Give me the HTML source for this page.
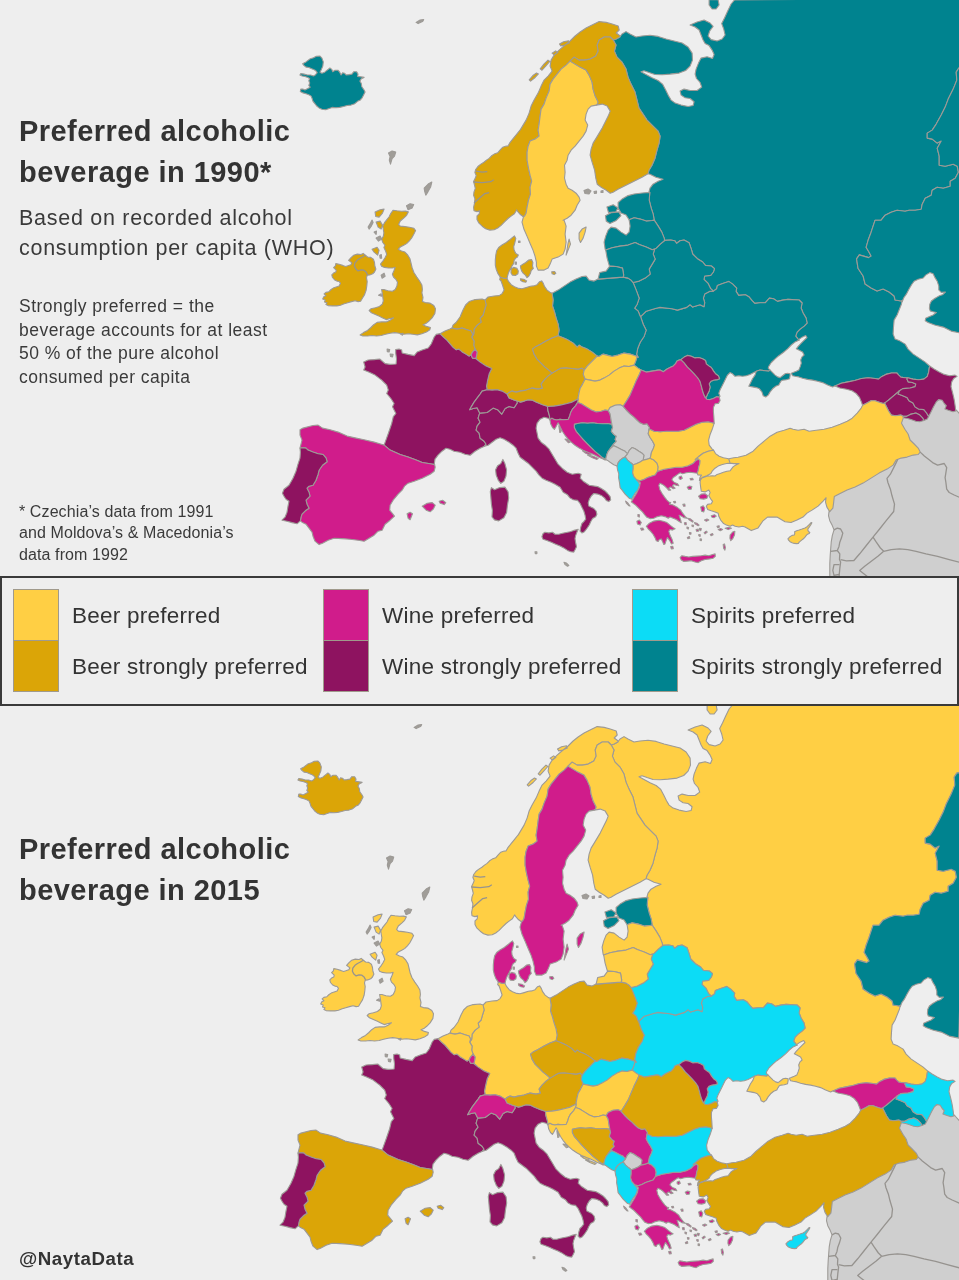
<!DOCTYPE html>
<html><head><meta charset="utf-8"><title>Preferred alcoholic beverage</title>
<style>
html,body{margin:0;padding:0;}
body{width:959px;height:1280px;position:relative;overflow:hidden;background:#eeeeee;font-family:"Liberation Sans",sans-serif;color:#333;}
svg.map{position:absolute;left:0;width:959px;height:577px;overflow:hidden;}
svg.map path{stroke:#9d9a96;stroke-width:1.1;stroke-linejoin:round;}
svg.map path.ln{stroke:#96938f;stroke-width:1.3;}
.t{position:absolute;left:19px;white-space:nowrap;margin:0;will-change:transform;}
.h1{font-weight:bold;font-size:29px;line-height:41.3px;letter-spacing:0.45px;color:#333;}
.sub{font-size:21.5px;line-height:30.1px;letter-spacing:0.72px;color:#3a3a3a;}
.note{font-size:17.5px;line-height:23.7px;letter-spacing:0.47px;color:#3a3a3a;}
.foot{font-size:16px;line-height:21.3px;letter-spacing:0.1px;color:#3a3a3a;}
.legend{position:absolute;left:0;top:576px;width:955px;height:126px;border:2px solid #3a3a3a;background:#eeeeee;}
.sw{position:absolute;width:44px;height:50px;border:1px solid #a09a8c;}
.lb{will-change:transform;position:absolute;font-size:22.5px;line-height:26px;letter-spacing:0.25px;white-space:nowrap;color:#333;}
</style></head><body>
<svg class="map" style="top:0" viewBox="0 0 959 577">
<path fill="#cfcfcf" d="M829.7,511.7L827.1,500.1L839.1,488.1L863.1,476.1L893.1,458.1L907.1,440L896.8,425.9L899.5,413.7L910.3,416.4L923.9,417.8L929.3,413.7L936.1,400.8L942.2,398.8L948.3,409L955.7,409.6L957.1,411L963.2,417.8L968,580L829,580L829.8,576L829.8,563.8L830.2,555.5L830.7,548.8L831.2,542.2L832.3,535.6L834,529.8L832.3,525.6L829.8,520.7L828.5,515.7L829,511.5ZM829.7,511.7L827.1,500.1L839.1,488.1L863.1,476.1L893.1,458.1L907.1,440L896.8,425.9L899.5,413.7L910.3,416.4L923.9,417.8L929.3,413.7L936.1,400.8L942.2,398.8L948.3,409L955.7,409.6L957.1,411L963.2,417.8L968,580L829,580L829.8,576L829.8,563.8L830.2,555.5L830.7,548.8L831.2,542.2L832.3,535.6L834,529.8L832.3,525.6L829.8,520.7L828.5,515.7L829,511.5Z"/>
<path fill="#00838f" d="M619.8,37L616.2,39L613.2,40L613.2,40L616,45L614.4,51.1L617,57.1L622,62.1L626,69.1L628,77.1L631,84.1L635,92.1L637,100.1L639,108.1L643,114.1L647,120.1L653,126.1L658.1,131.1L660.1,136.1L659.1,143.1L657,150.2L655,158.2L652,165.2L649,170.2L648,173.8L650,174.2L656,177.2L663.1,179.2L658.1,181.2L653,184.2L650,188.2L649,191.8L649.8,192.4L649.2,200.1L651.2,208.1L653.2,214.1L654.2,220.1L654.2,220.1L658.2,226.1L661.8,232.1L664.2,238.1L664.6,240.5L664.7,240.4L670.7,240L674.7,240.7L676.7,243.3L680,240.7L684,240L689.1,242.7L691.4,249.4L692.7,254L697.4,258.7L702.7,262L705.4,265.4L711.4,266L714.5,268.7L713.4,272L710.7,275.4L704.7,276L704,279.4L708.1,283.4L710.7,288.7L713.4,291.1L713.4,291.1L716.7,288.7L717.4,285.4L722.7,283.4L728.7,281.4L732.7,284.1L736.7,288.1L736.1,291.4L738.7,295.4L745.4,294.7L748.8,296.7L752.1,300.7L754.8,303.4L760.1,302.7L765.4,302.7L769.4,298.1L773.5,298.7L777.5,301.4L782.8,300.1L788,299.4L792.1,299.6L799.1,300L802.1,303L801.1,308L803.1,313L806.1,318.1L807.1,323.1L804.1,326.1L800.1,329.1L797.1,332.1L795.7,336.1L798.1,339.1L799.1,340.1L796.3,340.6L798.8,339.4L802.6,336.9L805.7,335.6L807,337.5L803.8,340.6L801.3,343.1L798.2,346.3L796.3,348.8L798.8,350L802.6,351.9L804.1,355L802,356.9L800.7,360L801.3,363.2L800.1,366.9L798.8,370.1L796.3,371.3L793.2,372.6L791.3,373.2L792.6,375.7L795.1,376.3L798.8,376.9L802.6,378.2L807.6,379.4L812.6,380.1L817.6,381.3L822.6,382.6L827.6,385.1L832.6,386.9L835.1,385.7L835.1,385.9L841.2,383.2L848,381.9L854.8,380.5L861.5,378.5L868.3,377.8L875.1,378.5L878.5,379.1L881.9,376.4L885.9,374.4L891.4,373L896.8,373L898.8,375.1L900.8,377.1L904.9,377.8L907.6,377.8L907.6,377.8L913,379.1L918.5,379.8L923.9,379.1L927.3,376.4L928.6,372.4L929.3,367.6L930,366.3L930,366.3L925.2,362.1L919.2,358.1L913.2,354.1L908.1,349.1L905.1,344.1L900.1,341.1L895.1,339.1L893.1,334.1L893.5,327.1L894.1,320.1L897.1,315L899.1,310L901.5,304L902.1,300.4L902.1,300.4L901.1,301L895.1,300L894.1,296L889.1,292L883.1,289L877.1,291L871.1,288L865.1,284L863.1,276L858,268.2L856.6,258.9L859.3,254.9L868.6,257.6L871.1,256.1L869.1,252.3L866.1,247.3L868.1,240.3L871.1,232.2L873.1,226.2L875.1,220.2L881.1,220.2L885.1,215.2L891.1,212.2L897.1,210.2L905.1,211.2L909.1,210.2L915.2,210.2L921.2,209.2L922.2,204.2L925.2,198.2L931.2,195.2L932.2,190.2L937.2,187.2L943.2,188.2L950.2,186.2L950.2,181.2L955.2,178.2L958.4,172.2L957.2,166.2L953.2,164.2L945.2,166.2L939.2,165.2L939.2,156.2L937.2,148.2L941.2,141.1L937.2,143.1L932.2,139.1L927.2,138.1L927.2,133.1L932.2,130.1L936.2,124.1L941.2,115.1L945.2,107.1L948.2,99.1L953.2,89.1L956.8,80.1L956.2,72.1L958.8,68.1L967.2,66.1L968,68L968,-2L734.5,0L731.1,4L727.7,11L724.5,18L721.7,23.6L723.7,29L725.1,35L722.1,39L717.1,41L711.1,39.6L708.1,36L709.7,31L713.1,26.4L710.1,23L704.1,20L697.1,22L690.1,25L695.1,27L699.1,30L701.1,35L703.1,40L705.1,43.6L709.1,45.6L712.1,50.1L714.1,54.5L712.5,58.5L707.1,56.7L701.1,58.1L698.5,63.1L696.1,69.1L695.1,74.1L696.5,78.5L700.1,82.5L701.7,87.1L697.1,90.5L690.1,90.5L684.1,89.1L680.1,91.1L681.1,95.1L685.1,97.7L690.1,98.5L694.1,101.7L693.1,105.5L688.1,106.5L681.1,105.1L675.1,103.1L671.1,100.1L668.5,95.7L665.7,90.1L662.5,84.1L658.1,80.5L652,77.7L646,74.5L641,71.7L644,70.7L649,72.5L655,74.5L662.1,74.7L670.1,74.1L679.1,73.1L685.7,70.5L690.1,66.1L692.5,60.1L692.1,53.1L688.1,47L682.1,43L674.1,41L666.1,39L658.1,36.4L650,35.2L642,36L636,37L630,34L626,31.6L622,34L619.8,37ZM709.1,-0.4L718.1,-0.4L719.1,5L716.1,9L712.1,9L709.1,5ZM619.8,37L616.2,39L613.2,40L613.2,40L616,45L614.4,51.1L617,57.1L622,62.1L626,69.1L628,77.1L631,84.1L635,92.1L637,100.1L639,108.1L643,114.1L647,120.1L653,126.1L658.1,131.1L660.1,136.1L659.1,143.1L657,150.2L655,158.2L652,165.2L649,170.2L648,173.8L650,174.2L656,177.2L663.1,179.2L658.1,181.2L653,184.2L650,188.2L649,191.8L649.8,192.4L649.2,200.1L651.2,208.1L653.2,214.1L654.2,220.1L654.2,220.1L658.2,226.1L661.8,232.1L664.2,238.1L664.6,240.5L664.7,240.4L670.7,240L674.7,240.7L676.7,243.3L680,240.7L684,240L689.1,242.7L691.4,249.4L692.7,254L697.4,258.7L702.7,262L705.4,265.4L711.4,266L714.5,268.7L713.4,272L710.7,275.4L704.7,276L704,279.4L708.1,283.4L710.7,288.7L713.4,291.1L713.4,291.1L716.7,288.7L717.4,285.4L722.7,283.4L728.7,281.4L732.7,284.1L736.7,288.1L736.1,291.4L738.7,295.4L745.4,294.7L748.8,296.7L752.1,300.7L754.8,303.4L760.1,302.7L765.4,302.7L769.4,298.1L773.5,298.7L777.5,301.4L782.8,300.1L788,299.4L792.1,299.6L799.1,300L802.1,303L801.1,308L803.1,313L806.1,318.1L807.1,323.1L804.1,326.1L800.1,329.1L797.1,332.1L795.7,336.1L798.1,339.1L799.1,340.1L796.3,340.6L798.8,339.4L802.6,336.9L805.7,335.6L807,337.5L803.8,340.6L801.3,343.1L798.2,346.3L796.3,348.8L798.8,350L802.6,351.9L804.1,355L802,356.9L800.7,360L801.3,363.2L800.1,366.9L798.8,370.1L796.3,371.3L793.2,372.6L791.3,373.2L792.6,375.7L795.1,376.3L798.8,376.9L802.6,378.2L807.6,379.4L812.6,380.1L817.6,381.3L822.6,382.6L827.6,385.1L832.6,386.9L835.1,385.7L835.1,385.9L841.2,383.2L848,381.9L854.8,380.5L861.5,378.5L868.3,377.8L875.1,378.5L878.5,379.1L881.9,376.4L885.9,374.4L891.4,373L896.8,373L898.8,375.1L900.8,377.1L904.9,377.8L907.6,377.8L907.6,377.8L913,379.1L918.5,379.8L923.9,379.1L927.3,376.4L928.6,372.4L929.3,367.6L930,366.3L930,366.3L925.2,362.1L919.2,358.1L913.2,354.1L908.1,349.1L905.1,344.1L900.1,341.1L895.1,339.1L893.1,334.1L893.5,327.1L894.1,320.1L897.1,315L899.1,310L901.5,304L902.1,300.4L902.1,300.4L901.1,301L895.1,300L894.1,296L889.1,292L883.1,289L877.1,291L871.1,288L865.1,284L863.1,276L858,268.2L856.6,258.9L859.3,254.9L868.6,257.6L871.1,256.1L869.1,252.3L866.1,247.3L868.1,240.3L871.1,232.2L873.1,226.2L875.1,220.2L881.1,220.2L885.1,215.2L891.1,212.2L897.1,210.2L905.1,211.2L909.1,210.2L915.2,210.2L921.2,209.2L922.2,204.2L925.2,198.2L931.2,195.2L932.2,190.2L937.2,187.2L943.2,188.2L950.2,186.2L950.2,181.2L955.2,178.2L958.4,172.2L957.2,166.2L953.2,164.2L945.2,166.2L939.2,165.2L939.2,156.2L937.2,148.2L941.2,141.1L937.2,143.1L932.2,139.1L927.2,138.1L927.2,133.1L932.2,130.1L936.2,124.1L941.2,115.1L945.2,107.1L948.2,99.1L953.2,89.1L956.8,80.1L956.2,72.1L958.8,68.1L967.2,66.1L968,68L968,-2L734.5,0L731.1,4L727.7,11L724.5,18L721.7,23.6L723.7,29L725.1,35L722.1,39L717.1,41L711.1,39.6L708.1,36L709.7,31L713.1,26.4L710.1,23L704.1,20L697.1,22L690.1,25L695.1,27L699.1,30L701.1,35L703.1,40L705.1,43.6L709.1,45.6L712.1,50.1L714.1,54.5L712.5,58.5L707.1,56.7L701.1,58.1L698.5,63.1L696.1,69.1L695.1,74.1L696.5,78.5L700.1,82.5L701.7,87.1L697.1,90.5L690.1,90.5L684.1,89.1L680.1,91.1L681.1,95.1L685.1,97.7L690.1,98.5L694.1,101.7L693.1,105.5L688.1,106.5L681.1,105.1L675.1,103.1L671.1,100.1L668.5,95.7L665.7,90.1L662.5,84.1L658.1,80.5L652,77.7L646,74.5L641,71.7L644,70.7L649,72.5L655,74.5L662.1,74.7L670.1,74.1L679.1,73.1L685.7,70.5L690.1,66.1L692.5,60.1L692.1,53.1L688.1,47L682.1,43L674.1,41L666.1,39L658.1,36.4L650,35.2L642,36L636,37L630,34L626,31.6L622,34L619.8,37ZM709.1,-0.4L718.1,-0.4L719.1,5L716.1,9L712.1,9L709.1,5Z"/>
<path fill="#00838f" d="M967.2,66.1L958.8,68.1L956.2,72.1L956.8,80.1L953.2,89.1L948.2,99.1L945.2,107.1L941.2,115.1L936.2,124.1L932.2,130.1L927.2,133.1L927.2,138.1L932.2,139.1L937.2,143.1L941.2,141.1L937.2,148.2L939.2,156.2L939.2,165.2L945.2,166.2L953.2,164.2L957.2,166.2L958.4,172.2L955.2,178.2L950.2,181.2L950.2,186.2L943.2,188.2L937.2,187.2L932.2,190.2L931.2,195.2L925.2,198.2L922.2,204.2L921.2,209.2L915.2,210.2L909.1,210.2L905.1,211.2L897.1,210.2L891.1,212.2L885.1,215.2L881.1,220.2L875.1,220.2L873.1,226.2L871.1,232.2L868.1,240.3L866.1,247.3L869.1,252.3L871.1,256.1L868.6,257.6L859.3,254.9L856.6,258.9L858,268.2L863.1,276L865.1,284L871.1,288L877.1,291L883.1,289L889.1,292L894.1,296L895.1,300L901.1,301L902.1,300.4L902.2,301.8L903.8,297.7L906.7,293.6L909.2,288.7L911.7,284.5L914.1,281.2L918.2,279.2L923.2,278L925.7,275.1L929.8,272.6L933.1,273.8L934.7,277.1L937.2,281.2L938.8,286.2L938.8,289.9L941.3,292.4L945.4,292L943,294.4L938.8,296.1L934.7,298.5L931.4,301L929.8,304.3L929.4,308.4L930.2,310.9L933.1,311.7L936.4,312.5L933.1,315L929,316.7L925.7,318.3L925.2,320.8L928.1,322.4L931.4,323.7L934.7,325L943.2,327.1L951.2,331.1L960.8,333.1L968,68ZM967.2,66.1L958.8,68.1L956.2,72.1L956.8,80.1L953.2,89.1L948.2,99.1L945.2,107.1L941.2,115.1L936.2,124.1L932.2,130.1L927.2,133.1L927.2,138.1L932.2,139.1L937.2,143.1L941.2,141.1L937.2,148.2L939.2,156.2L939.2,165.2L945.2,166.2L953.2,164.2L957.2,166.2L958.4,172.2L955.2,178.2L950.2,181.2L950.2,186.2L943.2,188.2L937.2,187.2L932.2,190.2L931.2,195.2L925.2,198.2L922.2,204.2L921.2,209.2L915.2,210.2L909.1,210.2L905.1,211.2L897.1,210.2L891.1,212.2L885.1,215.2L881.1,220.2L875.1,220.2L873.1,226.2L871.1,232.2L868.1,240.3L866.1,247.3L869.1,252.3L871.1,256.1L868.6,257.6L859.3,254.9L856.6,258.9L858,268.2L863.1,276L865.1,284L871.1,288L877.1,291L883.1,289L889.1,292L894.1,296L895.1,300L901.1,301L902.1,300.4L902.2,301.8L903.8,297.7L906.7,293.6L909.2,288.7L911.7,284.5L914.1,281.2L918.2,279.2L923.2,278L925.7,275.1L929.8,272.6L933.1,273.8L934.7,277.1L937.2,281.2L938.8,286.2L938.8,289.9L941.3,292.4L945.4,292L943,294.4L938.8,296.1L934.7,298.5L931.4,301L929.8,304.3L929.4,308.4L930.2,310.9L933.1,311.7L936.4,312.5L933.1,315L929,316.7L925.7,318.3L925.2,320.8L928.1,322.4L931.4,323.7L934.7,325L943.2,327.1L951.2,331.1L960.8,333.1L968,68Z"/>
<path fill="#00838f" d="M640.6,316.6L646.2,311.2L656.2,308.2L660,307.4L672,308.7L677.4,310.1L686.7,307.4L690,304.7L692.7,307.1L700,304.7L704,306.7L704.7,302.7L703.4,298.1L704.7,294.1L709.4,291.4L713.4,291.1L713.4,291.1L716.7,288.7L717.4,285.4L722.7,283.4L728.7,281.4L732.7,284.1L736.7,288.1L736.1,291.4L738.7,295.4L745.4,294.7L748.8,296.7L752.1,300.7L754.8,303.4L760.1,302.7L765.4,302.7L769.4,298.1L773.5,298.7L777.5,301.4L782.8,300.1L788,299.4L792.1,299.6L799.1,300L802.1,303L801.1,308L803.1,313L806.1,318.1L807.1,323.1L804.1,326.1L800.1,329.1L797.1,332.1L795.7,336.1L798.1,339.1L799.1,340.1L795.1,341.9L791.3,345L787.6,348.8L783.2,352.5L778.8,355.7L775.1,358.8L771.3,362.5L768.8,366.3L768.2,368.2L770.1,370.1L770.1,370.1L768.8,371.1L765.1,370.7L760,370.1L756.3,371.3L756.3,371.3L753.8,372.6L750,374.4L746.3,375.7L742.5,376.3L738.8,375.7L735,376.3L732.5,373.8L730,372.6L727.5,375.1L725.6,378.8L723.8,382.6L721.9,386.3L720,390.1L718.8,393.2L720,396.3L719.2,397.1L716.7,396.7L713.4,398.4L710.1,399.6L706.7,399.2L705,397.1L705,397.1L706.3,397.1L707.5,394.2L709.2,390.9L710.1,387.1L709.2,383.8L710.9,381.3L714.2,380L717.6,379.6L719.6,378.8L718.4,375.9L715.5,373.8L713.4,370.9L711.3,367.5L708.8,365.9L706.3,363.8L705.5,360.4L702.5,358.8L698.8,357.5L695,357.9L691.3,356.3L687.5,355.4L684.2,357.1L680.9,359.6L680.9,359.6L679.2,360L676.7,361.3L675.8,363.4L673.3,365.9L670,367.5L666.7,369.2L663.3,371.7L660,370L658.1,370.1L652.1,371.1L646.1,372.1L641.1,370.1L641.1,370.1L638.1,368.1L634.1,365.1L634.1,365.1L635.7,361.1L637.1,356.5L638.2,357.2L636.6,354.2L637.8,348.2L640.2,342.2L644.2,336.2L646.2,330.2L643.2,324.2L640.6,316.6ZM640.6,316.6L646.2,311.2L656.2,308.2L660,307.4L672,308.7L677.4,310.1L686.7,307.4L690,304.7L692.7,307.1L700,304.7L704,306.7L704.7,302.7L703.4,298.1L704.7,294.1L709.4,291.4L713.4,291.1L713.4,291.1L716.7,288.7L717.4,285.4L722.7,283.4L728.7,281.4L732.7,284.1L736.7,288.1L736.1,291.4L738.7,295.4L745.4,294.7L748.8,296.7L752.1,300.7L754.8,303.4L760.1,302.7L765.4,302.7L769.4,298.1L773.5,298.7L777.5,301.4L782.8,300.1L788,299.4L792.1,299.6L799.1,300L802.1,303L801.1,308L803.1,313L806.1,318.1L807.1,323.1L804.1,326.1L800.1,329.1L797.1,332.1L795.7,336.1L798.1,339.1L799.1,340.1L795.1,341.9L791.3,345L787.6,348.8L783.2,352.5L778.8,355.7L775.1,358.8L771.3,362.5L768.8,366.3L768.2,368.2L770.1,370.1L770.1,370.1L768.8,371.1L765.1,370.7L760,370.1L756.3,371.3L756.3,371.3L753.8,372.6L750,374.4L746.3,375.7L742.5,376.3L738.8,375.7L735,376.3L732.5,373.8L730,372.6L727.5,375.1L725.6,378.8L723.8,382.6L721.9,386.3L720,390.1L718.8,393.2L720,396.3L719.2,397.1L716.7,396.7L713.4,398.4L710.1,399.6L706.7,399.2L705,397.1L705,397.1L706.3,397.1L707.5,394.2L709.2,390.9L710.1,387.1L709.2,383.8L710.9,381.3L714.2,380L717.6,379.6L719.6,378.8L718.4,375.9L715.5,373.8L713.4,370.9L711.3,367.5L708.8,365.9L706.3,363.8L705.5,360.4L702.5,358.8L698.8,357.5L695,357.9L691.3,356.3L687.5,355.4L684.2,357.1L680.9,359.6L680.9,359.6L679.2,360L676.7,361.3L675.8,363.4L673.3,365.9L670,367.5L666.7,369.2L663.3,371.7L660,370L658.1,370.1L652.1,371.1L646.1,372.1L641.1,370.1L641.1,370.1L638.1,368.1L634.1,365.1L634.1,365.1L635.7,361.1L637.1,356.5L638.2,357.2L636.6,354.2L637.8,348.2L640.2,342.2L644.2,336.2L646.2,330.2L643.2,324.2L640.6,316.6Z"/>
<path fill="#00838f" d="M770.1,370.1L772.6,372.6L775.1,375.1L777.6,376.9L780.1,377.6L782.6,375.7L785.1,373.8L787.6,373.2L790.1,373.8L790.1,375.7L789.5,378.8L786.3,379.8L783.2,380.1L781.3,380.7L780.1,382.6L778.8,385.1L775.7,386.3L772.6,388.8L770.1,391.9L768.2,395.1L765.7,397L763.2,395.7L761.9,391.9L759.4,388.8L756.3,387.6L752.5,386.9L748.8,386.3L750.7,382.6L752.5,378.8L755,375.1L756.3,371.3L756.3,371.3L760,370.1L765.1,370.7L768.8,371.1L770.1,370.1ZM770.1,370.1L772.6,372.6L775.1,375.1L777.6,376.9L780.1,377.6L782.6,375.7L785.1,373.8L787.6,373.2L790.1,373.8L790.1,375.7L789.5,378.8L786.3,379.8L783.2,380.1L781.3,380.7L780.1,382.6L778.8,385.1L775.7,386.3L772.6,388.8L770.1,391.9L768.2,395.1L765.7,397L763.2,395.7L761.9,391.9L759.4,388.8L756.3,387.6L752.5,386.9L748.8,386.3L750.7,382.6L752.5,378.8L755,375.1L756.3,371.3L756.3,371.3L760,370.1L765.1,370.7L768.8,371.1L770.1,370.1Z"/>
<path fill="#00838f" d="M654.6,249.1L656.2,248.1L660.2,244.1L664.6,240.5L664.7,240.4L670.7,240L674.7,240.7L676.7,243.3L680,240.7L684,240L689.1,242.7L691.4,249.4L692.7,254L697.4,258.7L702.7,262L705.4,265.4L711.4,266L714.5,268.7L713.4,272L710.7,275.4L704.7,276L704,279.4L708.1,283.4L710.7,288.7L713.4,291.1L713.4,291.1L709.4,291.4L704.7,294.1L703.4,298.1L704.7,302.7L704,306.7L700,304.7L692.7,307.1L690,304.7L686.7,307.4L677.4,310.1L672,308.7L660,307.4L656.2,308.2L646.2,311.2L640.6,316.6L640.6,316.6L640.2,316.2L638.2,311.2L634.6,308.2L637.2,304.2L639.2,298.2L636.2,290.1L633.1,282.5L633.1,282.5L639.2,281.1L645.2,278.1L650.2,274.1L649.2,269.1L652.2,264.1L655.2,259.1L653.2,254.1L654.6,249.1ZM654.6,249.1L656.2,248.1L660.2,244.1L664.6,240.5L664.7,240.4L670.7,240L674.7,240.7L676.7,243.3L680,240.7L684,240L689.1,242.7L691.4,249.4L692.7,254L697.4,258.7L702.7,262L705.4,265.4L711.4,266L714.5,268.7L713.4,272L710.7,275.4L704.7,276L704,279.4L708.1,283.4L710.7,288.7L713.4,291.1L713.4,291.1L709.4,291.4L704.7,294.1L703.4,298.1L704.7,302.7L704,306.7L700,304.7L692.7,307.1L690,304.7L686.7,307.4L677.4,310.1L672,308.7L660,307.4L656.2,308.2L646.2,311.2L640.6,316.6L640.6,316.6L640.2,316.2L638.2,311.2L634.6,308.2L637.2,304.2L639.2,298.2L636.2,290.1L633.1,282.5L633.1,282.5L639.2,281.1L645.2,278.1L650.2,274.1L649.2,269.1L652.2,264.1L655.2,259.1L653.2,254.1L654.6,249.1Z"/>
<path fill="#00838f" d="M552.5,293.1L558.1,290.1L564.1,286.1L570.1,282.1L576.1,279.1L582.1,276.5L586.1,276.1L589.1,280.1L594.1,281.1L598.1,279.1L598.1,279.1L610.1,278.1L623.1,277.1L623.1,277.1L628.1,278.1L631.1,280.1L633.1,282.5L633.1,282.5L636.2,290.1L639.2,298.2L637.2,304.2L634.6,308.2L638.2,311.2L640.2,316.2L640.6,316.6L640.6,316.6L643.2,324.2L646.2,330.2L644.2,336.2L640.2,342.2L637.8,348.2L636.6,354.2L638.2,357.2L637.1,356.5L630.1,354.1L624.1,353.1L618.1,355.1L612.1,356.5L607,355.1L603,354.1L599,356.5L597.2,356.1L597.2,356.1L592.2,352.1L587.2,349.1L582.2,347.1L579.2,345.1L577.2,347.1L573.2,343.1L568.2,340.1L563.1,337.7L558.1,335.7L558.1,335.7L559.1,330.1L558.1,324.1L556.1,318.1L554.5,312L552.5,306L553.1,300L552.1,293.6ZM552.5,293.1L558.1,290.1L564.1,286.1L570.1,282.1L576.1,279.1L582.1,276.5L586.1,276.1L589.1,280.1L594.1,281.1L598.1,279.1L598.1,279.1L610.1,278.1L623.1,277.1L623.1,277.1L628.1,278.1L631.1,280.1L633.1,282.5L633.1,282.5L636.2,290.1L639.2,298.2L637.2,304.2L634.6,308.2L638.2,311.2L640.2,316.2L640.6,316.6L640.6,316.6L643.2,324.2L646.2,330.2L644.2,336.2L640.2,342.2L637.8,348.2L636.6,354.2L638.2,357.2L637.1,356.5L630.1,354.1L624.1,353.1L618.1,355.1L612.1,356.5L607,355.1L603,354.1L599,356.5L597.2,356.1L597.2,356.1L592.2,352.1L587.2,349.1L582.2,347.1L579.2,345.1L577.2,347.1L573.2,343.1L568.2,340.1L563.1,337.7L558.1,335.7L558.1,335.7L559.1,330.1L558.1,324.1L556.1,318.1L554.5,312L552.5,306L553.1,300L552.1,293.6Z"/>
<path fill="#dba507" d="M471.7,337.1L473.7,334.1L474.1,329.1L477.1,325.1L481.1,322.1L480.1,318.1L483.1,315L484.5,310L486.1,305L485.1,300L485.1,300L488.1,297L494.1,296L499.1,295.6L502.1,293.6L504.1,290L502.5,285L501.1,281L499.7,279.6L500.3,277.1L503.7,278.2L507,278.4L507,278.4L508.7,281.7L511.2,284.7L514.5,286.7L518.7,288.4L522,288.8L526.2,287.6L530.4,286.3L533.7,285.9L537.1,284.7L539.6,281.7L541.6,280.9L543.3,283.4L544.6,286.7L547.1,290.1L550.4,292.6L552.5,293.2L552.1,293.6L553.1,300L552.5,306L554.5,312L556.1,318.1L558.1,324.1L559.1,330.1L558.1,335.7L558.1,335.7L552.1,338.1L546.1,341.1L540.1,344.5L535.1,347.1L532.5,349.1L534.1,354.1L537.1,359.1L541.1,363.1L545.1,367.1L550.1,371.1L552.1,373.1L552.1,373.1L548.1,376.1L544.1,380.1L541.1,384.1L542.5,388.1L538.1,389.1L532.1,388.1L526.1,390.1L520.1,391.1L516.1,392.1L512.1,391.1L509.1,392.5L507.1,394.1L507.1,394.1L502.1,391.1L497.1,389.7L492.1,390.1L487.1,389.7L487.1,389.7L486.5,386.1L487.7,380.1L489.1,374.1L491.7,368.5L486.1,366.1L480.1,362.1L475.7,358.5L475.7,358.5L476.5,356.1L477.1,352.1L475.1,349.1L475.1,349.1L473.7,345.1L474.1,341.1L471.7,337.1ZM471.7,337.1L473.7,334.1L474.1,329.1L477.1,325.1L481.1,322.1L480.1,318.1L483.1,315L484.5,310L486.1,305L485.1,300L485.1,300L488.1,297L494.1,296L499.1,295.6L502.1,293.6L504.1,290L502.5,285L501.1,281L499.7,279.6L500.3,277.1L503.7,278.2L507,278.4L507,278.4L508.7,281.7L511.2,284.7L514.5,286.7L518.7,288.4L522,288.8L526.2,287.6L530.4,286.3L533.7,285.9L537.1,284.7L539.6,281.7L541.6,280.9L543.3,283.4L544.6,286.7L547.1,290.1L550.4,292.6L552.5,293.2L552.1,293.6L553.1,300L552.5,306L554.5,312L556.1,318.1L558.1,324.1L559.1,330.1L558.1,335.7L558.1,335.7L552.1,338.1L546.1,341.1L540.1,344.5L535.1,347.1L532.5,349.1L534.1,354.1L537.1,359.1L541.1,363.1L545.1,367.1L550.1,371.1L552.1,373.1L552.1,373.1L548.1,376.1L544.1,380.1L541.1,384.1L542.5,388.1L538.1,389.1L532.1,388.1L526.1,390.1L520.1,391.1L516.1,392.1L512.1,391.1L509.1,392.5L507.1,394.1L507.1,394.1L502.1,391.1L497.1,389.7L492.1,390.1L487.1,389.7L487.1,389.7L486.5,386.1L487.7,380.1L489.1,374.1L491.7,368.5L486.1,366.1L480.1,362.1L475.7,358.5L475.7,358.5L476.5,356.1L477.1,352.1L475.1,349.1L475.1,349.1L473.7,345.1L474.1,341.1L471.7,337.1Z"/>
<path fill="#8e1360" d="M384.1,445.1L385.9,440.1L388.3,433.5L391.7,423.5L393.3,416.7L395.9,413.5L392.5,406.7L394.1,403.5L390.9,398.5L386.7,393.5L388.3,390.1L386.7,385.1L381.7,380.1L375.1,375.1L368.1,371.7L363.7,370.1L365.1,367L363.7,362L368.1,360L374.1,359.6L379.7,359L382.1,361L385.1,363.6L390.1,364.4L396.1,364L396.5,359L395.7,353L395.7,349.6L399.1,349L401.7,350L402.1,353L408.1,354.4L414.2,355.6L417.2,352L422.2,350L428.2,348L431.2,344L434.2,337L436.2,334.4L440.2,333.6L440,333.7L443.6,337.1L447,340.1L450,343.7L453,347.1L456,349.7L459,349.1L462,351.7L466,354.1L469.1,356.1L471.1,355.1L471.1,355.1L472.5,358.1L475.7,358.5L475.7,358.5L480.1,362.1L486.1,366.1L491.7,368.5L489.1,374.1L487.7,380.1L486.5,386.1L487.1,389.7L487.1,389.7L482.1,391.1L480.1,394.1L477.1,398.1L474.1,402.1L471.1,407.1L469.7,409.7L473.1,408.5L477.1,407.7L479.7,413.1L479.7,413.1L478.1,418.2L480.1,422.2L477.1,426.2L476.1,430.2L479.1,433.2L480.1,438.2L484.1,441.2L486.1,444.2L484.5,446.2L484.5,446.2L480.1,448.2L475.1,451.2L470.1,455.2L465,454.2L460,452.2L454,451.2L450,449.2L446,448.2L442,451.2L438,455.2L435,459.2L434.4,463.2L434.6,464.6L434.6,464.6L430.2,463.7L422.2,462.5L416.2,460.1L408.1,457.1L400.1,454.5L390.1,450.1L384.1,445.1ZM502.9,459.4L504.9,463.6L506.6,469.8L506,476.1L503.9,481.3L500.8,483.4L498.3,480.3L496.2,475.1L495.6,469.8L497.6,465.7L500.8,463.6ZM384.1,445.1L385.9,440.1L388.3,433.5L391.7,423.5L393.3,416.7L395.9,413.5L392.5,406.7L394.1,403.5L390.9,398.5L386.7,393.5L388.3,390.1L386.7,385.1L381.7,380.1L375.1,375.1L368.1,371.7L363.7,370.1L365.1,367L363.7,362L368.1,360L374.1,359.6L379.7,359L382.1,361L385.1,363.6L390.1,364.4L396.1,364L396.5,359L395.7,353L395.7,349.6L399.1,349L401.7,350L402.1,353L408.1,354.4L414.2,355.6L417.2,352L422.2,350L428.2,348L431.2,344L434.2,337L436.2,334.4L440.2,333.6L440,333.7L443.6,337.1L447,340.1L450,343.7L453,347.1L456,349.7L459,349.1L462,351.7L466,354.1L469.1,356.1L471.1,355.1L471.1,355.1L472.5,358.1L475.7,358.5L475.7,358.5L480.1,362.1L486.1,366.1L491.7,368.5L489.1,374.1L487.7,380.1L486.5,386.1L487.1,389.7L487.1,389.7L482.1,391.1L480.1,394.1L477.1,398.1L474.1,402.1L471.1,407.1L469.7,409.7L473.1,408.5L477.1,407.7L479.7,413.1L479.7,413.1L478.1,418.2L480.1,422.2L477.1,426.2L476.1,430.2L479.1,433.2L480.1,438.2L484.1,441.2L486.1,444.2L484.5,446.2L484.5,446.2L480.1,448.2L475.1,451.2L470.1,455.2L465,454.2L460,452.2L454,451.2L450,449.2L446,448.2L442,451.2L438,455.2L435,459.2L434.4,463.2L434.6,464.6L434.6,464.6L430.2,463.7L422.2,462.5L416.2,460.1L408.1,457.1L400.1,454.5L390.1,450.1L384.1,445.1ZM502.9,459.4L504.9,463.6L506.6,469.8L506,476.1L503.9,481.3L500.8,483.4L498.3,480.3L496.2,475.1L495.6,469.8L497.6,465.7L500.8,463.6Z"/>
<path fill="#d01c8b" d="M384.1,445.1L390.1,450.1L400.1,454.5L408.1,457.1L416.2,460.1L422.2,462.5L430.2,463.7L434.6,464.6L434.6,464.6L435.2,467.2L434.2,471.2L430.2,474.2L422.2,478.2L414.2,481.2L408.1,483.2L404.5,486.2L402.1,490.2L398.1,494.2L393.1,500.2L390.1,505.2L389.7,510.2L392.1,513.2L394.5,516.2L390.1,520.2L385.1,524.2L382.1,530.2L378.1,531.2L374.1,535.2L369.1,538.2L364.1,541.2L358.1,540.2L350.1,539.2L342.1,538.6L334.1,538.2L328.1,540.2L322.5,543.2L319.1,544.6L315,541.2L313,536.2L312,532.2L309,528.2L306,524.2L302,522.2L300.4,520.8L300.4,520.8L301,517.2L302,514.2L306,510.2L309,508.2L307,504.2L306,500.2L310,496.2L309,492.2L307,488.2L309,486.2L313,485.2L316,480.2L318.1,474.2L319.1,470.2L322.5,465.2L327.1,461.7L326.1,458.1L323.1,454.5L318.1,453.7L313,452.1L308,450.1L306,448.1L303,447.7L300,448.1L300,448.1L301,444.1L302,440.1L300,435.1L300,429.7L303,428.1L313,425.5L318.1,425.1L322.5,428.1L330.1,429.7L338.1,432.1L347.1,436.1L356.1,438.1L364.1,439.7L374.1,442.1L382.1,444.5L384.1,445.1ZM422.2,506.2L427.2,503.2L432.2,502.6L435.2,505.2L433.2,509.2L430.2,511.8L426.2,510.2ZM439.2,501.2L442.6,500.2L445.8,502.6L444.2,504.6L440.2,503.2ZM407.1,513.8L410.1,512.2L412.5,513.8L411.1,517.2L410.1,519.8L408.1,518.2ZM384.1,445.1L390.1,450.1L400.1,454.5L408.1,457.1L416.2,460.1L422.2,462.5L430.2,463.7L434.6,464.6L434.6,464.6L435.2,467.2L434.2,471.2L430.2,474.2L422.2,478.2L414.2,481.2L408.1,483.2L404.5,486.2L402.1,490.2L398.1,494.2L393.1,500.2L390.1,505.2L389.7,510.2L392.1,513.2L394.5,516.2L390.1,520.2L385.1,524.2L382.1,530.2L378.1,531.2L374.1,535.2L369.1,538.2L364.1,541.2L358.1,540.2L350.1,539.2L342.1,538.6L334.1,538.2L328.1,540.2L322.5,543.2L319.1,544.6L315,541.2L313,536.2L312,532.2L309,528.2L306,524.2L302,522.2L300.4,520.8L300.4,520.8L301,517.2L302,514.2L306,510.2L309,508.2L307,504.2L306,500.2L310,496.2L309,492.2L307,488.2L309,486.2L313,485.2L316,480.2L318.1,474.2L319.1,470.2L322.5,465.2L327.1,461.7L326.1,458.1L323.1,454.5L318.1,453.7L313,452.1L308,450.1L306,448.1L303,447.7L300,448.1L300,448.1L301,444.1L302,440.1L300,435.1L300,429.7L303,428.1L313,425.5L318.1,425.1L322.5,428.1L330.1,429.7L338.1,432.1L347.1,436.1L356.1,438.1L364.1,439.7L374.1,442.1L382.1,444.5L384.1,445.1ZM422.2,506.2L427.2,503.2L432.2,502.6L435.2,505.2L433.2,509.2L430.2,511.8L426.2,510.2ZM439.2,501.2L442.6,500.2L445.8,502.6L444.2,504.6L440.2,503.2ZM407.1,513.8L410.1,512.2L412.5,513.8L411.1,517.2L410.1,519.8L408.1,518.2Z"/>
<path fill="#8e1360" d="M300,448.1L303,447.7L306,448.1L308,450.1L313,452.1L318.1,453.7L323.1,454.5L326.1,458.1L327.1,461.7L322.5,465.2L319.1,470.2L318.1,474.2L316,480.2L313,485.2L309,486.2L307,488.2L309,492.2L310,496.2L306,500.2L307,504.2L309,508.2L306,510.2L302,514.2L301,517.2L300.4,520.8L297,523.8L292,522.6L287,521.2L282,520.2L285,517.2L287,512.2L288,506.2L289,501.2L286,499.2L284,496.2L282.4,493.2L284,489.2L289,485.2L293,478.2L296,471.2L298,464.2L300,458.1L300.4,452.1ZM300,448.1L303,447.7L306,448.1L308,450.1L313,452.1L318.1,453.7L323.1,454.5L326.1,458.1L327.1,461.7L322.5,465.2L319.1,470.2L318.1,474.2L316,480.2L313,485.2L309,486.2L307,488.2L309,492.2L310,496.2L306,500.2L307,504.2L309,508.2L306,510.2L302,514.2L301,517.2L300.4,520.8L297,523.8L292,522.6L287,521.2L282,520.2L285,517.2L287,512.2L288,506.2L289,501.2L286,499.2L284,496.2L282.4,493.2L284,489.2L289,485.2L293,478.2L296,471.2L298,464.2L300,458.1L300.4,452.1Z"/>
<path fill="#8e1360" d="M484.5,446.2L486.1,444.2L484.1,441.2L480.1,438.2L479.1,433.2L476.1,430.2L477.1,426.2L480.1,422.2L478.1,418.2L479.7,413.1L479.7,413.1L487.1,412.5L493.1,408.1L498.1,410.1L501.7,414.2L505.1,408.5L509.1,406.5L514.1,407.7L517.1,403.1L517.1,401.1L517.1,401.1L520.1,402.1L524.1,401.1L528.1,399.7L532.1,400.1L536.1,402.1L542.1,404.5L548.1,406.5L547.5,406.9L547.8,410L548.5,412.5L549.4,415.7L550,419.8L548.1,418.2L544.1,417.2L540.1,419.2L537.1,423.2L536.1,428.2L537.1,433.2L538.1,438.2L541.1,442.2L545.1,445.2L549.1,449.2L552.1,454.2L555.1,459.2L558.1,464.2L562.1,468.2L567.2,472.2L572.2,474.2L578.2,473.2L581.2,474.2L580.2,478.2L583.2,481.2L589.2,485.2L597.6,486.6L601.3,488.5L605.1,491L607.6,493.5L610.1,496.6L610.7,499.8L608.8,501.6L606.3,500.4L604.5,497.9L601.3,495.4L597.6,494.1L593.8,493.5L591.3,496L589.4,499.1L588.2,502.9L588.8,506L591.3,507.3L593.8,508.5L596.1,511L596.9,514.2L595.7,516.7L592.6,518.5L590.7,521.7L589.4,524.8L586.9,528.5L584.4,531.7L581.9,532.9L580.1,531L580.7,527.3L581.9,523.5L583.8,521.7L585.7,519.2L585.1,515.4L583.8,511L581.9,507.3L580.1,503.5L577.5,500.4L573.2,499.8L570,497.9L567.5,494.8L563.2,492.3L560.1,487.2L555.1,484.2L551.1,482.2L546.1,480.2L542.1,478.2L539.1,475.2L536.1,471.2L532.1,467.2L528.1,463.2L524.1,460.2L520.1,457.2L518.1,453.2L516.1,448.2L513.1,445.2L509.1,442.2L504.1,439.2L500.1,437.8L496.1,439.2L492.1,442.2L488.1,445.2L484.5,446.2ZM491.4,487.6L494.5,489.7L499.7,487.6L504.9,487.1L508.1,491.7L508.7,498L507.4,505.3L506.6,512.6L503.9,517.8L498.7,520.9L494.5,519.9L492,516.8L492.4,510.5L491.4,504.2L490.8,496.9L490.3,491.7ZM578.2,529.2L576.9,532.3L575.7,535.4L575,538.6L575.7,542.9L576.5,546.7L575,549.8L573.8,552.1L570.7,551.7L567.5,550.4L563.8,547.9L560,546.1L555.7,544.2L551.3,542.3L546.9,540.4L543.1,539.2L541.9,536.7L543.1,533.5L545,532.3L548.8,532.9L552.5,532.3L555,534.2L558.8,534.2L562.5,533.3L566.3,532.5L570,531.7L573.8,530.4ZM484.5,446.2L486.1,444.2L484.1,441.2L480.1,438.2L479.1,433.2L476.1,430.2L477.1,426.2L480.1,422.2L478.1,418.2L479.7,413.1L479.7,413.1L487.1,412.5L493.1,408.1L498.1,410.1L501.7,414.2L505.1,408.5L509.1,406.5L514.1,407.7L517.1,403.1L517.1,401.1L517.1,401.1L520.1,402.1L524.1,401.1L528.1,399.7L532.1,400.1L536.1,402.1L542.1,404.5L548.1,406.5L547.5,406.9L547.8,410L548.5,412.5L549.4,415.7L550,419.8L548.1,418.2L544.1,417.2L540.1,419.2L537.1,423.2L536.1,428.2L537.1,433.2L538.1,438.2L541.1,442.2L545.1,445.2L549.1,449.2L552.1,454.2L555.1,459.2L558.1,464.2L562.1,468.2L567.2,472.2L572.2,474.2L578.2,473.2L581.2,474.2L580.2,478.2L583.2,481.2L589.2,485.2L597.6,486.6L601.3,488.5L605.1,491L607.6,493.5L610.1,496.6L610.7,499.8L608.8,501.6L606.3,500.4L604.5,497.9L601.3,495.4L597.6,494.1L593.8,493.5L591.3,496L589.4,499.1L588.2,502.9L588.8,506L591.3,507.3L593.8,508.5L596.1,511L596.9,514.2L595.7,516.7L592.6,518.5L590.7,521.7L589.4,524.8L586.9,528.5L584.4,531.7L581.9,532.9L580.1,531L580.7,527.3L581.9,523.5L583.8,521.7L585.7,519.2L585.1,515.4L583.8,511L581.9,507.3L580.1,503.5L577.5,500.4L573.2,499.8L570,497.9L567.5,494.8L563.2,492.3L560.1,487.2L555.1,484.2L551.1,482.2L546.1,480.2L542.1,478.2L539.1,475.2L536.1,471.2L532.1,467.2L528.1,463.2L524.1,460.2L520.1,457.2L518.1,453.2L516.1,448.2L513.1,445.2L509.1,442.2L504.1,439.2L500.1,437.8L496.1,439.2L492.1,442.2L488.1,445.2L484.5,446.2ZM491.4,487.6L494.5,489.7L499.7,487.6L504.9,487.1L508.1,491.7L508.7,498L507.4,505.3L506.6,512.6L503.9,517.8L498.7,520.9L494.5,519.9L492,516.8L492.4,510.5L491.4,504.2L490.8,496.9L490.3,491.7ZM578.2,529.2L576.9,532.3L575.7,535.4L575,538.6L575.7,542.9L576.5,546.7L575,549.8L573.8,552.1L570.7,551.7L567.5,550.4L563.8,547.9L560,546.1L555.7,544.2L551.3,542.3L546.9,540.4L543.1,539.2L541.9,536.7L543.1,533.5L545,532.3L548.8,532.9L552.5,532.3L555,534.2L558.8,534.2L562.5,533.3L566.3,532.5L570,531.7L573.8,530.4Z"/>
<path fill="#8e1360" d="M487.1,389.7L492.1,390.1L497.1,389.7L502.1,391.1L507.1,394.1L507.1,394.1L509.1,398.1L514.1,400.1L517.1,401.1L517.1,401.1L517.1,403.1L514.1,407.7L509.1,406.5L505.1,408.5L501.7,414.2L498.1,410.1L493.1,408.1L487.1,412.5L479.7,413.1L479.7,413.1L477.1,407.7L473.1,408.5L469.7,409.7L471.1,407.1L474.1,402.1L477.1,398.1L480.1,394.1L482.1,391.1L487.1,389.7ZM487.1,389.7L492.1,390.1L497.1,389.7L502.1,391.1L507.1,394.1L507.1,394.1L509.1,398.1L514.1,400.1L517.1,401.1L517.1,401.1L517.1,403.1L514.1,407.7L509.1,406.5L505.1,408.5L501.7,414.2L498.1,410.1L493.1,408.1L487.1,412.5L479.7,413.1L479.7,413.1L477.1,407.7L473.1,408.5L469.7,409.7L471.1,407.1L474.1,402.1L477.1,398.1L480.1,394.1L482.1,391.1L487.1,389.7Z"/>
<path fill="#dba507" d="M507.1,394.1L509.1,392.5L512.1,391.1L516.1,392.1L520.1,391.1L526.1,390.1L532.1,388.1L538.1,389.1L542.5,388.1L541.1,384.1L544.1,380.1L548.1,376.1L552.1,373.1L552.1,373.1L557.1,370.1L561.1,368.1L566.2,367.7L572.2,368.5L578.2,369.1L582.2,368.1L584.2,370.1L584.2,370.1L583.2,374.1L585.2,379.1L585.2,379.1L582.6,384.1L580.2,388.1L579.2,392.1L578.2,397.1L578.2,399.1L578.2,399.1L572.2,402.1L566.2,403.7L560.1,405.1L554.1,406.1L548.1,406.5L548.1,406.5L542.1,404.5L536.1,402.1L532.1,400.1L528.1,399.7L524.1,401.1L520.1,402.1L517.1,401.1L517.1,401.1L514.1,400.1L509.1,398.1L507.1,394.1ZM507.1,394.1L509.1,392.5L512.1,391.1L516.1,392.1L520.1,391.1L526.1,390.1L532.1,388.1L538.1,389.1L542.5,388.1L541.1,384.1L544.1,380.1L548.1,376.1L552.1,373.1L552.1,373.1L557.1,370.1L561.1,368.1L566.2,367.7L572.2,368.5L578.2,369.1L582.2,368.1L584.2,370.1L584.2,370.1L583.2,374.1L585.2,379.1L585.2,379.1L582.6,384.1L580.2,388.1L579.2,392.1L578.2,397.1L578.2,399.1L578.2,399.1L572.2,402.1L566.2,403.7L560.1,405.1L554.1,406.1L548.1,406.5L548.1,406.5L542.1,404.5L536.1,402.1L532.1,400.1L528.1,399.7L524.1,401.1L520.1,402.1L517.1,401.1L517.1,401.1L514.1,400.1L509.1,398.1L507.1,394.1Z"/>
<path fill="#dba507" d="M558.1,335.7L552.1,338.1L546.1,341.1L540.1,344.5L535.1,347.1L532.5,349.1L534.1,354.1L537.1,359.1L541.1,363.1L545.1,367.1L550.1,371.1L552.1,373.1L552.1,373.1L557.1,370.1L561.1,368.1L566.2,367.7L572.2,368.5L578.2,369.1L582.2,368.1L584.2,370.1L584.2,370.1L587.2,366.1L591.2,362.1L595.2,358.1L597.2,356.1L597.2,356.1L592.2,352.1L587.2,349.1L582.2,347.1L579.2,345.1L577.2,347.1L573.2,343.1L568.2,340.1L563.1,337.7L558.1,335.7ZM558.1,335.7L552.1,338.1L546.1,341.1L540.1,344.5L535.1,347.1L532.5,349.1L534.1,354.1L537.1,359.1L541.1,363.1L545.1,367.1L550.1,371.1L552.1,373.1L552.1,373.1L557.1,370.1L561.1,368.1L566.2,367.7L572.2,368.5L578.2,369.1L582.2,368.1L584.2,370.1L584.2,370.1L587.2,366.1L591.2,362.1L595.2,358.1L597.2,356.1L597.2,356.1L592.2,352.1L587.2,349.1L582.2,347.1L579.2,345.1L577.2,347.1L573.2,343.1L568.2,340.1L563.1,337.7L558.1,335.7Z"/>
<path fill="#ffcf44" d="M584.2,370.1L587.2,366.1L591.2,362.1L595.2,358.1L597.2,356.1L597.2,356.1L599,356.5L603,354.1L607,355.1L612.1,356.5L618.1,355.1L624.1,353.1L630.1,354.1L637.1,356.5L637.1,356.5L635.7,361.1L634.1,365.1L634.1,365.1L629.1,366.5L624.1,366.1L619.1,368.1L614.1,371.1L609.1,375.1L604,378.1L600,380.1L595,381.1L590,380.1L585.2,379.1L585.2,379.1L583.2,374.1L584.2,370.1ZM584.2,370.1L587.2,366.1L591.2,362.1L595.2,358.1L597.2,356.1L597.2,356.1L599,356.5L603,354.1L607,355.1L612.1,356.5L618.1,355.1L624.1,353.1L630.1,354.1L637.1,356.5L637.1,356.5L635.7,361.1L634.1,365.1L634.1,365.1L629.1,366.5L624.1,366.1L619.1,368.1L614.1,371.1L609.1,375.1L604,378.1L600,380.1L595,381.1L590,380.1L585.2,379.1L585.2,379.1L583.2,374.1L584.2,370.1Z"/>
<path fill="#ffcf44" d="M585.2,379.1L590,380.1L595,381.1L600,380.1L604,378.1L609.1,375.1L614.1,371.1L619.1,368.1L624.1,366.1L629.1,366.5L634.1,365.1L634.1,365.1L638.1,368.1L641.1,370.1L641.1,370.1L639.1,375.1L636.1,381.1L633.1,388.1L630.1,395.1L627.1,400.1L623.2,406.3L623.2,406.3L620.1,404.8L615.1,405.3L610.1,407.5L608.2,410.6L608.2,410.6L605.1,410L601.3,411.3L596.3,411.9L591.3,410L586.3,406.9L581.3,403.8L577.5,402.5L577.5,402.5L578.2,399.1L578.2,397.1L579.2,392.1L580.2,388.1L582.6,384.1L585.2,379.1ZM585.2,379.1L590,380.1L595,381.1L600,380.1L604,378.1L609.1,375.1L614.1,371.1L619.1,368.1L624.1,366.1L629.1,366.5L634.1,365.1L634.1,365.1L638.1,368.1L641.1,370.1L641.1,370.1L639.1,375.1L636.1,381.1L633.1,388.1L630.1,395.1L627.1,400.1L623.2,406.3L623.2,406.3L620.1,404.8L615.1,405.3L610.1,407.5L608.2,410.6L608.2,410.6L605.1,410L601.3,411.3L596.3,411.9L591.3,410L586.3,406.9L581.3,403.8L577.5,402.5L577.5,402.5L578.2,399.1L578.2,397.1L579.2,392.1L580.2,388.1L582.6,384.1L585.2,379.1Z"/>
<path fill="#8e1360" d="M548.1,406.5L554.1,406.1L560.1,405.1L566.2,403.7L572.2,402.1L578.2,399.1L578.2,399.1L577.5,402.5L577.5,402.5L575.7,405.6L572.3,409.4L570.7,412.5L569.8,415.7L568.2,419.4L563.8,419.8L560,419.4L556.9,420L553.8,419.4L551.9,418.2L550,419.8L550,419.8L549.4,415.7L548.5,412.5L547.8,410L547.5,406.9ZM548.1,406.5L554.1,406.1L560.1,405.1L566.2,403.7L572.2,402.1L578.2,399.1L578.2,399.1L577.5,402.5L577.5,402.5L575.7,405.6L572.3,409.4L570.7,412.5L569.8,415.7L568.2,419.4L563.8,419.8L560,419.4L556.9,420L553.8,419.4L551.9,418.2L550,419.8L550,419.8L549.4,415.7L548.5,412.5L547.8,410L547.5,406.9Z"/>
<path fill="#d01c8b" d="M550,419.8L551.9,418.2L553.8,419.4L556.9,420L560,419.4L563.8,419.8L568.2,419.4L569.8,415.7L570.7,412.5L572.3,409.4L575.7,405.6L577.5,402.5L577.5,402.5L581.3,403.8L586.3,406.9L591.3,410L596.3,411.9L601.3,411.3L605.1,410L608.2,410.6L608.2,410.6L610.1,413.8L610.7,417.5L611.3,421.3L611.9,424.4L611.9,424.4L607.6,423.5L602.6,423.8L597.6,423.5L592.6,422.8L587.5,423.2L582.5,422.8L577.5,423.5L574.4,424.4L574.4,424.4L574.4,427.5L576.3,431.3L579.4,435L583.2,439.4L587.5,443.8L591.3,447.6L595.1,451.3L598.8,454.4L602.6,457.6L605.7,459.4L605.7,459.4L605.1,460.1L602.6,458.8L598.8,457.2L595.1,455.3L591.3,453.4L587.5,452.2L583.2,450.3L578.8,447.8L575,445.3L571.3,442.2L568.2,439.1L565,435.3L562.5,431.5L560.6,427.8L558.8,424L558.1,422.8L556.9,425L555.6,427.5L554.4,429.4L552.5,427.5L550.6,423.8L550,419.8ZM558.8,425.7L560,426.3L561,431.9L559.8,432.5ZM565,439.1L566.9,439.4L570,442.3L568.5,442.8ZM582.5,450.9L586.3,451.6L591.3,454.1L590.1,455.1L585.7,453.2ZM587.5,455.1L592.6,456.1L598.2,458.6L596.9,459.4L591.9,457.6ZM550,419.8L551.9,418.2L553.8,419.4L556.9,420L560,419.4L563.8,419.8L568.2,419.4L569.8,415.7L570.7,412.5L572.3,409.4L575.7,405.6L577.5,402.5L577.5,402.5L581.3,403.8L586.3,406.9L591.3,410L596.3,411.9L601.3,411.3L605.1,410L608.2,410.6L608.2,410.6L610.1,413.8L610.7,417.5L611.3,421.3L611.9,424.4L611.9,424.4L607.6,423.5L602.6,423.8L597.6,423.5L592.6,422.8L587.5,423.2L582.5,422.8L577.5,423.5L574.4,424.4L574.4,424.4L574.4,427.5L576.3,431.3L579.4,435L583.2,439.4L587.5,443.8L591.3,447.6L595.1,451.3L598.8,454.4L602.6,457.6L605.7,459.4L605.7,459.4L605.1,460.1L602.6,458.8L598.8,457.2L595.1,455.3L591.3,453.4L587.5,452.2L583.2,450.3L578.8,447.8L575,445.3L571.3,442.2L568.2,439.1L565,435.3L562.5,431.5L560.6,427.8L558.8,424L558.1,422.8L556.9,425L555.6,427.5L554.4,429.4L552.5,427.5L550.6,423.8L550,419.8ZM558.8,425.7L560,426.3L561,431.9L559.8,432.5ZM565,439.1L566.9,439.4L570,442.3L568.5,442.8ZM582.5,450.9L586.3,451.6L591.3,454.1L590.1,455.1L585.7,453.2ZM587.5,455.1L592.6,456.1L598.2,458.6L596.9,459.4L591.9,457.6Z"/>
<path fill="#00838f" d="M574.4,424.4L577.5,423.5L582.5,422.8L587.5,423.2L592.6,422.8L597.6,423.5L602.6,423.8L607.6,423.5L611.9,424.4L611.9,424.4L612.6,427.5L611.3,431.3L613.8,434.4L616.3,436.3L615.1,439.4L616.3,441.3L613.8,443.8L611.9,446.3L610.1,448.8L610.1,448.8L608.2,451.3L606.9,454.4L606.1,457.6L605.7,459.4L605.7,459.4L602.6,457.6L598.8,454.4L595.1,451.3L591.3,447.6L587.5,443.8L583.2,439.4L579.4,435L576.3,431.3L574.4,427.5L574.4,424.4ZM574.4,424.4L577.5,423.5L582.5,422.8L587.5,423.2L592.6,422.8L597.6,423.5L602.6,423.8L607.6,423.5L611.9,424.4L611.9,424.4L612.6,427.5L611.3,431.3L613.8,434.4L616.3,436.3L615.1,439.4L616.3,441.3L613.8,443.8L611.9,446.3L610.1,448.8L610.1,448.8L608.2,451.3L606.9,454.4L606.1,457.6L605.7,459.4L605.7,459.4L602.6,457.6L598.8,454.4L595.1,451.3L591.3,447.6L587.5,443.8L583.2,439.4L579.4,435L576.3,431.3L574.4,427.5L574.4,424.4Z"/>
<path fill="#cfcfcf" d="M608.2,410.6L610.1,407.5L615.1,405.3L620.1,404.8L623.2,406.3L623.2,406.3L626.3,410L630.1,413.8L633.8,416.9L637,420L640.1,422.8L643.9,424.4L647,423.8L649.5,427.5L648.9,430L648.9,430L648.2,433.8L650.1,437.5L652.6,441.3L654.5,445.1L653.2,448.8L651.4,452.6L650.7,456.3L650.1,458.2L646.4,459.4L643.2,460.1L643.9,455.1L642,453.2L638.9,451.3L635.1,448.8L632,447.6L629.5,450.1L627.6,453.8L625.1,451.3L621.3,449.4L617.6,447.6L613.8,445.7L610.1,448.8L610.1,448.8L611.9,446.3L613.8,443.8L616.3,441.3L615.1,439.4L616.3,436.3L613.8,434.4L611.3,431.3L612.6,427.5L611.9,424.4L611.9,424.4L611.3,421.3L610.7,417.5L610.1,413.8L608.2,410.6ZM608.2,410.6L610.1,407.5L615.1,405.3L620.1,404.8L623.2,406.3L623.2,406.3L626.3,410L630.1,413.8L633.8,416.9L637,420L640.1,422.8L643.9,424.4L647,423.8L649.5,427.5L648.9,430L648.9,430L648.2,433.8L650.1,437.5L652.6,441.3L654.5,445.1L653.2,448.8L651.4,452.6L650.7,456.3L650.1,458.2L646.4,459.4L643.2,460.1L643.9,455.1L642,453.2L638.9,451.3L635.1,448.8L632,447.6L629.5,450.1L627.6,453.8L625.1,451.3L621.3,449.4L617.6,447.6L613.8,445.7L610.1,448.8L610.1,448.8L611.9,446.3L613.8,443.8L616.3,441.3L615.1,439.4L616.3,436.3L613.8,434.4L611.3,431.3L612.6,427.5L611.9,424.4L611.9,424.4L611.3,421.3L610.7,417.5L610.1,413.8L608.2,410.6Z"/>
<path fill="#cfcfcf" d="M610.1,448.8L613.8,445.7L617.6,447.6L621.3,449.4L625.1,451.3L627.6,453.8L625.1,456.9L622.6,458.2L620.1,460.1L618.2,462.6L617,466.1L613.8,464.7L610.1,462.3L607.6,460.4L605.7,459.4L606.1,457.6L606.9,454.4L608.2,451.3L610.1,448.8ZM610.1,448.8L613.8,445.7L617.6,447.6L621.3,449.4L625.1,451.3L627.6,453.8L625.1,456.9L622.6,458.2L620.1,460.1L618.2,462.6L617,466.1L613.8,464.7L610.1,462.3L607.6,460.4L605.7,459.4L606.1,457.6L606.9,454.4L608.2,451.3L610.1,448.8Z"/>
<path fill="#cfcfcf" d="M627.6,453.8L629.5,450.1L632,447.6L635.1,448.8L638.9,451.3L642,453.2L643.9,455.1L643.2,460.1L640.1,461.9L636.4,463.8L633.2,464.8L630.7,462.8L627.6,460.1L625.1,456.9ZM627.6,453.8L629.5,450.1L632,447.6L635.1,448.8L638.9,451.3L642,453.2L643.9,455.1L643.2,460.1L640.1,461.9L636.4,463.8L633.2,464.8L630.7,462.8L627.6,460.1L625.1,456.9Z"/>
<path fill="#0cdcf6" d="M617,466.1L618.2,462.6L620.1,460.1L622.6,458.2L625.1,456.9L627.6,460.1L630.7,462.8L633.2,464.8L633.2,468.8L632.6,472.6L633.8,476.3L636.4,479.5L638.9,482.6L639.5,485.1L637.7,490.2L634.5,494.2L631.7,499.2L629.1,498.2L625.1,494.2L622.1,490.2L620.1,487.6L619.5,482.6L618.6,477.6L618.8,473.8L617.6,470.1ZM617,466.1L618.2,462.6L620.1,460.1L622.6,458.2L625.1,456.9L627.6,460.1L630.7,462.8L633.2,464.8L633.2,468.8L632.6,472.6L633.8,476.3L636.4,479.5L638.9,482.6L639.5,485.1L637.7,490.2L634.5,494.2L631.7,499.2L629.1,498.2L625.1,494.2L622.1,490.2L620.1,487.6L619.5,482.6L618.6,477.6L618.8,473.8L617.6,470.1Z"/>
<path fill="#ffcf44" d="M633.2,464.8L636.4,463.8L640.1,461.9L643.2,460.1L646.4,459.4L650.1,458.2L650.1,458.2L653.9,460.1L657,463.2L658.2,467L657.6,471.3L657.6,471.3L655.1,475.1L651.4,476.3L647.6,477.6L643.9,479.5L640.1,480.7L637,480.1L633.8,476.3L632.6,472.6L633.2,468.8ZM633.2,464.8L636.4,463.8L640.1,461.9L643.2,460.1L646.4,459.4L650.1,458.2L650.1,458.2L653.9,460.1L657,463.2L658.2,467L657.6,471.3L657.6,471.3L655.1,475.1L651.4,476.3L647.6,477.6L643.9,479.5L640.1,480.7L637,480.1L633.8,476.3L632.6,472.6L633.2,468.8Z"/>
<path fill="#d01c8b" d="M631.3,501.9L633.8,497.6L636.9,492.6L639.4,487.5L640.3,482.8L637,480.1L640.1,480.7L643.9,479.5L647.6,477.6L651.4,476.3L655.1,475.1L657.6,471.3L664.1,469.2L670.1,468.2L676.1,467.2L682.1,467.2L688.1,465.8L693.1,463.2L696.1,460.2L698.1,459.2L695.1,459.4L698.2,458.8L700.1,460.6L699.8,463.8L698.8,466.9L698.2,470.7L697.6,473.2L693.8,472.8L690.1,472.3L686.3,472.8L682.6,473.8L680.1,472.8L677.6,474.4L675.1,476.3L673.2,477.5L671.9,479.8L674.4,482.5L677.6,483.8L678.8,485.7L676.3,485.3L673.8,484.4L672.5,486L675.1,488.2L673.2,488.8L670.7,486.9L668.8,488.2L670.7,490.1L668.8,490.3L666.9,488.2L665,486.3L662.5,484.4L660,483.2L658.8,485.3L659.8,489.4L661.9,493.2L664.4,496.9L666.9,500.1L668.8,501.9L670.7,502.6L669.4,504.4L672.5,504.8L677.6,507.6L680.7,510.1L682.6,513.2L685.1,516.3L686.9,518.2L683.8,517.6L681.3,516.1L679.1,515.3L680.7,520.1L681.3,522.8L678.8,521.3L676.3,519.5L673.2,518.2L670,517L668.2,518.2L665,516.6L661.3,515.7L657.5,516.6L653.8,518.2L650,518.6L646.9,517.3L645,515.1L642.5,511.9L640.6,510.1L638.1,507.6L635.6,505.1L633.1,503.2ZM646.3,526.3L649.4,523.2L653.8,521.1L658.8,520.3L663.2,521.3L666.9,522.6L670,525.1L673.2,527.6L675.1,528.8L672.5,530.1L670,529.5L668.8,531.3L670,535.1L671.9,538.9L673.2,543.2L671.5,543.9L669.4,540.1L667.5,537.6L666.3,540.1L665,543.9L663.8,544.5L662.5,541.4L661.3,538.9L659.4,539.5L658.2,541.4L656.3,540.7L655,537.6L653.2,534.5L650.7,531.3L648.1,528.8ZM680.1,557.6L681.9,555.7L685.1,556.4L688.8,557L692.6,556.4L696.9,556.1L701.3,555.7L705.1,555.1L708.8,555.7L712.6,554.5L715.1,553.9L715.3,556.4L713.2,558.2L709.5,558.9L705.1,559.5L701.3,560.8L698.2,562.6L695.1,562L691.3,560.8L687.6,561.1L683.8,561.4L681.3,560.1ZM679.1,476.9L681.3,476L682.3,478.2L680.7,479.4L679.2,478.8ZM690.1,478.5L692.6,478.2L693.2,479.8L690.7,480ZM687.2,487.3L689.4,486L691.9,486.5L691.3,489.1L688.6,489.4ZM698.6,496.3L701.3,494.1L705.1,493.8L707.6,495.7L707,498.2L703.8,499.1L700.1,498.8ZM700.7,506.9L703.2,505.7L704.8,508.2L703.8,511.9L701.6,511.3ZM711.3,515.7L714.5,514.8L716.3,516.1L714.1,517.6L712,517.3ZM704.5,520.1L707,519.1L708.8,520.1L706.3,521.3ZM730.1,535.1L732.6,532L734.9,531.3L734.5,535.1L732.6,538.9L730.7,540.7L729.9,538.2ZM723.2,544.5L724.5,543.9L725.4,547.6L724.9,550.1L723.6,548.2ZM718.2,529.5L720.7,528.6L722.6,529.5L720.3,530.7ZM682.8,504.4L684.8,504.1L685.1,506.1L683.6,506.3ZM673.6,501.6L675.3,501.3L675.7,502.8L674.1,502.9ZM687.6,518.2L690.1,518.8L693.2,521.1L692.6,522.1L689.4,520.1ZM694.4,522.6L696.9,523.2L699.1,525.1L698.2,525.8L695.3,524.1ZM684.4,522.8L686.1,522.6L686.3,524.8L684.8,524.6ZM686.9,527L688.6,527.6L688.2,529.1L687.1,528.6ZM689.4,532.6L691.1,532.8L690.8,534.3L689.6,534.1ZM691.9,525.1L693.6,525.3L693.2,526.8L692.1,526.3ZM696.1,529.5L698.2,529.1L698.6,531.1L696.6,531.3ZM699.5,528.2L701.3,528.6L700.8,530.7L699.6,530.1ZM698.8,534.5L700.3,534.8L700.1,536.4L698.8,535.8ZM704.1,532.6L706.3,531.1L707.3,532.1L705.1,533.8ZM710.3,534.5L712.6,533.6L713.1,534.8L711.1,535.8ZM687.3,537.4L689.4,536.6L689.8,538.1L687.8,538.6ZM700.1,538.9L701.6,539.1L701.3,540.7L700.1,540.4ZM717,526.3L719.1,525.7L719.3,527.1L717.6,527.6ZM725.1,528.2L728.9,527.3L731.4,528.3L728.2,529.6ZM625.6,501.1L627.5,502.6L630,506.1L628.8,505.7L626.3,503.2ZM637.9,514.5L639.4,514.8L639.3,517.1L638,516.6ZM636.9,521.3L639.4,520.1L641.3,522.6L640,525.1L637.5,524.1ZM640.6,528.3L642.8,528.1L643.8,529.8L641.5,530.3ZM670.7,546.6L672.8,546.4L673.3,548.6L671.3,548.9ZM631.3,501.9L633.8,497.6L636.9,492.6L639.4,487.5L640.3,482.8L637,480.1L640.1,480.7L643.9,479.5L647.6,477.6L651.4,476.3L655.1,475.1L657.6,471.3L664.1,469.2L670.1,468.2L676.1,467.2L682.1,467.2L688.1,465.8L693.1,463.2L696.1,460.2L698.1,459.2L695.1,459.4L698.2,458.8L700.1,460.6L699.8,463.8L698.8,466.9L698.2,470.7L697.6,473.2L693.8,472.8L690.1,472.3L686.3,472.8L682.6,473.8L680.1,472.8L677.6,474.4L675.1,476.3L673.2,477.5L671.9,479.8L674.4,482.5L677.6,483.8L678.8,485.7L676.3,485.3L673.8,484.4L672.5,486L675.1,488.2L673.2,488.8L670.7,486.9L668.8,488.2L670.7,490.1L668.8,490.3L666.9,488.2L665,486.3L662.5,484.4L660,483.2L658.8,485.3L659.8,489.4L661.9,493.2L664.4,496.9L666.9,500.1L668.8,501.9L670.7,502.6L669.4,504.4L672.5,504.8L677.6,507.6L680.7,510.1L682.6,513.2L685.1,516.3L686.9,518.2L683.8,517.6L681.3,516.1L679.1,515.3L680.7,520.1L681.3,522.8L678.8,521.3L676.3,519.5L673.2,518.2L670,517L668.2,518.2L665,516.6L661.3,515.7L657.5,516.6L653.8,518.2L650,518.6L646.9,517.3L645,515.1L642.5,511.9L640.6,510.1L638.1,507.6L635.6,505.1L633.1,503.2ZM646.3,526.3L649.4,523.2L653.8,521.1L658.8,520.3L663.2,521.3L666.9,522.6L670,525.1L673.2,527.6L675.1,528.8L672.5,530.1L670,529.5L668.8,531.3L670,535.1L671.9,538.9L673.2,543.2L671.5,543.9L669.4,540.1L667.5,537.6L666.3,540.1L665,543.9L663.8,544.5L662.5,541.4L661.3,538.9L659.4,539.5L658.2,541.4L656.3,540.7L655,537.6L653.2,534.5L650.7,531.3L648.1,528.8ZM680.1,557.6L681.9,555.7L685.1,556.4L688.8,557L692.6,556.4L696.9,556.1L701.3,555.7L705.1,555.1L708.8,555.7L712.6,554.5L715.1,553.9L715.3,556.4L713.2,558.2L709.5,558.9L705.1,559.5L701.3,560.8L698.2,562.6L695.1,562L691.3,560.8L687.6,561.1L683.8,561.4L681.3,560.1ZM679.1,476.9L681.3,476L682.3,478.2L680.7,479.4L679.2,478.8ZM690.1,478.5L692.6,478.2L693.2,479.8L690.7,480ZM687.2,487.3L689.4,486L691.9,486.5L691.3,489.1L688.6,489.4ZM698.6,496.3L701.3,494.1L705.1,493.8L707.6,495.7L707,498.2L703.8,499.1L700.1,498.8ZM700.7,506.9L703.2,505.7L704.8,508.2L703.8,511.9L701.6,511.3ZM711.3,515.7L714.5,514.8L716.3,516.1L714.1,517.6L712,517.3ZM704.5,520.1L707,519.1L708.8,520.1L706.3,521.3ZM730.1,535.1L732.6,532L734.9,531.3L734.5,535.1L732.6,538.9L730.7,540.7L729.9,538.2ZM723.2,544.5L724.5,543.9L725.4,547.6L724.9,550.1L723.6,548.2ZM718.2,529.5L720.7,528.6L722.6,529.5L720.3,530.7ZM682.8,504.4L684.8,504.1L685.1,506.1L683.6,506.3ZM673.6,501.6L675.3,501.3L675.7,502.8L674.1,502.9ZM687.6,518.2L690.1,518.8L693.2,521.1L692.6,522.1L689.4,520.1ZM694.4,522.6L696.9,523.2L699.1,525.1L698.2,525.8L695.3,524.1ZM684.4,522.8L686.1,522.6L686.3,524.8L684.8,524.6ZM686.9,527L688.6,527.6L688.2,529.1L687.1,528.6ZM689.4,532.6L691.1,532.8L690.8,534.3L689.6,534.1ZM691.9,525.1L693.6,525.3L693.2,526.8L692.1,526.3ZM696.1,529.5L698.2,529.1L698.6,531.1L696.6,531.3ZM699.5,528.2L701.3,528.6L700.8,530.7L699.6,530.1ZM698.8,534.5L700.3,534.8L700.1,536.4L698.8,535.8ZM704.1,532.6L706.3,531.1L707.3,532.1L705.1,533.8ZM710.3,534.5L712.6,533.6L713.1,534.8L711.1,535.8ZM687.3,537.4L689.4,536.6L689.8,538.1L687.8,538.6ZM700.1,538.9L701.6,539.1L701.3,540.7L700.1,540.4ZM717,526.3L719.1,525.7L719.3,527.1L717.6,527.6ZM725.1,528.2L728.9,527.3L731.4,528.3L728.2,529.6ZM625.6,501.1L627.5,502.6L630,506.1L628.8,505.7L626.3,503.2ZM637.9,514.5L639.4,514.8L639.3,517.1L638,516.6ZM636.9,521.3L639.4,520.1L641.3,522.6L640,525.1L637.5,524.1ZM640.6,528.3L642.8,528.1L643.8,529.8L641.5,530.3ZM670.7,546.6L672.8,546.4L673.3,548.6L671.3,548.9Z"/>
<path fill="#ffcf44" d="M648.9,430L650.1,429.2L654.1,431.2L660.1,431.8L666.1,431.2L672.1,431.2L678.1,431.2L684.1,430.2L690.1,427.2L696.1,424.2L702.1,422.2L708.2,421.8L714.2,423.2L712.6,428.2L710.2,434.2L708.6,440.2L709.2,445.2L712.2,449.2L713.2,450.2L713.2,450.2L708.2,451.2L703.1,453.2L699.1,456.2L698.1,459.2L698.1,459.2L696.1,460.2L693.1,463.2L688.1,465.8L682.1,467.2L676.1,467.2L670.1,468.2L664.1,469.2L657.6,471.3L657.6,471.3L658.2,467L657,463.2L653.9,460.1L650.1,458.2L650.1,458.2L650.7,456.3L651.4,452.6L653.2,448.8L654.5,445.1L652.6,441.3L650.1,437.5L648.2,433.8L648.9,430ZM648.9,430L650.1,429.2L654.1,431.2L660.1,431.8L666.1,431.2L672.1,431.2L678.1,431.2L684.1,430.2L690.1,427.2L696.1,424.2L702.1,422.2L708.2,421.8L714.2,423.2L712.6,428.2L710.2,434.2L708.6,440.2L709.2,445.2L712.2,449.2L713.2,450.2L713.2,450.2L708.2,451.2L703.1,453.2L699.1,456.2L698.1,459.2L698.1,459.2L696.1,460.2L693.1,463.2L688.1,465.8L682.1,467.2L676.1,467.2L670.1,468.2L664.1,469.2L657.6,471.3L657.6,471.3L658.2,467L657,463.2L653.9,460.1L650.1,458.2L650.1,458.2L650.7,456.3L651.4,452.6L653.2,448.8L654.5,445.1L652.6,441.3L650.1,437.5L648.2,433.8L648.9,430Z"/>
<path fill="#d01c8b" d="M641.1,370.1L646.1,372.1L652.1,371.1L658.1,370.1L660,370L663.3,371.7L666.7,369.2L670,367.5L673.3,365.9L675.8,363.4L676.7,361.3L679.2,360L680.9,359.6L680.9,359.6L684.2,362.9L687.5,367.1L690.9,370.4L694.2,373.8L697.5,377.5L700,381.3L701.3,385.9L702.5,390.5L703.8,394.6L705,397.1L705,397.1L706.7,399.2L710.1,399.6L713.4,398.4L716.7,396.7L719.2,397.1L719.2,397.1L720.1,400.5L718.4,403.4L715.1,403.8L713.4,407.6L713.4,411.7L713.8,416.2L714.2,423.2L714.2,423.2L708.2,421.8L702.1,422.2L696.1,424.2L690.1,427.2L684.1,430.2L678.1,431.2L672.1,431.2L666.1,431.2L660.1,431.8L654.1,431.2L650.1,429.2L648.9,430L648.9,430L649.5,427.5L647,423.8L643.9,424.4L640.1,422.8L637,420L633.8,416.9L630.1,413.8L626.3,410L623.2,406.3L623.2,406.3L627.1,400.1L630.1,395.1L633.1,388.1L636.1,381.1L639.1,375.1L641.1,370.1ZM641.1,370.1L646.1,372.1L652.1,371.1L658.1,370.1L660,370L663.3,371.7L666.7,369.2L670,367.5L673.3,365.9L675.8,363.4L676.7,361.3L679.2,360L680.9,359.6L680.9,359.6L684.2,362.9L687.5,367.1L690.9,370.4L694.2,373.8L697.5,377.5L700,381.3L701.3,385.9L702.5,390.5L703.8,394.6L705,397.1L705,397.1L706.7,399.2L710.1,399.6L713.4,398.4L716.7,396.7L719.2,397.1L719.2,397.1L720.1,400.5L718.4,403.4L715.1,403.8L713.4,407.6L713.4,411.7L713.8,416.2L714.2,423.2L714.2,423.2L708.2,421.8L702.1,422.2L696.1,424.2L690.1,427.2L684.1,430.2L678.1,431.2L672.1,431.2L666.1,431.2L660.1,431.8L654.1,431.2L650.1,429.2L648.9,430L648.9,430L649.5,427.5L647,423.8L643.9,424.4L640.1,422.8L637,420L633.8,416.9L630.1,413.8L626.3,410L623.2,406.3L623.2,406.3L627.1,400.1L630.1,395.1L633.1,388.1L636.1,381.1L639.1,375.1L641.1,370.1Z"/>
<path fill="#8e1360" d="M680.9,359.6L684.2,357.1L687.5,355.4L691.3,356.3L695,357.9L698.8,357.5L702.5,358.8L705.5,360.4L706.3,363.8L708.8,365.9L711.3,367.5L713.4,370.9L715.5,373.8L718.4,375.9L719.6,378.8L717.6,379.6L714.2,380L710.9,381.3L709.2,383.8L710.1,387.1L709.2,390.9L707.5,394.2L706.3,397.1L705,397.1L705,397.1L703.8,394.6L702.5,390.5L701.3,385.9L700,381.3L697.5,377.5L694.2,373.8L690.9,370.4L687.5,367.1L684.2,362.9L680.9,359.6ZM680.9,359.6L684.2,357.1L687.5,355.4L691.3,356.3L695,357.9L698.8,357.5L702.5,358.8L705.5,360.4L706.3,363.8L708.8,365.9L711.3,367.5L713.4,370.9L715.5,373.8L718.4,375.9L719.6,378.8L717.6,379.6L714.2,380L710.9,381.3L709.2,383.8L710.1,387.1L709.2,390.9L707.5,394.2L706.3,397.1L705,397.1L705,397.1L703.8,394.6L702.5,390.5L701.3,385.9L700,381.3L697.5,377.5L694.2,373.8L690.9,370.4L687.5,367.1L684.2,362.9L680.9,359.6Z"/>
<path fill="#00838f" d="M649.8,192.4L642.2,193L634.2,194L628.1,195.6L622.1,199.1L618.1,202.5L618.1,208.1L621.1,213.1L626.1,215.1L629.1,219.7L629.1,219.7L634.2,217.7L640.2,219.1L646.2,221.1L652.2,220.5L654.2,220.1L654.2,220.1L653.2,214.1L651.2,208.1L649.2,200.1L649.8,192.4ZM606.9,206.9L613.2,204.7L617.9,207.9L615.7,211.9L608.5,212.6ZM605.4,215.7L611.6,212.6L618.8,211.9L621,215.7L616.3,220.4L610,223.5L606.3,221.3ZM649.8,192.4L642.2,193L634.2,194L628.1,195.6L622.1,199.1L618.1,202.5L618.1,208.1L621.1,213.1L626.1,215.1L629.1,219.7L629.1,219.7L634.2,217.7L640.2,219.1L646.2,221.1L652.2,220.5L654.2,220.1L654.2,220.1L653.2,214.1L651.2,208.1L649.2,200.1L649.8,192.4ZM606.9,206.9L613.2,204.7L617.9,207.9L615.7,211.9L608.5,212.6ZM605.4,215.7L611.6,212.6L618.8,211.9L621,215.7L616.3,220.4L610,223.5L606.3,221.3Z"/>
<path fill="#00838f" d="M629.1,219.7L634.2,217.7L640.2,219.1L646.2,221.1L652.2,220.5L654.2,220.1L654.2,220.1L658.2,226.1L661.8,232.1L664.2,238.1L664.6,240.5L664.6,240.5L660.2,244.1L656.2,248.1L654.6,249.1L654.6,249.1L652.2,249.7L646.2,247.1L639.2,244.5L635.2,242.5L628.1,245.1L620.1,246.1L612.1,247.7L605.7,250.1L605.1,249.1L604.1,242.1L605.7,236.1L608.1,230.1L611.1,227.1L616.1,228.1L621.1,232.1L626.1,235.1L629.1,232.1L630.1,226.1ZM629.1,219.7L634.2,217.7L640.2,219.1L646.2,221.1L652.2,220.5L654.2,220.1L654.2,220.1L658.2,226.1L661.8,232.1L664.2,238.1L664.6,240.5L664.6,240.5L660.2,244.1L656.2,248.1L654.6,249.1L654.6,249.1L652.2,249.7L646.2,247.1L639.2,244.5L635.2,242.5L628.1,245.1L620.1,246.1L612.1,247.7L605.7,250.1L605.1,249.1L604.1,242.1L605.7,236.1L608.1,230.1L611.1,227.1L616.1,228.1L621.1,232.1L626.1,235.1L629.1,232.1L630.1,226.1Z"/>
<path fill="#00838f" d="M605.7,250.1L612.1,247.7L620.1,246.1L628.1,245.1L635.2,242.5L639.2,244.5L646.2,247.1L652.2,249.7L654.6,249.1L654.6,249.1L653.2,254.1L655.2,259.1L652.2,264.1L649.2,269.1L650.2,274.1L645.2,278.1L639.2,281.1L633.1,282.5L633.1,282.5L631.1,280.1L628.1,278.1L623.1,277.1L623.1,277.1L623.7,275.1L622.5,268.1L616.1,266.5L609.7,266.1L609.1,265.1L607.1,258.1ZM605.7,250.1L612.1,247.7L620.1,246.1L628.1,245.1L635.2,242.5L639.2,244.5L646.2,247.1L652.2,249.7L654.6,249.1L654.6,249.1L653.2,254.1L655.2,259.1L652.2,264.1L649.2,269.1L650.2,274.1L645.2,278.1L639.2,281.1L633.1,282.5L633.1,282.5L631.1,280.1L628.1,278.1L623.1,277.1L623.1,277.1L623.7,275.1L622.5,268.1L616.1,266.5L609.7,266.1L609.1,265.1L607.1,258.1Z"/>
<path fill="#00838f" d="M609.7,266.1L616.1,266.5L622.5,268.1L623.7,275.1L623.1,277.1L623.1,277.1L610.1,278.1L598.1,279.1L599.7,272.5L606.1,271.1ZM609.7,266.1L616.1,266.5L622.5,268.1L623.7,275.1L623.1,277.1L623.1,277.1L610.1,278.1L598.1,279.1L599.7,272.5L606.1,271.1Z"/>
<path fill="#dba507" d="M523.4,216.8L520,214.2L517.8,211.6L516.6,209.9L514.4,213.8L511.4,215.9L508,218.5L504.5,221.9L501.1,225.4L497.7,228L494.2,229.7L489.9,230.1L485.6,228.8L482.2,226.2L478.7,222.8L477,219.4L477,215.9L479.2,213.8L479.6,210.8L477,211.6L474,210.8L473.6,207.3L474.5,203L474.9,198.7L473.6,195.3L474,191.9L475.3,188.4L474.5,185L473.6,181.6L475.3,178.1L476.2,175.5L474.9,172.5L475.7,169.5L477.9,166.5L480.5,164.4L483.9,162.2L486.5,160.1L489.1,158.4L491.6,155.8L494.2,154.1L497.7,152.8L500.2,149.8L502.8,147.2L505.4,146.3L508,145.9L509.7,142.9L513.1,138.6L516.6,134.3L520,130L520.1,130.1L523.1,125.1L526.1,120.1L529.1,113.1L531.1,106.1L534.1,100.1L538.1,93.1L541.1,86.1L544.1,80.1L548.1,76.1L552.1,71.1L550.1,66.1L551.1,60.1L554.1,55.1L559.1,50.1L565.1,45L570.1,41L575.1,36L580.1,32L586.1,28L592.1,25L599.2,21.6L606.2,22.4L612.2,24L618.2,26L619.2,30L616.2,33L620.2,36L619.8,37L619.8,37L616.2,39L613.2,40L613.2,40L610.2,37L604.2,37L599.2,40L597.2,45L598.2,51.1L595.8,56.1L590.1,59.1L584.1,60.1L579.1,60.1L574.1,57.1L570.1,61.1L570.1,61.1L566.1,65.1L561.1,69.1L557.1,74.1L553.1,79.1L550.1,84.1L549.1,91.1L546.1,98.1L544.1,104.1L541.1,109.1L540.1,116.1L539.1,124.1L538.1,130.1L539.1,136.1L535.1,139.1L530.1,141.1L528.1,146.2L527.1,152.2L527.1,160.2L528.5,168.2L530.1,175.2L531.7,181.2L530.1,187.2L530.5,194.2L528.5,200.2L527.1,207.2L526.1,213.2L524.5,216.2L523.7,216.2ZM529.2,79.8L533.3,75.2L536.5,73L538.4,73.9L535.1,77.5L530.6,81.2ZM540.2,68.8L543.9,64.2L548,60.1L549.8,61.5L545.7,66.1L542,70.2ZM559.5,44L563.6,41.8L568.6,40.8L569.3,43.1L564.7,45L560.8,45.9ZM552.1,53.2L555.6,50.9L557.9,52.3L554.4,55.1ZM523.4,216.8L520,214.2L517.8,211.6L516.6,209.9L514.4,213.8L511.4,215.9L508,218.5L504.5,221.9L501.1,225.4L497.7,228L494.2,229.7L489.9,230.1L485.6,228.8L482.2,226.2L478.7,222.8L477,219.4L477,215.9L479.2,213.8L479.6,210.8L477,211.6L474,210.8L473.6,207.3L474.5,203L474.9,198.7L473.6,195.3L474,191.9L475.3,188.4L474.5,185L473.6,181.6L475.3,178.1L476.2,175.5L474.9,172.5L475.7,169.5L477.9,166.5L480.5,164.4L483.9,162.2L486.5,160.1L489.1,158.4L491.6,155.8L494.2,154.1L497.7,152.8L500.2,149.8L502.8,147.2L505.4,146.3L508,145.9L509.7,142.9L513.1,138.6L516.6,134.3L520,130L520.1,130.1L523.1,125.1L526.1,120.1L529.1,113.1L531.1,106.1L534.1,100.1L538.1,93.1L541.1,86.1L544.1,80.1L548.1,76.1L552.1,71.1L550.1,66.1L551.1,60.1L554.1,55.1L559.1,50.1L565.1,45L570.1,41L575.1,36L580.1,32L586.1,28L592.1,25L599.2,21.6L606.2,22.4L612.2,24L618.2,26L619.2,30L616.2,33L620.2,36L619.8,37L619.8,37L616.2,39L613.2,40L613.2,40L610.2,37L604.2,37L599.2,40L597.2,45L598.2,51.1L595.8,56.1L590.1,59.1L584.1,60.1L579.1,60.1L574.1,57.1L570.1,61.1L570.1,61.1L566.1,65.1L561.1,69.1L557.1,74.1L553.1,79.1L550.1,84.1L549.1,91.1L546.1,98.1L544.1,104.1L541.1,109.1L540.1,116.1L539.1,124.1L538.1,130.1L539.1,136.1L535.1,139.1L530.1,141.1L528.1,146.2L527.1,152.2L527.1,160.2L528.5,168.2L530.1,175.2L531.7,181.2L530.1,187.2L530.5,194.2L528.5,200.2L527.1,207.2L526.1,213.2L524.5,216.2L523.7,216.2ZM529.2,79.8L533.3,75.2L536.5,73L538.4,73.9L535.1,77.5L530.6,81.2ZM540.2,68.8L543.9,64.2L548,60.1L549.8,61.5L545.7,66.1L542,70.2ZM559.5,44L563.6,41.8L568.6,40.8L569.3,43.1L564.7,45L560.8,45.9ZM552.1,53.2L555.6,50.9L557.9,52.3L554.4,55.1Z"/>
<path fill="#ffcf44" d="M524.5,216.2L526.1,213.2L527.1,207.2L528.5,200.2L530.5,194.2L530.1,187.2L531.7,181.2L530.1,175.2L528.5,168.2L527.1,160.2L527.1,152.2L528.1,146.2L530.1,141.1L535.1,139.1L539.1,136.1L538.1,130.1L539.1,124.1L540.1,116.1L541.1,109.1L544.1,104.1L546.1,98.1L549.1,91.1L550.1,84.1L553.1,79.1L557.1,74.1L561.1,69.1L566.1,65.1L570.1,61.1L570.1,61.1L575.1,64.1L580.1,67.1L586.1,70.1L589.1,75.1L592.1,82.1L593.1,89.1L595.2,96.1L598.2,102.1L597.2,104.5L596.2,105.1L596.2,105.1L591.1,106.1L588.1,109.1L586.1,114.1L585.1,120.1L587.7,125.1L586.1,131.1L583.1,136.1L579.1,141.1L575.1,146.2L571.1,150.2L568.1,155.2L567.1,160.2L564.5,165.2L565.1,172.2L564.5,178.2L566.1,184.2L568.1,188.2L572.1,190.2L576.1,193.2L579.1,197.2L580.1,200.2L577.1,205.2L575.1,210.2L571.1,215.2L567.1,218.2L563.1,220.2L564.1,220.1L566.1,226.1L565.1,234.1L566.1,242.1L565.1,249.1L563.1,254.1L558.1,257.1L552.1,259.1L550.1,264.1L548.1,268.1L544.1,270.1L538.1,270.1L536.4,266.1L536.4,262.1L535,256.1L533,250.1L530,243.3L527,236.1L524,229.3L522,222.1L523.6,216.3ZM579.1,233.1L582.1,229.1L586.1,227.1L585.1,232.1L583.1,238.1L580.5,242.5L579.1,239.1ZM569.1,239.1L570.5,244.1L568.1,250.1L566.1,255.1L567.1,249.1L568.1,243.1ZM524.5,216.2L526.1,213.2L527.1,207.2L528.5,200.2L530.5,194.2L530.1,187.2L531.7,181.2L530.1,175.2L528.5,168.2L527.1,160.2L527.1,152.2L528.1,146.2L530.1,141.1L535.1,139.1L539.1,136.1L538.1,130.1L539.1,124.1L540.1,116.1L541.1,109.1L544.1,104.1L546.1,98.1L549.1,91.1L550.1,84.1L553.1,79.1L557.1,74.1L561.1,69.1L566.1,65.1L570.1,61.1L570.1,61.1L575.1,64.1L580.1,67.1L586.1,70.1L589.1,75.1L592.1,82.1L593.1,89.1L595.2,96.1L598.2,102.1L597.2,104.5L596.2,105.1L596.2,105.1L591.1,106.1L588.1,109.1L586.1,114.1L585.1,120.1L587.7,125.1L586.1,131.1L583.1,136.1L579.1,141.1L575.1,146.2L571.1,150.2L568.1,155.2L567.1,160.2L564.5,165.2L565.1,172.2L564.5,178.2L566.1,184.2L568.1,188.2L572.1,190.2L576.1,193.2L579.1,197.2L580.1,200.2L577.1,205.2L575.1,210.2L571.1,215.2L567.1,218.2L563.1,220.2L564.1,220.1L566.1,226.1L565.1,234.1L566.1,242.1L565.1,249.1L563.1,254.1L558.1,257.1L552.1,259.1L550.1,264.1L548.1,268.1L544.1,270.1L538.1,270.1L536.4,266.1L536.4,262.1L535,256.1L533,250.1L530,243.3L527,236.1L524,229.3L522,222.1L523.6,216.3ZM579.1,233.1L582.1,229.1L586.1,227.1L585.1,232.1L583.1,238.1L580.5,242.5L579.1,239.1ZM569.1,239.1L570.5,244.1L568.1,250.1L566.1,255.1L567.1,249.1L568.1,243.1Z"/>
<path fill="#dba507" d="M570.1,61.1L574.1,57.1L579.1,60.1L584.1,60.1L590.1,59.1L595.8,56.1L598.2,51.1L597.2,45L599.2,40L604.2,37L610.2,37L613.2,40L613.2,40L616,45L614.4,51.1L617,57.1L622,62.1L626,69.1L628,77.1L631,84.1L635,92.1L637,100.1L639,108.1L643,114.1L647,120.1L653,126.1L658.1,131.1L660.1,136.1L659.1,143.1L657,150.2L655,158.2L652,165.2L649,170.2L648,173.8L648,173.8L642,177.2L636,180.2L630,183.2L624,186.2L618,189.2L613,192.2L610.2,193.2L606.2,190.2L601.2,187.2L597.2,184.2L595.8,178.2L594.6,170.2L592.1,162.2L590.1,155.2L591.1,149.2L593.1,143.1L596.2,138.1L599.2,133.1L602.2,128.1L605.2,122.1L608.2,116.1L610.2,111.1L607.2,106.1L602.2,104.1L596.2,105.1L596.2,105.1L597.2,104.5L598.2,102.1L595.2,96.1L593.1,89.1L592.1,82.1L589.1,75.1L586.1,70.1L580.1,67.1L575.1,64.1L570.1,61.1ZM570.1,61.1L574.1,57.1L579.1,60.1L584.1,60.1L590.1,59.1L595.8,56.1L598.2,51.1L597.2,45L599.2,40L604.2,37L610.2,37L613.2,40L613.2,40L616,45L614.4,51.1L617,57.1L622,62.1L626,69.1L628,77.1L631,84.1L635,92.1L637,100.1L639,108.1L643,114.1L647,120.1L653,126.1L658.1,131.1L660.1,136.1L659.1,143.1L657,150.2L655,158.2L652,165.2L649,170.2L648,173.8L648,173.8L642,177.2L636,180.2L630,183.2L624,186.2L618,189.2L613,192.2L610.2,193.2L606.2,190.2L601.2,187.2L597.2,184.2L595.8,178.2L594.6,170.2L592.1,162.2L590.1,155.2L591.1,149.2L593.1,143.1L596.2,138.1L599.2,133.1L602.2,128.1L605.2,122.1L608.2,116.1L610.2,111.1L607.2,106.1L602.2,104.1L596.2,105.1L596.2,105.1L597.2,104.5L598.2,102.1L595.2,96.1L593.1,89.1L592.1,82.1L589.1,75.1L586.1,70.1L580.1,67.1L575.1,64.1L570.1,61.1Z"/>
<path fill="#dba507" d="M514.5,235.9L515.8,238.4L514.9,242.5L513.7,246.7L514.1,250L515.8,253.4L518.3,255L517.4,257.1L515.4,258.4L514.1,260.5L513.7,263.4L512,265.9L510.8,268.4L509.5,270.5L508.3,273.4L507.4,276.7L507,278.4L507,278.4L503.7,278.2L500.3,277.1L497.8,273.4L496.2,269.2L495.3,265.1L495.3,260L495.8,255L496.6,250.9L498.7,247.5L502,245L506.2,242.5L510.4,239.2L512.9,237.1ZM511.2,268.8L513.7,267.4L517,268.4L518.3,270.9L517.9,273.8L515.4,275.5L512.4,275.1L511,273ZM520.4,265.9L522.9,264.2L525.8,262.5L528.7,260L531.6,259.6L532.9,262.5L532.5,265.9L533.3,268.4L531.2,270.5L530.4,273.4L528.7,276.3L527,277.6L525.4,275.1L523.3,273.4L521.6,270.9L520.8,268.4ZM520.4,278.8L523.7,279.2L526.6,280.9L525.8,282.2L522.9,281.7L520.8,280.5ZM551.7,271.7L554.6,271.6L555.8,273.4L554.2,274.6L552.1,273.8ZM514.5,235.9L515.8,238.4L514.9,242.5L513.7,246.7L514.1,250L515.8,253.4L518.3,255L517.4,257.1L515.4,258.4L514.1,260.5L513.7,263.4L512,265.9L510.8,268.4L509.5,270.5L508.3,273.4L507.4,276.7L507,278.4L507,278.4L503.7,278.2L500.3,277.1L497.8,273.4L496.2,269.2L495.3,265.1L495.3,260L495.8,255L496.6,250.9L498.7,247.5L502,245L506.2,242.5L510.4,239.2L512.9,237.1ZM511.2,268.8L513.7,267.4L517,268.4L518.3,270.9L517.9,273.8L515.4,275.5L512.4,275.1L511,273ZM520.4,265.9L522.9,264.2L525.8,262.5L528.7,260L531.6,259.6L532.9,262.5L532.5,265.9L533.3,268.4L531.2,270.5L530.4,273.4L528.7,276.3L527,277.6L525.4,275.1L523.3,273.4L521.6,270.9L520.8,268.4ZM520.4,278.8L523.7,279.2L526.6,280.9L525.8,282.2L522.9,281.7L520.8,280.5ZM551.7,271.7L554.6,271.6L555.8,273.4L554.2,274.6L552.1,273.8Z"/>
<path fill="#dba507" d="M452,328.1L453,325.1L456,322.5L460,317L463,310L465.6,305L469.1,301.6L475.1,299.6L482.1,299L485.1,300L485.1,300L486.1,305L484.5,310L483.1,315L480.1,318.1L481.1,322.1L477.1,325.1L474.1,329.1L473.7,334.1L471.7,337.1L471.7,337.1L472.5,334.1L471.1,331.1L467,329.7L462,328.1L457,329.1L452,328.1ZM452,328.1L453,325.1L456,322.5L460,317L463,310L465.6,305L469.1,301.6L475.1,299.6L482.1,299L485.1,300L485.1,300L486.1,305L484.5,310L483.1,315L480.1,318.1L481.1,322.1L477.1,325.1L474.1,329.1L473.7,334.1L471.7,337.1L471.7,337.1L472.5,334.1L471.1,331.1L467,329.7L462,328.1L457,329.1L452,328.1Z"/>
<path fill="#dba507" d="M440,333.7L445,331.1L450,329.1L452,328.1L452,328.1L457,329.1L462,328.1L467,329.7L471.1,331.1L472.5,334.1L471.7,337.1L471.7,337.1L474.1,341.1L473.7,345.1L475.1,349.1L475.1,349.1L472.5,352.1L471.1,355.1L471.1,355.1L469.1,356.1L466,354.1L462,351.7L459,349.1L456,349.7L453,347.1L450,343.7L447,340.1L443.6,337.1L440,333.7ZM440,333.7L445,331.1L450,329.1L452,328.1L452,328.1L457,329.1L462,328.1L467,329.7L471.1,331.1L472.5,334.1L471.7,337.1L471.7,337.1L474.1,341.1L473.7,345.1L475.1,349.1L475.1,349.1L472.5,352.1L471.1,355.1L471.1,355.1L469.1,356.1L466,354.1L462,351.7L459,349.1L456,349.7L453,347.1L450,343.7L447,340.1L443.6,337.1L440,333.7Z"/>
<path fill="#d01c8b" d="M475.1,349.1L477.1,352.1L476.5,356.1L475.7,358.5L475.7,358.5L472.5,358.1L471.1,355.1L471.1,355.1L472.5,352.1L475.1,349.1ZM475.1,349.1L477.1,352.1L476.5,356.1L475.7,358.5L475.7,358.5L472.5,358.1L471.1,355.1L471.1,355.1L472.5,352.1L475.1,349.1Z"/>
<path fill="#dba507" d="M393,210.2L396.9,210.8L401.5,211.3L405.4,211.1L408.3,211.9L406.6,215.3L403.7,218.1L400.3,221L398.6,224.4L400.3,226.1L404.9,226.6L409.4,227.2L413.9,228.3L415.6,230.6L413.9,234L411.7,238L409.4,240.8L406.6,243.6L403.7,245.3L400.3,247L398.1,249.3L401.5,251L404.9,252.1L407.7,255L410,258.9L411.1,263.5L412.2,268L413.9,272.5L416.8,277.1L419.6,281L421.9,285L422.4,289.5L421.9,292.9L423,297.5L422.4,301.4L425.3,302.6L429.8,303.1L433.8,305.4L435.5,308.8L434.9,313.4L432.1,317.9L428.7,321.3L425.8,323.6L423,324.7L426.4,326.4L430.4,327.5L429.8,329.8L426.4,332.1L421.9,333.8L417.3,334.9L412.8,334.3L408.3,333.8L403.7,334.3L399.2,333.2L394.7,332.6L390.1,333.2L385.6,334.3L381.1,335.5L376.5,336L372,335.5L367.5,336L362.9,336L360.1,334.9L363.5,332.6L367.5,330.4L370.9,327.5L373.7,324.7L377.1,322.4L381.6,321.9L386.2,321.9L390.1,320.2L393.5,317.9L390.1,318.5L386.2,319.6L382.8,317.9L379.4,316.2L375.4,314.5L371.4,312.8L369.2,310.5L370.9,308.8L375.4,307.7L379.4,306.5L382.2,304.3L383.3,300.9L382.8,296.9L382.2,292.9L381.6,289.5L383.9,289.5L387.9,290.7L392.4,291.2L395.2,289.5L396.9,286.1L397.5,282.2L395.8,279.3L393.5,277.1L392.4,274.2L394.1,270.3L395.2,267.4L392.4,268L388.4,268L384.5,267.4L381.6,266.3L380.5,264L382.8,261.2L385,257.8L386.7,254.4L385.6,251L383.9,247.6L385,245.3L382.8,242.5L381.6,239.1L383.3,236.3L383.9,232.9L383.3,229.5L382.8,226.1L384.5,222.7L386.7,219.8L389,217L390.7,213.6ZM375.1,212.1L380.1,209.7L384.1,209.1L382.5,213.1L379.1,217.1L375.7,216.5ZM376.1,222.1L380.1,221.1L382.5,225.1L381.1,229.1L378.1,227.1ZM372.1,249.2L377.1,247.2L379.1,250.2L377.7,255.2L374.1,252.2ZM393,210.2L396.9,210.8L401.5,211.3L405.4,211.1L408.3,211.9L406.6,215.3L403.7,218.1L400.3,221L398.6,224.4L400.3,226.1L404.9,226.6L409.4,227.2L413.9,228.3L415.6,230.6L413.9,234L411.7,238L409.4,240.8L406.6,243.6L403.7,245.3L400.3,247L398.1,249.3L401.5,251L404.9,252.1L407.7,255L410,258.9L411.1,263.5L412.2,268L413.9,272.5L416.8,277.1L419.6,281L421.9,285L422.4,289.5L421.9,292.9L423,297.5L422.4,301.4L425.3,302.6L429.8,303.1L433.8,305.4L435.5,308.8L434.9,313.4L432.1,317.9L428.7,321.3L425.8,323.6L423,324.7L426.4,326.4L430.4,327.5L429.8,329.8L426.4,332.1L421.9,333.8L417.3,334.9L412.8,334.3L408.3,333.8L403.7,334.3L399.2,333.2L394.7,332.6L390.1,333.2L385.6,334.3L381.1,335.5L376.5,336L372,335.5L367.5,336L362.9,336L360.1,334.9L363.5,332.6L367.5,330.4L370.9,327.5L373.7,324.7L377.1,322.4L381.6,321.9L386.2,321.9L390.1,320.2L393.5,317.9L390.1,318.5L386.2,319.6L382.8,317.9L379.4,316.2L375.4,314.5L371.4,312.8L369.2,310.5L370.9,308.8L375.4,307.7L379.4,306.5L382.2,304.3L383.3,300.9L382.8,296.9L382.2,292.9L381.6,289.5L383.9,289.5L387.9,290.7L392.4,291.2L395.2,289.5L396.9,286.1L397.5,282.2L395.8,279.3L393.5,277.1L392.4,274.2L394.1,270.3L395.2,267.4L392.4,268L388.4,268L384.5,267.4L381.6,266.3L380.5,264L382.8,261.2L385,257.8L386.7,254.4L385.6,251L383.9,247.6L385,245.3L382.8,242.5L381.6,239.1L383.3,236.3L383.9,232.9L383.3,229.5L382.8,226.1L384.5,222.7L386.7,219.8L389,217L390.7,213.6ZM375.1,212.1L380.1,209.7L384.1,209.1L382.5,213.1L379.1,217.1L375.7,216.5ZM376.1,222.1L380.1,221.1L382.5,225.1L381.1,229.1L378.1,227.1ZM372.1,249.2L377.1,247.2L379.1,250.2L377.7,255.2L374.1,252.2Z"/>
<path fill="#dba507" d="M348.6,260.3L350.8,257.8L353.7,255.2L357.3,254.1L361,254.5L363.2,253.4L365.4,255.2L367.6,257L370.8,257.4L373.4,259.2L374.5,262.5L374.9,266.2L375.9,269.1L374.5,272L372.7,273.8L369.7,274.9L367.2,275.3L366.5,277.8L367.2,281.5L366.8,285.9L366.1,290.3L364.6,294.6L362.4,298.3L360.6,301.2L358.1,301.6L355.1,300.8L351.5,301.6L347.8,302.7L344.2,303.8L340.5,305.2L336.9,305.9L332.5,305.9L328.1,305.6L325.9,304.5L327,302.7L324.5,301.9L325.2,300.1L322.7,299L323.8,296.8L325.9,295.7L324.1,293.9L325.9,292.4L328.9,291.7L331.1,289.5L333.2,288.1L336.2,287L339.1,285.9L340.5,283.3L339.1,281.5L336.9,281.1L334.7,280L332.5,277.5L331.8,274.9L333.6,273.1L335.8,272L336.2,270.2L333.6,267.6L335.4,265.8L335.8,263.6L339.1,264.3L342.7,265.4L345.7,266.5L347.8,265.8L350.8,264.7L351.9,262.9L350,261.4ZM348.6,260.3L350.8,257.8L353.7,255.2L357.3,254.1L361,254.5L363.2,253.4L365.4,255.2L367.6,257L370.8,257.4L373.4,259.2L374.5,262.5L374.9,266.2L375.9,269.1L374.5,272L372.7,273.8L369.7,274.9L367.2,275.3L366.5,277.8L367.2,281.5L366.8,285.9L366.1,290.3L364.6,294.6L362.4,298.3L360.6,301.2L358.1,301.6L355.1,300.8L351.5,301.6L347.8,302.7L344.2,303.8L340.5,305.2L336.9,305.9L332.5,305.9L328.1,305.6L325.9,304.5L327,302.7L324.5,301.9L325.2,300.1L322.7,299L323.8,296.8L325.9,295.7L324.1,293.9L325.9,292.4L328.9,291.7L331.1,289.5L333.2,288.1L336.2,287L339.1,285.9L340.5,283.3L339.1,281.5L336.9,281.1L334.7,280L332.5,277.5L331.8,274.9L333.6,273.1L335.8,272L336.2,270.2L333.6,267.6L335.4,265.8L335.8,263.6L339.1,264.3L342.7,265.4L345.7,266.5L347.8,265.8L350.8,264.7L351.9,262.9L350,261.4Z"/>
<path fill="#00838f" d="M302.7,63.8L306,61.9L309.7,59.1L313.5,57.7L316.3,56.3L320,56.1L321.9,58.1L323.3,61.9L322.8,66.1L321.4,69.4L320,72.2L321.9,73.2L324.7,72.2L327.5,69.9L329.9,68L331.8,69.4L332.7,71.7L335,70.3L337.9,70.2L339.7,72.2L341.1,75L342.6,72.7L344.4,73.2L346.3,75L349.1,74.6L351.9,74.1L353.8,71.7L356.6,71.7L358,74.1L357.6,76.4L361.3,76.9L364.1,77.4L361.3,78.8L359.9,81.1L361.3,83.5L361.8,86.8L364.1,90L365.1,91.9L363.7,94.7L362.3,97.6L360.4,99.9L357.6,101.3L354.8,103.7L351,105.1L347.2,105.5L343.5,106.5L339.7,107.4L336,107.7L332.2,107.4L328.5,108.8L325.7,109.8L321.9,109.3L319.1,107.9L316.7,106L314.9,103.7L313,101.3L312.1,98.5L311.1,96.1L308.8,94.7L306,93.8L303.1,92.9L300.3,91.5L300.8,89.1L302.7,89.1L305,90L307.8,88.6L310.2,87.2L308.8,85.4L309.7,83L308.8,80.7L309.7,78.8L307.8,77.4L305,76.4L302.2,76L299.9,75L300.8,73.6L304.1,74.1L307.4,75L310.6,75L313.5,76L315.3,75L317.2,72.7L315.8,70.8L313.5,69.4L311.1,68.5L308.8,67.5L306,67.1L304.1,65.6ZM302.7,63.8L306,61.9L309.7,59.1L313.5,57.7L316.3,56.3L320,56.1L321.9,58.1L323.3,61.9L322.8,66.1L321.4,69.4L320,72.2L321.9,73.2L324.7,72.2L327.5,69.9L329.9,68L331.8,69.4L332.7,71.7L335,70.3L337.9,70.2L339.7,72.2L341.1,75L342.6,72.7L344.4,73.2L346.3,75L349.1,74.6L351.9,74.1L353.8,71.7L356.6,71.7L358,74.1L357.6,76.4L361.3,76.9L364.1,77.4L361.3,78.8L359.9,81.1L361.3,83.5L361.8,86.8L364.1,90L365.1,91.9L363.7,94.7L362.3,97.6L360.4,99.9L357.6,101.3L354.8,103.7L351,105.1L347.2,105.5L343.5,106.5L339.7,107.4L336,107.7L332.2,107.4L328.5,108.8L325.7,109.8L321.9,109.3L319.1,107.9L316.7,106L314.9,103.7L313,101.3L312.1,98.5L311.1,96.1L308.8,94.7L306,93.8L303.1,92.9L300.3,91.5L300.8,89.1L302.7,89.1L305,90L307.8,88.6L310.2,87.2L308.8,85.4L309.7,83L308.8,80.7L309.7,78.8L307.8,77.4L305,76.4L302.2,76L299.9,75L300.8,73.6L304.1,74.1L307.4,75L310.6,75L313.5,76L315.3,75L317.2,72.7L315.8,70.8L313.5,69.4L311.1,68.5L308.8,67.5L306,67.1L304.1,65.6Z"/>
<path fill="#a09d98" d="M368.1,227.1L370.5,223.1L372.1,220.1L373.1,222.5L371.1,226.5L369.1,229.1ZM376.1,238.1L380.1,236.1L381.7,239.1L378.5,241.1ZM381.1,275.2L384.1,273.2L385.1,276.2L382.1,278.2ZM406.5,205.7L410.1,203.7L413.7,204.5L412.1,208.1L408.1,209.7ZM424.2,188.1L428.2,184.1L431.8,182.1L430.6,187.1L427.8,192.1L425.8,195.1L424.6,191.1ZM378.5,295.2L381.1,293.8L381.7,296.2ZM400.1,333.8L403.1,333.2L402.5,335.2ZM374.1,232.1L376.5,231.1L376.1,234.5ZM379.7,255.2L381.3,254.6L381.7,258.2L380.1,258.2ZM388.5,153.1L392.1,151.1L395.7,152.1L394.5,156.1L392.1,158.5L390.5,164.1L389.3,160.1L390.1,156.5ZM416.1,22.4L420.1,20L423.7,19.6L422.5,21.6L418.1,23.6ZM584,190.5L588,189L591,191L589,194L585,193.5ZM594,191.5L596.5,191L596.5,193.2L594.5,193.5ZM601,191L603,190.5L603,192.5L601,192.5ZM564,562.3L566.3,563L568.8,565.5L567.5,566.3L565,564.6ZM535,551.7L536.9,551.7L536.9,553.6L535.3,553.6ZM387.1,349L389.7,349.6L389.1,352L387.3,351.6ZM390.1,354L393.1,354.4L392.5,357L390.5,356.4ZM518.5,241L520,241L520,242.4L518.5,242.4ZM515.2,262.1L516.4,262.1L516.4,264.2L515.2,264.2ZM368.1,227.1L370.5,223.1L372.1,220.1L373.1,222.5L371.1,226.5L369.1,229.1ZM376.1,238.1L380.1,236.1L381.7,239.1L378.5,241.1ZM381.1,275.2L384.1,273.2L385.1,276.2L382.1,278.2ZM406.5,205.7L410.1,203.7L413.7,204.5L412.1,208.1L408.1,209.7ZM424.2,188.1L428.2,184.1L431.8,182.1L430.6,187.1L427.8,192.1L425.8,195.1L424.6,191.1ZM378.5,295.2L381.1,293.8L381.7,296.2ZM400.1,333.8L403.1,333.2L402.5,335.2ZM374.1,232.1L376.5,231.1L376.1,234.5ZM379.7,255.2L381.3,254.6L381.7,258.2L380.1,258.2ZM388.5,153.1L392.1,151.1L395.7,152.1L394.5,156.1L392.1,158.5L390.5,164.1L389.3,160.1L390.1,156.5ZM416.1,22.4L420.1,20L423.7,19.6L422.5,21.6L418.1,23.6ZM584,190.5L588,189L591,191L589,194L585,193.5ZM594,191.5L596.5,191L596.5,193.2L594.5,193.5ZM601,191L603,190.5L603,192.5L601,192.5ZM564,562.3L566.3,563L568.8,565.5L567.5,566.3L565,564.6ZM535,551.7L536.9,551.7L536.9,553.6L535.3,553.6ZM387.1,349L389.7,349.6L389.1,352L387.3,351.6ZM390.1,354L393.1,354.4L392.5,357L390.5,356.4ZM518.5,241L520,241L520,242.4L518.5,242.4ZM515.2,262.1L516.4,262.1L516.4,264.2L515.2,264.2Z"/>
<path fill="#8e1360" d="M835.1,385.9L841.2,383.2L848,381.9L854.8,380.5L861.5,378.5L868.3,377.8L875.1,378.5L878.5,379.1L881.9,376.4L885.9,374.4L891.4,373L896.8,373L898.8,375.1L900.8,377.1L904.9,377.8L907.6,377.8L907.6,377.8L906.9,379.1L908.3,381.9L912.4,382.5L915.8,383.9L915.1,386.6L910.3,388L902.9,388.6L899.5,390.7L899.5,390.7L898.1,392L894.1,395.4L889.3,399.5L884.6,403.1L884.6,403.1L883.2,403.5L879.2,402.2L875.1,400.8L871,400.8L867,402.9L862.6,405.3L862.6,405.3L861.5,402.2L859.5,397.4L856.1,393.4L852,390.7L846.6,389.3L839.8,388L835.1,385.9ZM835.1,385.9L841.2,383.2L848,381.9L854.8,380.5L861.5,378.5L868.3,377.8L875.1,378.5L878.5,379.1L881.9,376.4L885.9,374.4L891.4,373L896.8,373L898.8,375.1L900.8,377.1L904.9,377.8L907.6,377.8L907.6,377.8L906.9,379.1L908.3,381.9L912.4,382.5L915.8,383.9L915.1,386.6L910.3,388L902.9,388.6L899.5,390.7L899.5,390.7L898.1,392L894.1,395.4L889.3,399.5L884.6,403.1L884.6,403.1L883.2,403.5L879.2,402.2L875.1,400.8L871,400.8L867,402.9L862.6,405.3L862.6,405.3L861.5,402.2L859.5,397.4L856.1,393.4L852,390.7L846.6,389.3L839.8,388L835.1,385.9Z"/>
<path fill="#8e1360" d="M884.6,403.1L889.3,399.5L894.1,395.4L898.1,392L899.5,390.7L899.5,390.7L898.1,394.1L902.2,395.4L906.9,397.4L909,400.8L913,402.9L915.1,406.9L918.5,409L923.9,409.6L926.6,413L928.6,416.4L928.6,416.4L927.3,419.1L923.9,420.5L923.9,420.5L922.5,417.8L919.8,415.1L915.8,413L910.3,414.4L906.3,416.4L902.9,416.2L902.9,416.2L900.8,415.1L895.4,415.7L891.4,415.1L888.6,411L886.6,406.9L884.6,403.1ZM884.6,403.1L889.3,399.5L894.1,395.4L898.1,392L899.5,390.7L899.5,390.7L898.1,394.1L902.2,395.4L906.9,397.4L909,400.8L913,402.9L915.1,406.9L918.5,409L923.9,409.6L926.6,413L928.6,416.4L928.6,416.4L927.3,419.1L923.9,420.5L923.9,420.5L922.5,417.8L919.8,415.1L915.8,413L910.3,414.4L906.3,416.4L902.9,416.2L902.9,416.2L900.8,415.1L895.4,415.7L891.4,415.1L888.6,411L886.6,406.9L884.6,403.1Z"/>
<path fill="#8e1360" d="M907.6,377.8L913,379.1L918.5,379.8L923.9,379.1L927.3,376.4L928.6,372.4L929.3,367.6L930,366.3L934.1,369L938.8,371.7L944.2,374.4L949.6,375.8L955.1,375.1L957.1,376.4L953.7,378.5L951.7,381.9L951,386.6L952.4,392L953.7,397.4L954.4,400.8L955.3,406.9L955.7,411L955.7,411L953,411.7L948.3,410.3L944.9,409L946.3,405.6L944.2,403.5L942.2,400.2L938.8,399.5L936.1,402.2L933.4,406.9L930.7,412.4L928.6,416.4L928.6,416.4L926.6,413L923.9,409.6L918.5,409L915.1,406.9L913,402.9L909,400.8L906.9,397.4L902.2,395.4L898.1,394.1L899.5,390.7L899.5,390.7L902.9,388.6L910.3,388L915.1,386.6L915.8,383.9L912.4,382.5L908.3,381.9L906.9,379.1L907.6,377.8ZM902.9,416.2L906.3,416.4L910.3,414.4L915.8,413L919.8,415.1L922.5,417.8L923.9,420.5L923.9,420.5L919.8,421.8L915.8,421.2L911.7,419.8L907.6,418.5L903.3,417.8ZM907.6,377.8L913,379.1L918.5,379.8L923.9,379.1L927.3,376.4L928.6,372.4L929.3,367.6L930,366.3L934.1,369L938.8,371.7L944.2,374.4L949.6,375.8L955.1,375.1L957.1,376.4L953.7,378.5L951.7,381.9L951,386.6L952.4,392L953.7,397.4L954.4,400.8L955.3,406.9L955.7,411L955.7,411L953,411.7L948.3,410.3L944.9,409L946.3,405.6L944.2,403.5L942.2,400.2L938.8,399.5L936.1,402.2L933.4,406.9L930.7,412.4L928.6,416.4L928.6,416.4L926.6,413L923.9,409.6L918.5,409L915.1,406.9L913,402.9L909,400.8L906.9,397.4L902.2,395.4L898.1,394.1L899.5,390.7L899.5,390.7L902.9,388.6L910.3,388L915.1,386.6L915.8,383.9L912.4,382.5L908.3,381.9L906.9,379.1L907.6,377.8ZM902.9,416.2L906.3,416.4L910.3,414.4L915.8,413L919.8,415.1L922.5,417.8L923.9,420.5L923.9,420.5L919.8,421.8L915.8,421.2L911.7,419.8L907.6,418.5L903.3,417.8Z"/>
<path fill="#ffcf44" d="M728.8,458.8L733.8,457.7L738,457.2L746,455.2L753.1,451.2L758.1,446.2L764.1,441.2L770.1,436.2L777.1,432.2L784.1,430.2L790.1,428.2L793.1,429.2L798.1,430.2L804.1,429.2L809.1,431.2L816.1,430.2L824.1,429.2L832.1,427.2L840.1,424.2L847.2,421.2L852.2,418.2L857.2,413.1L861.2,408.1L862.6,405.3L862.6,405.3L867,402.9L871,400.8L875.1,400.8L879.2,402.2L883.2,403.5L884.6,403.1L884.6,403.1L886.6,406.9L888.6,411L891.4,415.1L895.4,415.7L900.8,415.1L902.9,416.2L903.3,417.8L901.5,423.2L904.9,429.3L908.1,434L910.1,440L914.2,444L918.2,448.1L920.2,452.1L920.2,452.1L918.2,454.5L913.2,455.1L907.1,457.1L901.1,458.1L896.1,460.1L893.1,465.1L893.1,465.1L887.1,469.1L879.1,473.1L871.1,478.1L863.1,483.1L855.1,487.1L847.1,490.1L839.1,494.1L834.3,496.5L833.7,502.1L832.9,508.1L829.7,511.7L829.7,511.7L826.9,507.1L825.5,502.1L826.1,497.7L823.1,501.1L818.1,506.1L812,510.1L807,513.1L803,517.1L797,520.1L791,522.5L785,521.7L777,517.1L767.5,517.1L762.7,521.2L758.1,527.9L751.3,530.6L745,527L742.6,526.3L738.9,527L735.1,526.3L732.6,525.1L730.1,526.3L726.4,525.1L723.2,523.2L720.7,520.1L718.8,516.3L718.2,513.2L715.1,511.9L711.3,510.7L707.6,509.4L706.3,506.3L707.6,504.4L711.3,503.8L712.6,501.3L710.7,498.8L708.8,495.7L710.1,492.6L708.8,490.1L705.1,491.9L701.3,491.3L700.7,487.5L700.1,482.5L700.7,478.2L702.7,477.7L706.9,476.3L712.4,475.7L715,476L717.1,474.4L720.2,473.4L723.4,472.3L727,471.3L730.1,470.8L731.7,468.7L733.3,466.6L735.9,465L739,463.5L733.8,463.6L730.1,463.1L728.8,458.8ZM698.2,470.7L698.8,466.9L699.8,463.8L700.1,460.6L698.2,458.8L695.1,459.4L699.1,456.2L703.1,453.2L708.2,451.2L713.2,450.2L713.5,449.9L715.5,453.6L719.2,456.2L723.4,457.7L728.6,458.8L730.1,463.1L726.5,463.5L722.3,464.5L718.2,466.1L715,468.2L712.4,470.8L710.9,473.4L706.7,475.7L702.5,477.2L700.4,480.1L699.4,480.5L699.9,477.5L701.5,475.1L697.8,474.9L697.3,472.8ZM728.8,458.8L733.8,457.7L738,457.2L746,455.2L753.1,451.2L758.1,446.2L764.1,441.2L770.1,436.2L777.1,432.2L784.1,430.2L790.1,428.2L793.1,429.2L798.1,430.2L804.1,429.2L809.1,431.2L816.1,430.2L824.1,429.2L832.1,427.2L840.1,424.2L847.2,421.2L852.2,418.2L857.2,413.1L861.2,408.1L862.6,405.3L862.6,405.3L867,402.9L871,400.8L875.1,400.8L879.2,402.2L883.2,403.5L884.6,403.1L884.6,403.1L886.6,406.9L888.6,411L891.4,415.1L895.4,415.7L900.8,415.1L902.9,416.2L903.3,417.8L901.5,423.2L904.9,429.3L908.1,434L910.1,440L914.2,444L918.2,448.1L920.2,452.1L920.2,452.1L918.2,454.5L913.2,455.1L907.1,457.1L901.1,458.1L896.1,460.1L893.1,465.1L893.1,465.1L887.1,469.1L879.1,473.1L871.1,478.1L863.1,483.1L855.1,487.1L847.1,490.1L839.1,494.1L834.3,496.5L833.7,502.1L832.9,508.1L829.7,511.7L829.7,511.7L826.9,507.1L825.5,502.1L826.1,497.7L823.1,501.1L818.1,506.1L812,510.1L807,513.1L803,517.1L797,520.1L791,522.5L785,521.7L777,517.1L767.5,517.1L762.7,521.2L758.1,527.9L751.3,530.6L745,527L742.6,526.3L738.9,527L735.1,526.3L732.6,525.1L730.1,526.3L726.4,525.1L723.2,523.2L720.7,520.1L718.8,516.3L718.2,513.2L715.1,511.9L711.3,510.7L707.6,509.4L706.3,506.3L707.6,504.4L711.3,503.8L712.6,501.3L710.7,498.8L708.8,495.7L710.1,492.6L708.8,490.1L705.1,491.9L701.3,491.3L700.7,487.5L700.1,482.5L700.7,478.2L702.7,477.7L706.9,476.3L712.4,475.7L715,476L717.1,474.4L720.2,473.4L723.4,472.3L727,471.3L730.1,470.8L731.7,468.7L733.3,466.6L735.9,465L739,463.5L733.8,463.6L730.1,463.1L728.8,458.8ZM698.2,470.7L698.8,466.9L699.8,463.8L700.1,460.6L698.2,458.8L695.1,459.4L699.1,456.2L703.1,453.2L708.2,451.2L713.2,450.2L713.5,449.9L715.5,453.6L719.2,456.2L723.4,457.7L728.6,458.8L730.1,463.1L726.5,463.5L722.3,464.5L718.2,466.1L715,468.2L712.4,470.8L710.9,473.4L706.7,475.7L702.5,477.2L700.4,480.1L699.4,480.5L699.9,477.5L701.5,475.1L697.8,474.9L697.3,472.8Z"/>
<path fill="#ffcf44" d="M787.9,538.8L790,536.7L792.1,535.4L794.2,535L794.8,533.4L794.6,531.7L796.7,530.8L799.2,530L802.1,529L805,527.9L807.1,526.7L809.2,524.6L811.3,522.5L811.9,522.7L810.7,525L809.2,527.1L807.9,528.8L807.9,530.4L808.8,531.7L809.8,532.5L809.2,533.6L807.5,534.2L806.3,535.4L805,537.1L803.4,538.8L801.3,540.4L799.2,542.1L798.4,543.4L796.7,543.6L794.2,543.4L792.1,542.7L790,541.7L788.6,540.2ZM787.9,538.8L790,536.7L792.1,535.4L794.2,535L794.8,533.4L794.6,531.7L796.7,530.8L799.2,530L802.1,529L805,527.9L807.1,526.7L809.2,524.6L811.3,522.5L811.9,522.7L810.7,525L809.2,527.1L807.9,528.8L807.9,530.4L808.8,531.7L809.8,532.5L809.2,533.6L807.5,534.2L806.3,535.4L805,537.1L803.4,538.8L801.3,540.4L799.2,542.1L798.4,543.4L796.7,543.6L794.2,543.4L792.1,542.7L790,541.7L788.6,540.2Z"/>
<path class="ln" fill="none" d="M920.2,452.1L924.3,456L928.5,459.3L932.6,462.6L937.6,465.1L944.2,463.5L946.7,467.6L945.9,472.6L945.1,477.6L945.9,482.5L946.7,489.2L949.2,492.5L954.2,495L961.7,498.3"/>
<path class="ln" fill="none" d="M897.8,459.3L896.2,462.6L893.7,467.6L890.4,474.2L887,478.4L887.9,482.5L890.4,489.2L892,495.8L894.5,504.1L893.7,511.5L886.2,520.7L879.6,529L873,537.2"/>
<path class="ln" fill="none" d="M873,537.2L866.3,545.5L859.7,553.8L853.9,560.5L846.4,560.8L840.6,559.6"/>
<path class="ln" fill="none" d="M873,537.2L876.3,542.2L880.4,548L883.7,551.3"/>
<path class="ln" fill="none" d="M883.7,551.3L877.9,556.3L871.3,561.3L864.7,566.3L859.7,570.4L863.8,573.7L868,577"/>
<path class="ln" fill="none" d="M883.7,551.3L891.2,549.7L899.5,548.8L907.8,549.7L916.1,551.3L926,553.8L937.6,556.3L949.2,559.6L961.7,562.9"/>
<path class="ln" fill="none" d="M834,529.8L837.3,528.1L840.6,529L842.8,533.1L841.4,538.1L839.8,542.2L839,546.4L837.3,550.5L830.7,551.3"/>
<path class="ln" fill="none" d="M837.3,550.5L839.8,553.8L839.5,559.6L840.6,562.1L839.8,568.7L839,577"/>
<path class="ln" fill="none" d="M839.5,564.6L834,564.6L832.8,570.4L834,575.4L839,574.5"/>
<path class="ln" fill="none" d="M365.4,255.2L362.4,257L359.5,258.5L357,260.3L354.8,263.2L354.4,266.2L355.9,269.1L358.1,270.9L361,269.8L363.9,270.2L366.1,272L367.6,274.9"/>
<path class="ln" fill="none" d="M473.6,182L482.2,182.6L490.8,181.7L493.8,179.8"/>
<path class="ln" fill="none" d="M474,203L479.6,197.9L484.8,193.6L489.1,192.7"/>
<path class="ln" fill="none" d="M476.2,171.2L482.2,172.1L487.3,171.7"/>
</svg>
<svg class="map" style="top:705px;height:575px" viewBox="2 0 959 575">
<path fill="#cfcfcf" d="M829.7,511.7L827.1,500.1L839.1,488.1L863.1,476.1L893.1,458.1L907.1,440L896.8,425.9L899.5,413.7L910.3,416.4L923.9,417.8L929.3,413.7L936.1,400.8L942.2,398.8L948.3,409L955.7,409.6L957.1,411L963.2,417.8L968,580L829,580L829.8,576L829.8,563.8L830.2,555.5L830.7,548.8L831.2,542.2L832.3,535.6L834,529.8L832.3,525.6L829.8,520.7L828.5,515.7L829,511.5ZM829.7,511.7L827.1,500.1L839.1,488.1L863.1,476.1L893.1,458.1L907.1,440L896.8,425.9L899.5,413.7L910.3,416.4L923.9,417.8L929.3,413.7L936.1,400.8L942.2,398.8L948.3,409L955.7,409.6L957.1,411L963.2,417.8L968,580L829,580L829.8,576L829.8,563.8L830.2,555.5L830.7,548.8L831.2,542.2L832.3,535.6L834,529.8L832.3,525.6L829.8,520.7L828.5,515.7L829,511.5Z"/>
<path fill="#ffcf44" d="M619.8,37L616.2,39L613.2,40L613.2,40L616,45L614.4,51.1L617,57.1L622,62.1L626,69.1L628,77.1L631,84.1L635,92.1L637,100.1L639,108.1L643,114.1L647,120.1L653,126.1L658.1,131.1L660.1,136.1L659.1,143.1L657,150.2L655,158.2L652,165.2L649,170.2L648,173.8L650,174.2L656,177.2L663.1,179.2L658.1,181.2L653,184.2L650,188.2L649,191.8L649.8,192.4L649.2,200.1L651.2,208.1L653.2,214.1L654.2,220.1L654.2,220.1L658.2,226.1L661.8,232.1L664.2,238.1L664.6,240.5L664.7,240.4L670.7,240L674.7,240.7L676.7,243.3L680,240.7L684,240L689.1,242.7L691.4,249.4L692.7,254L697.4,258.7L702.7,262L705.4,265.4L711.4,266L714.5,268.7L713.4,272L710.7,275.4L704.7,276L704,279.4L708.1,283.4L710.7,288.7L713.4,291.1L713.4,291.1L716.7,288.7L717.4,285.4L722.7,283.4L728.7,281.4L732.7,284.1L736.7,288.1L736.1,291.4L738.7,295.4L745.4,294.7L748.8,296.7L752.1,300.7L754.8,303.4L760.1,302.7L765.4,302.7L769.4,298.1L773.5,298.7L777.5,301.4L782.8,300.1L788,299.4L792.1,299.6L799.1,300L802.1,303L801.1,308L803.1,313L806.1,318.1L807.1,323.1L804.1,326.1L800.1,329.1L797.1,332.1L795.7,336.1L798.1,339.1L799.1,340.1L796.3,340.6L798.8,339.4L802.6,336.9L805.7,335.6L807,337.5L803.8,340.6L801.3,343.1L798.2,346.3L796.3,348.8L798.8,350L802.6,351.9L804.1,355L802,356.9L800.7,360L801.3,363.2L800.1,366.9L798.8,370.1L796.3,371.3L793.2,372.6L791.3,373.2L792.6,375.7L795.1,376.3L798.8,376.9L802.6,378.2L807.6,379.4L812.6,380.1L817.6,381.3L822.6,382.6L827.6,385.1L832.6,386.9L835.1,385.7L835.1,385.9L841.2,383.2L848,381.9L854.8,380.5L861.5,378.5L868.3,377.8L875.1,378.5L878.5,379.1L881.9,376.4L885.9,374.4L891.4,373L896.8,373L898.8,375.1L900.8,377.1L904.9,377.8L907.6,377.8L907.6,377.8L913,379.1L918.5,379.8L923.9,379.1L927.3,376.4L928.6,372.4L929.3,367.6L930,366.3L930,366.3L925.2,362.1L919.2,358.1L913.2,354.1L908.1,349.1L905.1,344.1L900.1,341.1L895.1,339.1L893.1,334.1L893.5,327.1L894.1,320.1L897.1,315L899.1,310L901.5,304L902.1,300.4L902.1,300.4L901.1,301L895.1,300L894.1,296L889.1,292L883.1,289L877.1,291L871.1,288L865.1,284L863.1,276L858,268.2L856.6,258.9L859.3,254.9L868.6,257.6L871.1,256.1L869.1,252.3L866.1,247.3L868.1,240.3L871.1,232.2L873.1,226.2L875.1,220.2L881.1,220.2L885.1,215.2L891.1,212.2L897.1,210.2L905.1,211.2L909.1,210.2L915.2,210.2L921.2,209.2L922.2,204.2L925.2,198.2L931.2,195.2L932.2,190.2L937.2,187.2L943.2,188.2L950.2,186.2L950.2,181.2L955.2,178.2L958.4,172.2L957.2,166.2L953.2,164.2L945.2,166.2L939.2,165.2L939.2,156.2L937.2,148.2L941.2,141.1L937.2,143.1L932.2,139.1L927.2,138.1L927.2,133.1L932.2,130.1L936.2,124.1L941.2,115.1L945.2,107.1L948.2,99.1L953.2,89.1L956.8,80.1L956.2,72.1L958.8,68.1L967.2,66.1L968,68L968,-2L734.5,0L731.1,4L727.7,11L724.5,18L721.7,23.6L723.7,29L725.1,35L722.1,39L717.1,41L711.1,39.6L708.1,36L709.7,31L713.1,26.4L710.1,23L704.1,20L697.1,22L690.1,25L695.1,27L699.1,30L701.1,35L703.1,40L705.1,43.6L709.1,45.6L712.1,50.1L714.1,54.5L712.5,58.5L707.1,56.7L701.1,58.1L698.5,63.1L696.1,69.1L695.1,74.1L696.5,78.5L700.1,82.5L701.7,87.1L697.1,90.5L690.1,90.5L684.1,89.1L680.1,91.1L681.1,95.1L685.1,97.7L690.1,98.5L694.1,101.7L693.1,105.5L688.1,106.5L681.1,105.1L675.1,103.1L671.1,100.1L668.5,95.7L665.7,90.1L662.5,84.1L658.1,80.5L652,77.7L646,74.5L641,71.7L644,70.7L649,72.5L655,74.5L662.1,74.7L670.1,74.1L679.1,73.1L685.7,70.5L690.1,66.1L692.5,60.1L692.1,53.1L688.1,47L682.1,43L674.1,41L666.1,39L658.1,36.4L650,35.2L642,36L636,37L630,34L626,31.6L622,34L619.8,37ZM709.1,-0.4L718.1,-0.4L719.1,5L716.1,9L712.1,9L709.1,5ZM619.8,37L616.2,39L613.2,40L613.2,40L616,45L614.4,51.1L617,57.1L622,62.1L626,69.1L628,77.1L631,84.1L635,92.1L637,100.1L639,108.1L643,114.1L647,120.1L653,126.1L658.1,131.1L660.1,136.1L659.1,143.1L657,150.2L655,158.2L652,165.2L649,170.2L648,173.8L650,174.2L656,177.2L663.1,179.2L658.1,181.2L653,184.2L650,188.2L649,191.8L649.8,192.4L649.2,200.1L651.2,208.1L653.2,214.1L654.2,220.1L654.2,220.1L658.2,226.1L661.8,232.1L664.2,238.1L664.6,240.5L664.7,240.4L670.7,240L674.7,240.7L676.7,243.3L680,240.7L684,240L689.1,242.7L691.4,249.4L692.7,254L697.4,258.7L702.7,262L705.4,265.4L711.4,266L714.5,268.7L713.4,272L710.7,275.4L704.7,276L704,279.4L708.1,283.4L710.7,288.7L713.4,291.1L713.4,291.1L716.7,288.7L717.4,285.4L722.7,283.4L728.7,281.4L732.7,284.1L736.7,288.1L736.1,291.4L738.7,295.4L745.4,294.7L748.8,296.7L752.1,300.7L754.8,303.4L760.1,302.7L765.4,302.7L769.4,298.1L773.5,298.7L777.5,301.4L782.8,300.1L788,299.4L792.1,299.6L799.1,300L802.1,303L801.1,308L803.1,313L806.1,318.1L807.1,323.1L804.1,326.1L800.1,329.1L797.1,332.1L795.7,336.1L798.1,339.1L799.1,340.1L796.3,340.6L798.8,339.4L802.6,336.9L805.7,335.6L807,337.5L803.8,340.6L801.3,343.1L798.2,346.3L796.3,348.8L798.8,350L802.6,351.9L804.1,355L802,356.9L800.7,360L801.3,363.2L800.1,366.9L798.8,370.1L796.3,371.3L793.2,372.6L791.3,373.2L792.6,375.7L795.1,376.3L798.8,376.9L802.6,378.2L807.6,379.4L812.6,380.1L817.6,381.3L822.6,382.6L827.6,385.1L832.6,386.9L835.1,385.7L835.1,385.9L841.2,383.2L848,381.9L854.8,380.5L861.5,378.5L868.3,377.8L875.1,378.5L878.5,379.1L881.9,376.4L885.9,374.4L891.4,373L896.8,373L898.8,375.1L900.8,377.1L904.9,377.8L907.6,377.8L907.6,377.8L913,379.1L918.5,379.8L923.9,379.1L927.3,376.4L928.6,372.4L929.3,367.6L930,366.3L930,366.3L925.2,362.1L919.2,358.1L913.2,354.1L908.1,349.1L905.1,344.1L900.1,341.1L895.1,339.1L893.1,334.1L893.5,327.1L894.1,320.1L897.1,315L899.1,310L901.5,304L902.1,300.4L902.1,300.4L901.1,301L895.1,300L894.1,296L889.1,292L883.1,289L877.1,291L871.1,288L865.1,284L863.1,276L858,268.2L856.6,258.9L859.3,254.9L868.6,257.6L871.1,256.1L869.1,252.3L866.1,247.3L868.1,240.3L871.1,232.2L873.1,226.2L875.1,220.2L881.1,220.2L885.1,215.2L891.1,212.2L897.1,210.2L905.1,211.2L909.1,210.2L915.2,210.2L921.2,209.2L922.2,204.2L925.2,198.2L931.2,195.2L932.2,190.2L937.2,187.2L943.2,188.2L950.2,186.2L950.2,181.2L955.2,178.2L958.4,172.2L957.2,166.2L953.2,164.2L945.2,166.2L939.2,165.2L939.2,156.2L937.2,148.2L941.2,141.1L937.2,143.1L932.2,139.1L927.2,138.1L927.2,133.1L932.2,130.1L936.2,124.1L941.2,115.1L945.2,107.1L948.2,99.1L953.2,89.1L956.8,80.1L956.2,72.1L958.8,68.1L967.2,66.1L968,68L968,-2L734.5,0L731.1,4L727.7,11L724.5,18L721.7,23.6L723.7,29L725.1,35L722.1,39L717.1,41L711.1,39.6L708.1,36L709.7,31L713.1,26.4L710.1,23L704.1,20L697.1,22L690.1,25L695.1,27L699.1,30L701.1,35L703.1,40L705.1,43.6L709.1,45.6L712.1,50.1L714.1,54.5L712.5,58.5L707.1,56.7L701.1,58.1L698.5,63.1L696.1,69.1L695.1,74.1L696.5,78.5L700.1,82.5L701.7,87.1L697.1,90.5L690.1,90.5L684.1,89.1L680.1,91.1L681.1,95.1L685.1,97.7L690.1,98.5L694.1,101.7L693.1,105.5L688.1,106.5L681.1,105.1L675.1,103.1L671.1,100.1L668.5,95.7L665.7,90.1L662.5,84.1L658.1,80.5L652,77.7L646,74.5L641,71.7L644,70.7L649,72.5L655,74.5L662.1,74.7L670.1,74.1L679.1,73.1L685.7,70.5L690.1,66.1L692.5,60.1L692.1,53.1L688.1,47L682.1,43L674.1,41L666.1,39L658.1,36.4L650,35.2L642,36L636,37L630,34L626,31.6L622,34L619.8,37ZM709.1,-0.4L718.1,-0.4L719.1,5L716.1,9L712.1,9L709.1,5Z"/>
<path fill="#00838f" d="M967.2,66.1L958.8,68.1L956.2,72.1L956.8,80.1L953.2,89.1L948.2,99.1L945.2,107.1L941.2,115.1L936.2,124.1L932.2,130.1L927.2,133.1L927.2,138.1L932.2,139.1L937.2,143.1L941.2,141.1L937.2,148.2L939.2,156.2L939.2,165.2L945.2,166.2L953.2,164.2L957.2,166.2L958.4,172.2L955.2,178.2L950.2,181.2L950.2,186.2L943.2,188.2L937.2,187.2L932.2,190.2L931.2,195.2L925.2,198.2L922.2,204.2L921.2,209.2L915.2,210.2L909.1,210.2L905.1,211.2L897.1,210.2L891.1,212.2L885.1,215.2L881.1,220.2L875.1,220.2L873.1,226.2L871.1,232.2L868.1,240.3L866.1,247.3L869.1,252.3L871.1,256.1L868.6,257.6L859.3,254.9L856.6,258.9L858,268.2L863.1,276L865.1,284L871.1,288L877.1,291L883.1,289L889.1,292L894.1,296L895.1,300L901.1,301L902.1,300.4L902.2,301.8L903.8,297.7L906.7,293.6L909.2,288.7L911.7,284.5L914.1,281.2L918.2,279.2L923.2,278L925.7,275.1L929.8,272.6L933.1,273.8L934.7,277.1L937.2,281.2L938.8,286.2L938.8,289.9L941.3,292.4L945.4,292L943,294.4L938.8,296.1L934.7,298.5L931.4,301L929.8,304.3L929.4,308.4L930.2,310.9L933.1,311.7L936.4,312.5L933.1,315L929,316.7L925.7,318.3L925.2,320.8L928.1,322.4L931.4,323.7L934.7,325L943.2,327.1L951.2,331.1L960.8,333.1L968,68ZM967.2,66.1L958.8,68.1L956.2,72.1L956.8,80.1L953.2,89.1L948.2,99.1L945.2,107.1L941.2,115.1L936.2,124.1L932.2,130.1L927.2,133.1L927.2,138.1L932.2,139.1L937.2,143.1L941.2,141.1L937.2,148.2L939.2,156.2L939.2,165.2L945.2,166.2L953.2,164.2L957.2,166.2L958.4,172.2L955.2,178.2L950.2,181.2L950.2,186.2L943.2,188.2L937.2,187.2L932.2,190.2L931.2,195.2L925.2,198.2L922.2,204.2L921.2,209.2L915.2,210.2L909.1,210.2L905.1,211.2L897.1,210.2L891.1,212.2L885.1,215.2L881.1,220.2L875.1,220.2L873.1,226.2L871.1,232.2L868.1,240.3L866.1,247.3L869.1,252.3L871.1,256.1L868.6,257.6L859.3,254.9L856.6,258.9L858,268.2L863.1,276L865.1,284L871.1,288L877.1,291L883.1,289L889.1,292L894.1,296L895.1,300L901.1,301L902.1,300.4L902.2,301.8L903.8,297.7L906.7,293.6L909.2,288.7L911.7,284.5L914.1,281.2L918.2,279.2L923.2,278L925.7,275.1L929.8,272.6L933.1,273.8L934.7,277.1L937.2,281.2L938.8,286.2L938.8,289.9L941.3,292.4L945.4,292L943,294.4L938.8,296.1L934.7,298.5L931.4,301L929.8,304.3L929.4,308.4L930.2,310.9L933.1,311.7L936.4,312.5L933.1,315L929,316.7L925.7,318.3L925.2,320.8L928.1,322.4L931.4,323.7L934.7,325L943.2,327.1L951.2,331.1L960.8,333.1L968,68Z"/>
<path fill="#0cdcf6" d="M640.6,316.6L646.2,311.2L656.2,308.2L660,307.4L672,308.7L677.4,310.1L686.7,307.4L690,304.7L692.7,307.1L700,304.7L704,306.7L704.7,302.7L703.4,298.1L704.7,294.1L709.4,291.4L713.4,291.1L713.4,291.1L716.7,288.7L717.4,285.4L722.7,283.4L728.7,281.4L732.7,284.1L736.7,288.1L736.1,291.4L738.7,295.4L745.4,294.7L748.8,296.7L752.1,300.7L754.8,303.4L760.1,302.7L765.4,302.7L769.4,298.1L773.5,298.7L777.5,301.4L782.8,300.1L788,299.4L792.1,299.6L799.1,300L802.1,303L801.1,308L803.1,313L806.1,318.1L807.1,323.1L804.1,326.1L800.1,329.1L797.1,332.1L795.7,336.1L798.1,339.1L799.1,340.1L795.1,341.9L791.3,345L787.6,348.8L783.2,352.5L778.8,355.7L775.1,358.8L771.3,362.5L768.8,366.3L768.2,368.2L770.1,370.1L770.1,370.1L768.8,371.1L765.1,370.7L760,370.1L756.3,371.3L756.3,371.3L753.8,372.6L750,374.4L746.3,375.7L742.5,376.3L738.8,375.7L735,376.3L732.5,373.8L730,372.6L727.5,375.1L725.6,378.8L723.8,382.6L721.9,386.3L720,390.1L718.8,393.2L720,396.3L719.2,397.1L716.7,396.7L713.4,398.4L710.1,399.6L706.7,399.2L705,397.1L705,397.1L706.3,397.1L707.5,394.2L709.2,390.9L710.1,387.1L709.2,383.8L710.9,381.3L714.2,380L717.6,379.6L719.6,378.8L718.4,375.9L715.5,373.8L713.4,370.9L711.3,367.5L708.8,365.9L706.3,363.8L705.5,360.4L702.5,358.8L698.8,357.5L695,357.9L691.3,356.3L687.5,355.4L684.2,357.1L680.9,359.6L680.9,359.6L679.2,360L676.7,361.3L675.8,363.4L673.3,365.9L670,367.5L666.7,369.2L663.3,371.7L660,370L658.1,370.1L652.1,371.1L646.1,372.1L641.1,370.1L641.1,370.1L638.1,368.1L634.1,365.1L634.1,365.1L635.7,361.1L637.1,356.5L638.2,357.2L636.6,354.2L637.8,348.2L640.2,342.2L644.2,336.2L646.2,330.2L643.2,324.2L640.6,316.6ZM640.6,316.6L646.2,311.2L656.2,308.2L660,307.4L672,308.7L677.4,310.1L686.7,307.4L690,304.7L692.7,307.1L700,304.7L704,306.7L704.7,302.7L703.4,298.1L704.7,294.1L709.4,291.4L713.4,291.1L713.4,291.1L716.7,288.7L717.4,285.4L722.7,283.4L728.7,281.4L732.7,284.1L736.7,288.1L736.1,291.4L738.7,295.4L745.4,294.7L748.8,296.7L752.1,300.7L754.8,303.4L760.1,302.7L765.4,302.7L769.4,298.1L773.5,298.7L777.5,301.4L782.8,300.1L788,299.4L792.1,299.6L799.1,300L802.1,303L801.1,308L803.1,313L806.1,318.1L807.1,323.1L804.1,326.1L800.1,329.1L797.1,332.1L795.7,336.1L798.1,339.1L799.1,340.1L795.1,341.9L791.3,345L787.6,348.8L783.2,352.5L778.8,355.7L775.1,358.8L771.3,362.5L768.8,366.3L768.2,368.2L770.1,370.1L770.1,370.1L768.8,371.1L765.1,370.7L760,370.1L756.3,371.3L756.3,371.3L753.8,372.6L750,374.4L746.3,375.7L742.5,376.3L738.8,375.7L735,376.3L732.5,373.8L730,372.6L727.5,375.1L725.6,378.8L723.8,382.6L721.9,386.3L720,390.1L718.8,393.2L720,396.3L719.2,397.1L716.7,396.7L713.4,398.4L710.1,399.6L706.7,399.2L705,397.1L705,397.1L706.3,397.1L707.5,394.2L709.2,390.9L710.1,387.1L709.2,383.8L710.9,381.3L714.2,380L717.6,379.6L719.6,378.8L718.4,375.9L715.5,373.8L713.4,370.9L711.3,367.5L708.8,365.9L706.3,363.8L705.5,360.4L702.5,358.8L698.8,357.5L695,357.9L691.3,356.3L687.5,355.4L684.2,357.1L680.9,359.6L680.9,359.6L679.2,360L676.7,361.3L675.8,363.4L673.3,365.9L670,367.5L666.7,369.2L663.3,371.7L660,370L658.1,370.1L652.1,371.1L646.1,372.1L641.1,370.1L641.1,370.1L638.1,368.1L634.1,365.1L634.1,365.1L635.7,361.1L637.1,356.5L638.2,357.2L636.6,354.2L637.8,348.2L640.2,342.2L644.2,336.2L646.2,330.2L643.2,324.2L640.6,316.6Z"/>
<path fill="#ffcf44" d="M770.1,370.1L772.6,372.6L775.1,375.1L777.6,376.9L780.1,377.6L782.6,375.7L785.1,373.8L787.6,373.2L790.1,373.8L790.1,375.7L789.5,378.8L786.3,379.8L783.2,380.1L781.3,380.7L780.1,382.6L778.8,385.1L775.7,386.3L772.6,388.8L770.1,391.9L768.2,395.1L765.7,397L763.2,395.7L761.9,391.9L759.4,388.8L756.3,387.6L752.5,386.9L748.8,386.3L750.7,382.6L752.5,378.8L755,375.1L756.3,371.3L756.3,371.3L760,370.1L765.1,370.7L768.8,371.1L770.1,370.1ZM770.1,370.1L772.6,372.6L775.1,375.1L777.6,376.9L780.1,377.6L782.6,375.7L785.1,373.8L787.6,373.2L790.1,373.8L790.1,375.7L789.5,378.8L786.3,379.8L783.2,380.1L781.3,380.7L780.1,382.6L778.8,385.1L775.7,386.3L772.6,388.8L770.1,391.9L768.2,395.1L765.7,397L763.2,395.7L761.9,391.9L759.4,388.8L756.3,387.6L752.5,386.9L748.8,386.3L750.7,382.6L752.5,378.8L755,375.1L756.3,371.3L756.3,371.3L760,370.1L765.1,370.7L768.8,371.1L770.1,370.1Z"/>
<path fill="#0cdcf6" d="M654.6,249.1L656.2,248.1L660.2,244.1L664.6,240.5L664.7,240.4L670.7,240L674.7,240.7L676.7,243.3L680,240.7L684,240L689.1,242.7L691.4,249.4L692.7,254L697.4,258.7L702.7,262L705.4,265.4L711.4,266L714.5,268.7L713.4,272L710.7,275.4L704.7,276L704,279.4L708.1,283.4L710.7,288.7L713.4,291.1L713.4,291.1L709.4,291.4L704.7,294.1L703.4,298.1L704.7,302.7L704,306.7L700,304.7L692.7,307.1L690,304.7L686.7,307.4L677.4,310.1L672,308.7L660,307.4L656.2,308.2L646.2,311.2L640.6,316.6L640.6,316.6L640.2,316.2L638.2,311.2L634.6,308.2L637.2,304.2L639.2,298.2L636.2,290.1L633.1,282.5L633.1,282.5L639.2,281.1L645.2,278.1L650.2,274.1L649.2,269.1L652.2,264.1L655.2,259.1L653.2,254.1L654.6,249.1ZM654.6,249.1L656.2,248.1L660.2,244.1L664.6,240.5L664.7,240.4L670.7,240L674.7,240.7L676.7,243.3L680,240.7L684,240L689.1,242.7L691.4,249.4L692.7,254L697.4,258.7L702.7,262L705.4,265.4L711.4,266L714.5,268.7L713.4,272L710.7,275.4L704.7,276L704,279.4L708.1,283.4L710.7,288.7L713.4,291.1L713.4,291.1L709.4,291.4L704.7,294.1L703.4,298.1L704.7,302.7L704,306.7L700,304.7L692.7,307.1L690,304.7L686.7,307.4L677.4,310.1L672,308.7L660,307.4L656.2,308.2L646.2,311.2L640.6,316.6L640.6,316.6L640.2,316.2L638.2,311.2L634.6,308.2L637.2,304.2L639.2,298.2L636.2,290.1L633.1,282.5L633.1,282.5L639.2,281.1L645.2,278.1L650.2,274.1L649.2,269.1L652.2,264.1L655.2,259.1L653.2,254.1L654.6,249.1Z"/>
<path fill="#dba507" d="M552.5,293.1L558.1,290.1L564.1,286.1L570.1,282.1L576.1,279.1L582.1,276.5L586.1,276.1L589.1,280.1L594.1,281.1L598.1,279.1L598.1,279.1L610.1,278.1L623.1,277.1L623.1,277.1L628.1,278.1L631.1,280.1L633.1,282.5L633.1,282.5L636.2,290.1L639.2,298.2L637.2,304.2L634.6,308.2L638.2,311.2L640.2,316.2L640.6,316.6L640.6,316.6L643.2,324.2L646.2,330.2L644.2,336.2L640.2,342.2L637.8,348.2L636.6,354.2L638.2,357.2L637.1,356.5L630.1,354.1L624.1,353.1L618.1,355.1L612.1,356.5L607,355.1L603,354.1L599,356.5L597.2,356.1L597.2,356.1L592.2,352.1L587.2,349.1L582.2,347.1L579.2,345.1L577.2,347.1L573.2,343.1L568.2,340.1L563.1,337.7L558.1,335.7L558.1,335.7L559.1,330.1L558.1,324.1L556.1,318.1L554.5,312L552.5,306L553.1,300L552.1,293.6ZM552.5,293.1L558.1,290.1L564.1,286.1L570.1,282.1L576.1,279.1L582.1,276.5L586.1,276.1L589.1,280.1L594.1,281.1L598.1,279.1L598.1,279.1L610.1,278.1L623.1,277.1L623.1,277.1L628.1,278.1L631.1,280.1L633.1,282.5L633.1,282.5L636.2,290.1L639.2,298.2L637.2,304.2L634.6,308.2L638.2,311.2L640.2,316.2L640.6,316.6L640.6,316.6L643.2,324.2L646.2,330.2L644.2,336.2L640.2,342.2L637.8,348.2L636.6,354.2L638.2,357.2L637.1,356.5L630.1,354.1L624.1,353.1L618.1,355.1L612.1,356.5L607,355.1L603,354.1L599,356.5L597.2,356.1L597.2,356.1L592.2,352.1L587.2,349.1L582.2,347.1L579.2,345.1L577.2,347.1L573.2,343.1L568.2,340.1L563.1,337.7L558.1,335.7L558.1,335.7L559.1,330.1L558.1,324.1L556.1,318.1L554.5,312L552.5,306L553.1,300L552.1,293.6Z"/>
<path fill="#ffcf44" d="M471.7,337.1L473.7,334.1L474.1,329.1L477.1,325.1L481.1,322.1L480.1,318.1L483.1,315L484.5,310L486.1,305L485.1,300L485.1,300L488.1,297L494.1,296L499.1,295.6L502.1,293.6L504.1,290L502.5,285L501.1,281L499.7,279.6L500.3,277.1L503.7,278.2L507,278.4L507,278.4L508.7,281.7L511.2,284.7L514.5,286.7L518.7,288.4L522,288.8L526.2,287.6L530.4,286.3L533.7,285.9L537.1,284.7L539.6,281.7L541.6,280.9L543.3,283.4L544.6,286.7L547.1,290.1L550.4,292.6L552.5,293.2L552.1,293.6L553.1,300L552.5,306L554.5,312L556.1,318.1L558.1,324.1L559.1,330.1L558.1,335.7L558.1,335.7L552.1,338.1L546.1,341.1L540.1,344.5L535.1,347.1L532.5,349.1L534.1,354.1L537.1,359.1L541.1,363.1L545.1,367.1L550.1,371.1L552.1,373.1L552.1,373.1L548.1,376.1L544.1,380.1L541.1,384.1L542.5,388.1L538.1,389.1L532.1,388.1L526.1,390.1L520.1,391.1L516.1,392.1L512.1,391.1L509.1,392.5L507.1,394.1L507.1,394.1L502.1,391.1L497.1,389.7L492.1,390.1L487.1,389.7L487.1,389.7L486.5,386.1L487.7,380.1L489.1,374.1L491.7,368.5L486.1,366.1L480.1,362.1L475.7,358.5L475.7,358.5L476.5,356.1L477.1,352.1L475.1,349.1L475.1,349.1L473.7,345.1L474.1,341.1L471.7,337.1ZM471.7,337.1L473.7,334.1L474.1,329.1L477.1,325.1L481.1,322.1L480.1,318.1L483.1,315L484.5,310L486.1,305L485.1,300L485.1,300L488.1,297L494.1,296L499.1,295.6L502.1,293.6L504.1,290L502.5,285L501.1,281L499.7,279.6L500.3,277.1L503.7,278.2L507,278.4L507,278.4L508.7,281.7L511.2,284.7L514.5,286.7L518.7,288.4L522,288.8L526.2,287.6L530.4,286.3L533.7,285.9L537.1,284.7L539.6,281.7L541.6,280.9L543.3,283.4L544.6,286.7L547.1,290.1L550.4,292.6L552.5,293.2L552.1,293.6L553.1,300L552.5,306L554.5,312L556.1,318.1L558.1,324.1L559.1,330.1L558.1,335.7L558.1,335.7L552.1,338.1L546.1,341.1L540.1,344.5L535.1,347.1L532.5,349.1L534.1,354.1L537.1,359.1L541.1,363.1L545.1,367.1L550.1,371.1L552.1,373.1L552.1,373.1L548.1,376.1L544.1,380.1L541.1,384.1L542.5,388.1L538.1,389.1L532.1,388.1L526.1,390.1L520.1,391.1L516.1,392.1L512.1,391.1L509.1,392.5L507.1,394.1L507.1,394.1L502.1,391.1L497.1,389.7L492.1,390.1L487.1,389.7L487.1,389.7L486.5,386.1L487.7,380.1L489.1,374.1L491.7,368.5L486.1,366.1L480.1,362.1L475.7,358.5L475.7,358.5L476.5,356.1L477.1,352.1L475.1,349.1L475.1,349.1L473.7,345.1L474.1,341.1L471.7,337.1Z"/>
<path fill="#8e1360" d="M384.1,445.1L385.9,440.1L388.3,433.5L391.7,423.5L393.3,416.7L395.9,413.5L392.5,406.7L394.1,403.5L390.9,398.5L386.7,393.5L388.3,390.1L386.7,385.1L381.7,380.1L375.1,375.1L368.1,371.7L363.7,370.1L365.1,367L363.7,362L368.1,360L374.1,359.6L379.7,359L382.1,361L385.1,363.6L390.1,364.4L396.1,364L396.5,359L395.7,353L395.7,349.6L399.1,349L401.7,350L402.1,353L408.1,354.4L414.2,355.6L417.2,352L422.2,350L428.2,348L431.2,344L434.2,337L436.2,334.4L440.2,333.6L440,333.7L443.6,337.1L447,340.1L450,343.7L453,347.1L456,349.7L459,349.1L462,351.7L466,354.1L469.1,356.1L471.1,355.1L471.1,355.1L472.5,358.1L475.7,358.5L475.7,358.5L480.1,362.1L486.1,366.1L491.7,368.5L489.1,374.1L487.7,380.1L486.5,386.1L487.1,389.7L487.1,389.7L482.1,391.1L480.1,394.1L477.1,398.1L474.1,402.1L471.1,407.1L469.7,409.7L473.1,408.5L477.1,407.7L479.7,413.1L479.7,413.1L478.1,418.2L480.1,422.2L477.1,426.2L476.1,430.2L479.1,433.2L480.1,438.2L484.1,441.2L486.1,444.2L484.5,446.2L484.5,446.2L480.1,448.2L475.1,451.2L470.1,455.2L465,454.2L460,452.2L454,451.2L450,449.2L446,448.2L442,451.2L438,455.2L435,459.2L434.4,463.2L434.6,464.6L434.6,464.6L430.2,463.7L422.2,462.5L416.2,460.1L408.1,457.1L400.1,454.5L390.1,450.1L384.1,445.1ZM502.9,459.4L504.9,463.6L506.6,469.8L506,476.1L503.9,481.3L500.8,483.4L498.3,480.3L496.2,475.1L495.6,469.8L497.6,465.7L500.8,463.6ZM384.1,445.1L385.9,440.1L388.3,433.5L391.7,423.5L393.3,416.7L395.9,413.5L392.5,406.7L394.1,403.5L390.9,398.5L386.7,393.5L388.3,390.1L386.7,385.1L381.7,380.1L375.1,375.1L368.1,371.7L363.7,370.1L365.1,367L363.7,362L368.1,360L374.1,359.6L379.7,359L382.1,361L385.1,363.6L390.1,364.4L396.1,364L396.5,359L395.7,353L395.7,349.6L399.1,349L401.7,350L402.1,353L408.1,354.4L414.2,355.6L417.2,352L422.2,350L428.2,348L431.2,344L434.2,337L436.2,334.4L440.2,333.6L440,333.7L443.6,337.1L447,340.1L450,343.7L453,347.1L456,349.7L459,349.1L462,351.7L466,354.1L469.1,356.1L471.1,355.1L471.1,355.1L472.5,358.1L475.7,358.5L475.7,358.5L480.1,362.1L486.1,366.1L491.7,368.5L489.1,374.1L487.7,380.1L486.5,386.1L487.1,389.7L487.1,389.7L482.1,391.1L480.1,394.1L477.1,398.1L474.1,402.1L471.1,407.1L469.7,409.7L473.1,408.5L477.1,407.7L479.7,413.1L479.7,413.1L478.1,418.2L480.1,422.2L477.1,426.2L476.1,430.2L479.1,433.2L480.1,438.2L484.1,441.2L486.1,444.2L484.5,446.2L484.5,446.2L480.1,448.2L475.1,451.2L470.1,455.2L465,454.2L460,452.2L454,451.2L450,449.2L446,448.2L442,451.2L438,455.2L435,459.2L434.4,463.2L434.6,464.6L434.6,464.6L430.2,463.7L422.2,462.5L416.2,460.1L408.1,457.1L400.1,454.5L390.1,450.1L384.1,445.1ZM502.9,459.4L504.9,463.6L506.6,469.8L506,476.1L503.9,481.3L500.8,483.4L498.3,480.3L496.2,475.1L495.6,469.8L497.6,465.7L500.8,463.6Z"/>
<path fill="#dba507" d="M384.1,445.1L390.1,450.1L400.1,454.5L408.1,457.1L416.2,460.1L422.2,462.5L430.2,463.7L434.6,464.6L434.6,464.6L435.2,467.2L434.2,471.2L430.2,474.2L422.2,478.2L414.2,481.2L408.1,483.2L404.5,486.2L402.1,490.2L398.1,494.2L393.1,500.2L390.1,505.2L389.7,510.2L392.1,513.2L394.5,516.2L390.1,520.2L385.1,524.2L382.1,530.2L378.1,531.2L374.1,535.2L369.1,538.2L364.1,541.2L358.1,540.2L350.1,539.2L342.1,538.6L334.1,538.2L328.1,540.2L322.5,543.2L319.1,544.6L315,541.2L313,536.2L312,532.2L309,528.2L306,524.2L302,522.2L300.4,520.8L300.4,520.8L301,517.2L302,514.2L306,510.2L309,508.2L307,504.2L306,500.2L310,496.2L309,492.2L307,488.2L309,486.2L313,485.2L316,480.2L318.1,474.2L319.1,470.2L322.5,465.2L327.1,461.7L326.1,458.1L323.1,454.5L318.1,453.7L313,452.1L308,450.1L306,448.1L303,447.7L300,448.1L300,448.1L301,444.1L302,440.1L300,435.1L300,429.7L303,428.1L313,425.5L318.1,425.1L322.5,428.1L330.1,429.7L338.1,432.1L347.1,436.1L356.1,438.1L364.1,439.7L374.1,442.1L382.1,444.5L384.1,445.1ZM422.2,506.2L427.2,503.2L432.2,502.6L435.2,505.2L433.2,509.2L430.2,511.8L426.2,510.2ZM439.2,501.2L442.6,500.2L445.8,502.6L444.2,504.6L440.2,503.2ZM407.1,513.8L410.1,512.2L412.5,513.8L411.1,517.2L410.1,519.8L408.1,518.2ZM384.1,445.1L390.1,450.1L400.1,454.5L408.1,457.1L416.2,460.1L422.2,462.5L430.2,463.7L434.6,464.6L434.6,464.6L435.2,467.2L434.2,471.2L430.2,474.2L422.2,478.2L414.2,481.2L408.1,483.2L404.5,486.2L402.1,490.2L398.1,494.2L393.1,500.2L390.1,505.2L389.7,510.2L392.1,513.2L394.5,516.2L390.1,520.2L385.1,524.2L382.1,530.2L378.1,531.2L374.1,535.2L369.1,538.2L364.1,541.2L358.1,540.2L350.1,539.2L342.1,538.6L334.1,538.2L328.1,540.2L322.5,543.2L319.1,544.6L315,541.2L313,536.2L312,532.2L309,528.2L306,524.2L302,522.2L300.4,520.8L300.4,520.8L301,517.2L302,514.2L306,510.2L309,508.2L307,504.2L306,500.2L310,496.2L309,492.2L307,488.2L309,486.2L313,485.2L316,480.2L318.1,474.2L319.1,470.2L322.5,465.2L327.1,461.7L326.1,458.1L323.1,454.5L318.1,453.7L313,452.1L308,450.1L306,448.1L303,447.7L300,448.1L300,448.1L301,444.1L302,440.1L300,435.1L300,429.7L303,428.1L313,425.5L318.1,425.1L322.5,428.1L330.1,429.7L338.1,432.1L347.1,436.1L356.1,438.1L364.1,439.7L374.1,442.1L382.1,444.5L384.1,445.1ZM422.2,506.2L427.2,503.2L432.2,502.6L435.2,505.2L433.2,509.2L430.2,511.8L426.2,510.2ZM439.2,501.2L442.6,500.2L445.8,502.6L444.2,504.6L440.2,503.2ZM407.1,513.8L410.1,512.2L412.5,513.8L411.1,517.2L410.1,519.8L408.1,518.2Z"/>
<path fill="#8e1360" d="M300,448.1L303,447.7L306,448.1L308,450.1L313,452.1L318.1,453.7L323.1,454.5L326.1,458.1L327.1,461.7L322.5,465.2L319.1,470.2L318.1,474.2L316,480.2L313,485.2L309,486.2L307,488.2L309,492.2L310,496.2L306,500.2L307,504.2L309,508.2L306,510.2L302,514.2L301,517.2L300.4,520.8L297,523.8L292,522.6L287,521.2L282,520.2L285,517.2L287,512.2L288,506.2L289,501.2L286,499.2L284,496.2L282.4,493.2L284,489.2L289,485.2L293,478.2L296,471.2L298,464.2L300,458.1L300.4,452.1ZM300,448.1L303,447.7L306,448.1L308,450.1L313,452.1L318.1,453.7L323.1,454.5L326.1,458.1L327.1,461.7L322.5,465.2L319.1,470.2L318.1,474.2L316,480.2L313,485.2L309,486.2L307,488.2L309,492.2L310,496.2L306,500.2L307,504.2L309,508.2L306,510.2L302,514.2L301,517.2L300.4,520.8L297,523.8L292,522.6L287,521.2L282,520.2L285,517.2L287,512.2L288,506.2L289,501.2L286,499.2L284,496.2L282.4,493.2L284,489.2L289,485.2L293,478.2L296,471.2L298,464.2L300,458.1L300.4,452.1Z"/>
<path fill="#8e1360" d="M484.5,446.2L486.1,444.2L484.1,441.2L480.1,438.2L479.1,433.2L476.1,430.2L477.1,426.2L480.1,422.2L478.1,418.2L479.7,413.1L479.7,413.1L487.1,412.5L493.1,408.1L498.1,410.1L501.7,414.2L505.1,408.5L509.1,406.5L514.1,407.7L517.1,403.1L517.1,401.1L517.1,401.1L520.1,402.1L524.1,401.1L528.1,399.7L532.1,400.1L536.1,402.1L542.1,404.5L548.1,406.5L547.5,406.9L547.8,410L548.5,412.5L549.4,415.7L550,419.8L548.1,418.2L544.1,417.2L540.1,419.2L537.1,423.2L536.1,428.2L537.1,433.2L538.1,438.2L541.1,442.2L545.1,445.2L549.1,449.2L552.1,454.2L555.1,459.2L558.1,464.2L562.1,468.2L567.2,472.2L572.2,474.2L578.2,473.2L581.2,474.2L580.2,478.2L583.2,481.2L589.2,485.2L597.6,486.6L601.3,488.5L605.1,491L607.6,493.5L610.1,496.6L610.7,499.8L608.8,501.6L606.3,500.4L604.5,497.9L601.3,495.4L597.6,494.1L593.8,493.5L591.3,496L589.4,499.1L588.2,502.9L588.8,506L591.3,507.3L593.8,508.5L596.1,511L596.9,514.2L595.7,516.7L592.6,518.5L590.7,521.7L589.4,524.8L586.9,528.5L584.4,531.7L581.9,532.9L580.1,531L580.7,527.3L581.9,523.5L583.8,521.7L585.7,519.2L585.1,515.4L583.8,511L581.9,507.3L580.1,503.5L577.5,500.4L573.2,499.8L570,497.9L567.5,494.8L563.2,492.3L560.1,487.2L555.1,484.2L551.1,482.2L546.1,480.2L542.1,478.2L539.1,475.2L536.1,471.2L532.1,467.2L528.1,463.2L524.1,460.2L520.1,457.2L518.1,453.2L516.1,448.2L513.1,445.2L509.1,442.2L504.1,439.2L500.1,437.8L496.1,439.2L492.1,442.2L488.1,445.2L484.5,446.2ZM491.4,487.6L494.5,489.7L499.7,487.6L504.9,487.1L508.1,491.7L508.7,498L507.4,505.3L506.6,512.6L503.9,517.8L498.7,520.9L494.5,519.9L492,516.8L492.4,510.5L491.4,504.2L490.8,496.9L490.3,491.7ZM578.2,529.2L576.9,532.3L575.7,535.4L575,538.6L575.7,542.9L576.5,546.7L575,549.8L573.8,552.1L570.7,551.7L567.5,550.4L563.8,547.9L560,546.1L555.7,544.2L551.3,542.3L546.9,540.4L543.1,539.2L541.9,536.7L543.1,533.5L545,532.3L548.8,532.9L552.5,532.3L555,534.2L558.8,534.2L562.5,533.3L566.3,532.5L570,531.7L573.8,530.4ZM484.5,446.2L486.1,444.2L484.1,441.2L480.1,438.2L479.1,433.2L476.1,430.2L477.1,426.2L480.1,422.2L478.1,418.2L479.7,413.1L479.7,413.1L487.1,412.5L493.1,408.1L498.1,410.1L501.7,414.2L505.1,408.5L509.1,406.5L514.1,407.7L517.1,403.1L517.1,401.1L517.1,401.1L520.1,402.1L524.1,401.1L528.1,399.7L532.1,400.1L536.1,402.1L542.1,404.5L548.1,406.5L547.5,406.9L547.8,410L548.5,412.5L549.4,415.7L550,419.8L548.1,418.2L544.1,417.2L540.1,419.2L537.1,423.2L536.1,428.2L537.1,433.2L538.1,438.2L541.1,442.2L545.1,445.2L549.1,449.2L552.1,454.2L555.1,459.2L558.1,464.2L562.1,468.2L567.2,472.2L572.2,474.2L578.2,473.2L581.2,474.2L580.2,478.2L583.2,481.2L589.2,485.2L597.6,486.6L601.3,488.5L605.1,491L607.6,493.5L610.1,496.6L610.7,499.8L608.8,501.6L606.3,500.4L604.5,497.9L601.3,495.4L597.6,494.1L593.8,493.5L591.3,496L589.4,499.1L588.2,502.9L588.8,506L591.3,507.3L593.8,508.5L596.1,511L596.9,514.2L595.7,516.7L592.6,518.5L590.7,521.7L589.4,524.8L586.9,528.5L584.4,531.7L581.9,532.9L580.1,531L580.7,527.3L581.9,523.5L583.8,521.7L585.7,519.2L585.1,515.4L583.8,511L581.9,507.3L580.1,503.5L577.5,500.4L573.2,499.8L570,497.9L567.5,494.8L563.2,492.3L560.1,487.2L555.1,484.2L551.1,482.2L546.1,480.2L542.1,478.2L539.1,475.2L536.1,471.2L532.1,467.2L528.1,463.2L524.1,460.2L520.1,457.2L518.1,453.2L516.1,448.2L513.1,445.2L509.1,442.2L504.1,439.2L500.1,437.8L496.1,439.2L492.1,442.2L488.1,445.2L484.5,446.2ZM491.4,487.6L494.5,489.7L499.7,487.6L504.9,487.1L508.1,491.7L508.7,498L507.4,505.3L506.6,512.6L503.9,517.8L498.7,520.9L494.5,519.9L492,516.8L492.4,510.5L491.4,504.2L490.8,496.9L490.3,491.7ZM578.2,529.2L576.9,532.3L575.7,535.4L575,538.6L575.7,542.9L576.5,546.7L575,549.8L573.8,552.1L570.7,551.7L567.5,550.4L563.8,547.9L560,546.1L555.7,544.2L551.3,542.3L546.9,540.4L543.1,539.2L541.9,536.7L543.1,533.5L545,532.3L548.8,532.9L552.5,532.3L555,534.2L558.8,534.2L562.5,533.3L566.3,532.5L570,531.7L573.8,530.4Z"/>
<path fill="#d01c8b" d="M487.1,389.7L492.1,390.1L497.1,389.7L502.1,391.1L507.1,394.1L507.1,394.1L509.1,398.1L514.1,400.1L517.1,401.1L517.1,401.1L517.1,403.1L514.1,407.7L509.1,406.5L505.1,408.5L501.7,414.2L498.1,410.1L493.1,408.1L487.1,412.5L479.7,413.1L479.7,413.1L477.1,407.7L473.1,408.5L469.7,409.7L471.1,407.1L474.1,402.1L477.1,398.1L480.1,394.1L482.1,391.1L487.1,389.7ZM487.1,389.7L492.1,390.1L497.1,389.7L502.1,391.1L507.1,394.1L507.1,394.1L509.1,398.1L514.1,400.1L517.1,401.1L517.1,401.1L517.1,403.1L514.1,407.7L509.1,406.5L505.1,408.5L501.7,414.2L498.1,410.1L493.1,408.1L487.1,412.5L479.7,413.1L479.7,413.1L477.1,407.7L473.1,408.5L469.7,409.7L471.1,407.1L474.1,402.1L477.1,398.1L480.1,394.1L482.1,391.1L487.1,389.7Z"/>
<path fill="#dba507" d="M507.1,394.1L509.1,392.5L512.1,391.1L516.1,392.1L520.1,391.1L526.1,390.1L532.1,388.1L538.1,389.1L542.5,388.1L541.1,384.1L544.1,380.1L548.1,376.1L552.1,373.1L552.1,373.1L557.1,370.1L561.1,368.1L566.2,367.7L572.2,368.5L578.2,369.1L582.2,368.1L584.2,370.1L584.2,370.1L583.2,374.1L585.2,379.1L585.2,379.1L582.6,384.1L580.2,388.1L579.2,392.1L578.2,397.1L578.2,399.1L578.2,399.1L572.2,402.1L566.2,403.7L560.1,405.1L554.1,406.1L548.1,406.5L548.1,406.5L542.1,404.5L536.1,402.1L532.1,400.1L528.1,399.7L524.1,401.1L520.1,402.1L517.1,401.1L517.1,401.1L514.1,400.1L509.1,398.1L507.1,394.1ZM507.1,394.1L509.1,392.5L512.1,391.1L516.1,392.1L520.1,391.1L526.1,390.1L532.1,388.1L538.1,389.1L542.5,388.1L541.1,384.1L544.1,380.1L548.1,376.1L552.1,373.1L552.1,373.1L557.1,370.1L561.1,368.1L566.2,367.7L572.2,368.5L578.2,369.1L582.2,368.1L584.2,370.1L584.2,370.1L583.2,374.1L585.2,379.1L585.2,379.1L582.6,384.1L580.2,388.1L579.2,392.1L578.2,397.1L578.2,399.1L578.2,399.1L572.2,402.1L566.2,403.7L560.1,405.1L554.1,406.1L548.1,406.5L548.1,406.5L542.1,404.5L536.1,402.1L532.1,400.1L528.1,399.7L524.1,401.1L520.1,402.1L517.1,401.1L517.1,401.1L514.1,400.1L509.1,398.1L507.1,394.1Z"/>
<path fill="#dba507" d="M558.1,335.7L552.1,338.1L546.1,341.1L540.1,344.5L535.1,347.1L532.5,349.1L534.1,354.1L537.1,359.1L541.1,363.1L545.1,367.1L550.1,371.1L552.1,373.1L552.1,373.1L557.1,370.1L561.1,368.1L566.2,367.7L572.2,368.5L578.2,369.1L582.2,368.1L584.2,370.1L584.2,370.1L587.2,366.1L591.2,362.1L595.2,358.1L597.2,356.1L597.2,356.1L592.2,352.1L587.2,349.1L582.2,347.1L579.2,345.1L577.2,347.1L573.2,343.1L568.2,340.1L563.1,337.7L558.1,335.7ZM558.1,335.7L552.1,338.1L546.1,341.1L540.1,344.5L535.1,347.1L532.5,349.1L534.1,354.1L537.1,359.1L541.1,363.1L545.1,367.1L550.1,371.1L552.1,373.1L552.1,373.1L557.1,370.1L561.1,368.1L566.2,367.7L572.2,368.5L578.2,369.1L582.2,368.1L584.2,370.1L584.2,370.1L587.2,366.1L591.2,362.1L595.2,358.1L597.2,356.1L597.2,356.1L592.2,352.1L587.2,349.1L582.2,347.1L579.2,345.1L577.2,347.1L573.2,343.1L568.2,340.1L563.1,337.7L558.1,335.7Z"/>
<path fill="#0cdcf6" d="M584.2,370.1L587.2,366.1L591.2,362.1L595.2,358.1L597.2,356.1L597.2,356.1L599,356.5L603,354.1L607,355.1L612.1,356.5L618.1,355.1L624.1,353.1L630.1,354.1L637.1,356.5L637.1,356.5L635.7,361.1L634.1,365.1L634.1,365.1L629.1,366.5L624.1,366.1L619.1,368.1L614.1,371.1L609.1,375.1L604,378.1L600,380.1L595,381.1L590,380.1L585.2,379.1L585.2,379.1L583.2,374.1L584.2,370.1ZM584.2,370.1L587.2,366.1L591.2,362.1L595.2,358.1L597.2,356.1L597.2,356.1L599,356.5L603,354.1L607,355.1L612.1,356.5L618.1,355.1L624.1,353.1L630.1,354.1L637.1,356.5L637.1,356.5L635.7,361.1L634.1,365.1L634.1,365.1L629.1,366.5L624.1,366.1L619.1,368.1L614.1,371.1L609.1,375.1L604,378.1L600,380.1L595,381.1L590,380.1L585.2,379.1L585.2,379.1L583.2,374.1L584.2,370.1Z"/>
<path fill="#ffcf44" d="M585.2,379.1L590,380.1L595,381.1L600,380.1L604,378.1L609.1,375.1L614.1,371.1L619.1,368.1L624.1,366.1L629.1,366.5L634.1,365.1L634.1,365.1L638.1,368.1L641.1,370.1L641.1,370.1L639.1,375.1L636.1,381.1L633.1,388.1L630.1,395.1L627.1,400.1L623.2,406.3L623.2,406.3L620.1,404.8L615.1,405.3L610.1,407.5L608.2,410.6L608.2,410.6L605.1,410L601.3,411.3L596.3,411.9L591.3,410L586.3,406.9L581.3,403.8L577.5,402.5L577.5,402.5L578.2,399.1L578.2,397.1L579.2,392.1L580.2,388.1L582.6,384.1L585.2,379.1ZM585.2,379.1L590,380.1L595,381.1L600,380.1L604,378.1L609.1,375.1L614.1,371.1L619.1,368.1L624.1,366.1L629.1,366.5L634.1,365.1L634.1,365.1L638.1,368.1L641.1,370.1L641.1,370.1L639.1,375.1L636.1,381.1L633.1,388.1L630.1,395.1L627.1,400.1L623.2,406.3L623.2,406.3L620.1,404.8L615.1,405.3L610.1,407.5L608.2,410.6L608.2,410.6L605.1,410L601.3,411.3L596.3,411.9L591.3,410L586.3,406.9L581.3,403.8L577.5,402.5L577.5,402.5L578.2,399.1L578.2,397.1L579.2,392.1L580.2,388.1L582.6,384.1L585.2,379.1Z"/>
<path fill="#ffcf44" d="M548.1,406.5L554.1,406.1L560.1,405.1L566.2,403.7L572.2,402.1L578.2,399.1L578.2,399.1L577.5,402.5L577.5,402.5L575.7,405.6L572.3,409.4L570.7,412.5L569.8,415.7L568.2,419.4L563.8,419.8L560,419.4L556.9,420L553.8,419.4L551.9,418.2L550,419.8L550,419.8L549.4,415.7L548.5,412.5L547.8,410L547.5,406.9ZM548.1,406.5L554.1,406.1L560.1,405.1L566.2,403.7L572.2,402.1L578.2,399.1L578.2,399.1L577.5,402.5L577.5,402.5L575.7,405.6L572.3,409.4L570.7,412.5L569.8,415.7L568.2,419.4L563.8,419.8L560,419.4L556.9,420L553.8,419.4L551.9,418.2L550,419.8L550,419.8L549.4,415.7L548.5,412.5L547.8,410L547.5,406.9Z"/>
<path fill="#ffcf44" d="M550,419.8L551.9,418.2L553.8,419.4L556.9,420L560,419.4L563.8,419.8L568.2,419.4L569.8,415.7L570.7,412.5L572.3,409.4L575.7,405.6L577.5,402.5L577.5,402.5L581.3,403.8L586.3,406.9L591.3,410L596.3,411.9L601.3,411.3L605.1,410L608.2,410.6L608.2,410.6L610.1,413.8L610.7,417.5L611.3,421.3L611.9,424.4L611.9,424.4L607.6,423.5L602.6,423.8L597.6,423.5L592.6,422.8L587.5,423.2L582.5,422.8L577.5,423.5L574.4,424.4L574.4,424.4L574.4,427.5L576.3,431.3L579.4,435L583.2,439.4L587.5,443.8L591.3,447.6L595.1,451.3L598.8,454.4L602.6,457.6L605.7,459.4L605.7,459.4L605.1,460.1L602.6,458.8L598.8,457.2L595.1,455.3L591.3,453.4L587.5,452.2L583.2,450.3L578.8,447.8L575,445.3L571.3,442.2L568.2,439.1L565,435.3L562.5,431.5L560.6,427.8L558.8,424L558.1,422.8L556.9,425L555.6,427.5L554.4,429.4L552.5,427.5L550.6,423.8L550,419.8ZM558.8,425.7L560,426.3L561,431.9L559.8,432.5ZM565,439.1L566.9,439.4L570,442.3L568.5,442.8ZM582.5,450.9L586.3,451.6L591.3,454.1L590.1,455.1L585.7,453.2ZM587.5,455.1L592.6,456.1L598.2,458.6L596.9,459.4L591.9,457.6ZM550,419.8L551.9,418.2L553.8,419.4L556.9,420L560,419.4L563.8,419.8L568.2,419.4L569.8,415.7L570.7,412.5L572.3,409.4L575.7,405.6L577.5,402.5L577.5,402.5L581.3,403.8L586.3,406.9L591.3,410L596.3,411.9L601.3,411.3L605.1,410L608.2,410.6L608.2,410.6L610.1,413.8L610.7,417.5L611.3,421.3L611.9,424.4L611.9,424.4L607.6,423.5L602.6,423.8L597.6,423.5L592.6,422.8L587.5,423.2L582.5,422.8L577.5,423.5L574.4,424.4L574.4,424.4L574.4,427.5L576.3,431.3L579.4,435L583.2,439.4L587.5,443.8L591.3,447.6L595.1,451.3L598.8,454.4L602.6,457.6L605.7,459.4L605.7,459.4L605.1,460.1L602.6,458.8L598.8,457.2L595.1,455.3L591.3,453.4L587.5,452.2L583.2,450.3L578.8,447.8L575,445.3L571.3,442.2L568.2,439.1L565,435.3L562.5,431.5L560.6,427.8L558.8,424L558.1,422.8L556.9,425L555.6,427.5L554.4,429.4L552.5,427.5L550.6,423.8L550,419.8ZM558.8,425.7L560,426.3L561,431.9L559.8,432.5ZM565,439.1L566.9,439.4L570,442.3L568.5,442.8ZM582.5,450.9L586.3,451.6L591.3,454.1L590.1,455.1L585.7,453.2ZM587.5,455.1L592.6,456.1L598.2,458.6L596.9,459.4L591.9,457.6Z"/>
<path fill="#dba507" d="M574.4,424.4L577.5,423.5L582.5,422.8L587.5,423.2L592.6,422.8L597.6,423.5L602.6,423.8L607.6,423.5L611.9,424.4L611.9,424.4L612.6,427.5L611.3,431.3L613.8,434.4L616.3,436.3L615.1,439.4L616.3,441.3L613.8,443.8L611.9,446.3L610.1,448.8L610.1,448.8L608.2,451.3L606.9,454.4L606.1,457.6L605.7,459.4L605.7,459.4L602.6,457.6L598.8,454.4L595.1,451.3L591.3,447.6L587.5,443.8L583.2,439.4L579.4,435L576.3,431.3L574.4,427.5L574.4,424.4ZM574.4,424.4L577.5,423.5L582.5,422.8L587.5,423.2L592.6,422.8L597.6,423.5L602.6,423.8L607.6,423.5L611.9,424.4L611.9,424.4L612.6,427.5L611.3,431.3L613.8,434.4L616.3,436.3L615.1,439.4L616.3,441.3L613.8,443.8L611.9,446.3L610.1,448.8L610.1,448.8L608.2,451.3L606.9,454.4L606.1,457.6L605.7,459.4L605.7,459.4L602.6,457.6L598.8,454.4L595.1,451.3L591.3,447.6L587.5,443.8L583.2,439.4L579.4,435L576.3,431.3L574.4,427.5L574.4,424.4Z"/>
<path fill="#d01c8b" d="M608.2,410.6L610.1,407.5L615.1,405.3L620.1,404.8L623.2,406.3L623.2,406.3L626.3,410L630.1,413.8L633.8,416.9L637,420L640.1,422.8L643.9,424.4L647,423.8L649.5,427.5L648.9,430L648.9,430L648.2,433.8L650.1,437.5L652.6,441.3L654.5,445.1L653.2,448.8L651.4,452.6L650.7,456.3L650.1,458.2L646.4,459.4L643.2,460.1L643.9,455.1L642,453.2L638.9,451.3L635.1,448.8L632,447.6L629.5,450.1L627.6,453.8L625.1,451.3L621.3,449.4L617.6,447.6L613.8,445.7L610.1,448.8L610.1,448.8L611.9,446.3L613.8,443.8L616.3,441.3L615.1,439.4L616.3,436.3L613.8,434.4L611.3,431.3L612.6,427.5L611.9,424.4L611.9,424.4L611.3,421.3L610.7,417.5L610.1,413.8L608.2,410.6ZM608.2,410.6L610.1,407.5L615.1,405.3L620.1,404.8L623.2,406.3L623.2,406.3L626.3,410L630.1,413.8L633.8,416.9L637,420L640.1,422.8L643.9,424.4L647,423.8L649.5,427.5L648.9,430L648.9,430L648.2,433.8L650.1,437.5L652.6,441.3L654.5,445.1L653.2,448.8L651.4,452.6L650.7,456.3L650.1,458.2L646.4,459.4L643.2,460.1L643.9,455.1L642,453.2L638.9,451.3L635.1,448.8L632,447.6L629.5,450.1L627.6,453.8L625.1,451.3L621.3,449.4L617.6,447.6L613.8,445.7L610.1,448.8L610.1,448.8L611.9,446.3L613.8,443.8L616.3,441.3L615.1,439.4L616.3,436.3L613.8,434.4L611.3,431.3L612.6,427.5L611.9,424.4L611.9,424.4L611.3,421.3L610.7,417.5L610.1,413.8L608.2,410.6Z"/>
<path fill="#0cdcf6" d="M610.1,448.8L613.8,445.7L617.6,447.6L621.3,449.4L625.1,451.3L627.6,453.8L625.1,456.9L622.6,458.2L620.1,460.1L618.2,462.6L617,466.1L613.8,464.7L610.1,462.3L607.6,460.4L605.7,459.4L606.1,457.6L606.9,454.4L608.2,451.3L610.1,448.8ZM610.1,448.8L613.8,445.7L617.6,447.6L621.3,449.4L625.1,451.3L627.6,453.8L625.1,456.9L622.6,458.2L620.1,460.1L618.2,462.6L617,466.1L613.8,464.7L610.1,462.3L607.6,460.4L605.7,459.4L606.1,457.6L606.9,454.4L608.2,451.3L610.1,448.8Z"/>
<path fill="#cfcfcf" d="M627.6,453.8L629.5,450.1L632,447.6L635.1,448.8L638.9,451.3L642,453.2L643.9,455.1L643.2,460.1L640.1,461.9L636.4,463.8L633.2,464.8L630.7,462.8L627.6,460.1L625.1,456.9ZM627.6,453.8L629.5,450.1L632,447.6L635.1,448.8L638.9,451.3L642,453.2L643.9,455.1L643.2,460.1L640.1,461.9L636.4,463.8L633.2,464.8L630.7,462.8L627.6,460.1L625.1,456.9Z"/>
<path fill="#0cdcf6" d="M617,466.1L618.2,462.6L620.1,460.1L622.6,458.2L625.1,456.9L627.6,460.1L630.7,462.8L633.2,464.8L633.2,468.8L632.6,472.6L633.8,476.3L636.4,479.5L638.9,482.6L639.5,485.1L637.7,490.2L634.5,494.2L631.7,499.2L629.1,498.2L625.1,494.2L622.1,490.2L620.1,487.6L619.5,482.6L618.6,477.6L618.8,473.8L617.6,470.1ZM617,466.1L618.2,462.6L620.1,460.1L622.6,458.2L625.1,456.9L627.6,460.1L630.7,462.8L633.2,464.8L633.2,468.8L632.6,472.6L633.8,476.3L636.4,479.5L638.9,482.6L639.5,485.1L637.7,490.2L634.5,494.2L631.7,499.2L629.1,498.2L625.1,494.2L622.1,490.2L620.1,487.6L619.5,482.6L618.6,477.6L618.8,473.8L617.6,470.1Z"/>
<path fill="#d01c8b" d="M633.2,464.8L636.4,463.8L640.1,461.9L643.2,460.1L646.4,459.4L650.1,458.2L650.1,458.2L653.9,460.1L657,463.2L658.2,467L657.6,471.3L657.6,471.3L655.1,475.1L651.4,476.3L647.6,477.6L643.9,479.5L640.1,480.7L637,480.1L633.8,476.3L632.6,472.6L633.2,468.8ZM633.2,464.8L636.4,463.8L640.1,461.9L643.2,460.1L646.4,459.4L650.1,458.2L650.1,458.2L653.9,460.1L657,463.2L658.2,467L657.6,471.3L657.6,471.3L655.1,475.1L651.4,476.3L647.6,477.6L643.9,479.5L640.1,480.7L637,480.1L633.8,476.3L632.6,472.6L633.2,468.8Z"/>
<path fill="#d01c8b" d="M631.3,501.9L633.8,497.6L636.9,492.6L639.4,487.5L640.3,482.8L637,480.1L640.1,480.7L643.9,479.5L647.6,477.6L651.4,476.3L655.1,475.1L657.6,471.3L664.1,469.2L670.1,468.2L676.1,467.2L682.1,467.2L688.1,465.8L693.1,463.2L696.1,460.2L698.1,459.2L695.1,459.4L698.2,458.8L700.1,460.6L699.8,463.8L698.8,466.9L698.2,470.7L697.6,473.2L693.8,472.8L690.1,472.3L686.3,472.8L682.6,473.8L680.1,472.8L677.6,474.4L675.1,476.3L673.2,477.5L671.9,479.8L674.4,482.5L677.6,483.8L678.8,485.7L676.3,485.3L673.8,484.4L672.5,486L675.1,488.2L673.2,488.8L670.7,486.9L668.8,488.2L670.7,490.1L668.8,490.3L666.9,488.2L665,486.3L662.5,484.4L660,483.2L658.8,485.3L659.8,489.4L661.9,493.2L664.4,496.9L666.9,500.1L668.8,501.9L670.7,502.6L669.4,504.4L672.5,504.8L677.6,507.6L680.7,510.1L682.6,513.2L685.1,516.3L686.9,518.2L683.8,517.6L681.3,516.1L679.1,515.3L680.7,520.1L681.3,522.8L678.8,521.3L676.3,519.5L673.2,518.2L670,517L668.2,518.2L665,516.6L661.3,515.7L657.5,516.6L653.8,518.2L650,518.6L646.9,517.3L645,515.1L642.5,511.9L640.6,510.1L638.1,507.6L635.6,505.1L633.1,503.2ZM646.3,526.3L649.4,523.2L653.8,521.1L658.8,520.3L663.2,521.3L666.9,522.6L670,525.1L673.2,527.6L675.1,528.8L672.5,530.1L670,529.5L668.8,531.3L670,535.1L671.9,538.9L673.2,543.2L671.5,543.9L669.4,540.1L667.5,537.6L666.3,540.1L665,543.9L663.8,544.5L662.5,541.4L661.3,538.9L659.4,539.5L658.2,541.4L656.3,540.7L655,537.6L653.2,534.5L650.7,531.3L648.1,528.8ZM680.1,557.6L681.9,555.7L685.1,556.4L688.8,557L692.6,556.4L696.9,556.1L701.3,555.7L705.1,555.1L708.8,555.7L712.6,554.5L715.1,553.9L715.3,556.4L713.2,558.2L709.5,558.9L705.1,559.5L701.3,560.8L698.2,562.6L695.1,562L691.3,560.8L687.6,561.1L683.8,561.4L681.3,560.1ZM679.1,476.9L681.3,476L682.3,478.2L680.7,479.4L679.2,478.8ZM690.1,478.5L692.6,478.2L693.2,479.8L690.7,480ZM687.2,487.3L689.4,486L691.9,486.5L691.3,489.1L688.6,489.4ZM698.6,496.3L701.3,494.1L705.1,493.8L707.6,495.7L707,498.2L703.8,499.1L700.1,498.8ZM700.7,506.9L703.2,505.7L704.8,508.2L703.8,511.9L701.6,511.3ZM711.3,515.7L714.5,514.8L716.3,516.1L714.1,517.6L712,517.3ZM704.5,520.1L707,519.1L708.8,520.1L706.3,521.3ZM730.1,535.1L732.6,532L734.9,531.3L734.5,535.1L732.6,538.9L730.7,540.7L729.9,538.2ZM723.2,544.5L724.5,543.9L725.4,547.6L724.9,550.1L723.6,548.2ZM718.2,529.5L720.7,528.6L722.6,529.5L720.3,530.7ZM682.8,504.4L684.8,504.1L685.1,506.1L683.6,506.3ZM673.6,501.6L675.3,501.3L675.7,502.8L674.1,502.9ZM687.6,518.2L690.1,518.8L693.2,521.1L692.6,522.1L689.4,520.1ZM694.4,522.6L696.9,523.2L699.1,525.1L698.2,525.8L695.3,524.1ZM684.4,522.8L686.1,522.6L686.3,524.8L684.8,524.6ZM686.9,527L688.6,527.6L688.2,529.1L687.1,528.6ZM689.4,532.6L691.1,532.8L690.8,534.3L689.6,534.1ZM691.9,525.1L693.6,525.3L693.2,526.8L692.1,526.3ZM696.1,529.5L698.2,529.1L698.6,531.1L696.6,531.3ZM699.5,528.2L701.3,528.6L700.8,530.7L699.6,530.1ZM698.8,534.5L700.3,534.8L700.1,536.4L698.8,535.8ZM704.1,532.6L706.3,531.1L707.3,532.1L705.1,533.8ZM710.3,534.5L712.6,533.6L713.1,534.8L711.1,535.8ZM687.3,537.4L689.4,536.6L689.8,538.1L687.8,538.6ZM700.1,538.9L701.6,539.1L701.3,540.7L700.1,540.4ZM717,526.3L719.1,525.7L719.3,527.1L717.6,527.6ZM725.1,528.2L728.9,527.3L731.4,528.3L728.2,529.6ZM625.6,501.1L627.5,502.6L630,506.1L628.8,505.7L626.3,503.2ZM637.9,514.5L639.4,514.8L639.3,517.1L638,516.6ZM636.9,521.3L639.4,520.1L641.3,522.6L640,525.1L637.5,524.1ZM640.6,528.3L642.8,528.1L643.8,529.8L641.5,530.3ZM670.7,546.6L672.8,546.4L673.3,548.6L671.3,548.9ZM631.3,501.9L633.8,497.6L636.9,492.6L639.4,487.5L640.3,482.8L637,480.1L640.1,480.7L643.9,479.5L647.6,477.6L651.4,476.3L655.1,475.1L657.6,471.3L664.1,469.2L670.1,468.2L676.1,467.2L682.1,467.2L688.1,465.8L693.1,463.2L696.1,460.2L698.1,459.2L695.1,459.4L698.2,458.8L700.1,460.6L699.8,463.8L698.8,466.9L698.2,470.7L697.6,473.2L693.8,472.8L690.1,472.3L686.3,472.8L682.6,473.8L680.1,472.8L677.6,474.4L675.1,476.3L673.2,477.5L671.9,479.8L674.4,482.5L677.6,483.8L678.8,485.7L676.3,485.3L673.8,484.4L672.5,486L675.1,488.2L673.2,488.8L670.7,486.9L668.8,488.2L670.7,490.1L668.8,490.3L666.9,488.2L665,486.3L662.5,484.4L660,483.2L658.8,485.3L659.8,489.4L661.9,493.2L664.4,496.9L666.9,500.1L668.8,501.9L670.7,502.6L669.4,504.4L672.5,504.8L677.6,507.6L680.7,510.1L682.6,513.2L685.1,516.3L686.9,518.2L683.8,517.6L681.3,516.1L679.1,515.3L680.7,520.1L681.3,522.8L678.8,521.3L676.3,519.5L673.2,518.2L670,517L668.2,518.2L665,516.6L661.3,515.7L657.5,516.6L653.8,518.2L650,518.6L646.9,517.3L645,515.1L642.5,511.9L640.6,510.1L638.1,507.6L635.6,505.1L633.1,503.2ZM646.3,526.3L649.4,523.2L653.8,521.1L658.8,520.3L663.2,521.3L666.9,522.6L670,525.1L673.2,527.6L675.1,528.8L672.5,530.1L670,529.5L668.8,531.3L670,535.1L671.9,538.9L673.2,543.2L671.5,543.9L669.4,540.1L667.5,537.6L666.3,540.1L665,543.9L663.8,544.5L662.5,541.4L661.3,538.9L659.4,539.5L658.2,541.4L656.3,540.7L655,537.6L653.2,534.5L650.7,531.3L648.1,528.8ZM680.1,557.6L681.9,555.7L685.1,556.4L688.8,557L692.6,556.4L696.9,556.1L701.3,555.7L705.1,555.1L708.8,555.7L712.6,554.5L715.1,553.9L715.3,556.4L713.2,558.2L709.5,558.9L705.1,559.5L701.3,560.8L698.2,562.6L695.1,562L691.3,560.8L687.6,561.1L683.8,561.4L681.3,560.1ZM679.1,476.9L681.3,476L682.3,478.2L680.7,479.4L679.2,478.8ZM690.1,478.5L692.6,478.2L693.2,479.8L690.7,480ZM687.2,487.3L689.4,486L691.9,486.5L691.3,489.1L688.6,489.4ZM698.6,496.3L701.3,494.1L705.1,493.8L707.6,495.7L707,498.2L703.8,499.1L700.1,498.8ZM700.7,506.9L703.2,505.7L704.8,508.2L703.8,511.9L701.6,511.3ZM711.3,515.7L714.5,514.8L716.3,516.1L714.1,517.6L712,517.3ZM704.5,520.1L707,519.1L708.8,520.1L706.3,521.3ZM730.1,535.1L732.6,532L734.9,531.3L734.5,535.1L732.6,538.9L730.7,540.7L729.9,538.2ZM723.2,544.5L724.5,543.9L725.4,547.6L724.9,550.1L723.6,548.2ZM718.2,529.5L720.7,528.6L722.6,529.5L720.3,530.7ZM682.8,504.4L684.8,504.1L685.1,506.1L683.6,506.3ZM673.6,501.6L675.3,501.3L675.7,502.8L674.1,502.9ZM687.6,518.2L690.1,518.8L693.2,521.1L692.6,522.1L689.4,520.1ZM694.4,522.6L696.9,523.2L699.1,525.1L698.2,525.8L695.3,524.1ZM684.4,522.8L686.1,522.6L686.3,524.8L684.8,524.6ZM686.9,527L688.6,527.6L688.2,529.1L687.1,528.6ZM689.4,532.6L691.1,532.8L690.8,534.3L689.6,534.1ZM691.9,525.1L693.6,525.3L693.2,526.8L692.1,526.3ZM696.1,529.5L698.2,529.1L698.6,531.1L696.6,531.3ZM699.5,528.2L701.3,528.6L700.8,530.7L699.6,530.1ZM698.8,534.5L700.3,534.8L700.1,536.4L698.8,535.8ZM704.1,532.6L706.3,531.1L707.3,532.1L705.1,533.8ZM710.3,534.5L712.6,533.6L713.1,534.8L711.1,535.8ZM687.3,537.4L689.4,536.6L689.8,538.1L687.8,538.6ZM700.1,538.9L701.6,539.1L701.3,540.7L700.1,540.4ZM717,526.3L719.1,525.7L719.3,527.1L717.6,527.6ZM725.1,528.2L728.9,527.3L731.4,528.3L728.2,529.6ZM625.6,501.1L627.5,502.6L630,506.1L628.8,505.7L626.3,503.2ZM637.9,514.5L639.4,514.8L639.3,517.1L638,516.6ZM636.9,521.3L639.4,520.1L641.3,522.6L640,525.1L637.5,524.1ZM640.6,528.3L642.8,528.1L643.8,529.8L641.5,530.3ZM670.7,546.6L672.8,546.4L673.3,548.6L671.3,548.9Z"/>
<path fill="#0cdcf6" d="M648.9,430L650.1,429.2L654.1,431.2L660.1,431.8L666.1,431.2L672.1,431.2L678.1,431.2L684.1,430.2L690.1,427.2L696.1,424.2L702.1,422.2L708.2,421.8L714.2,423.2L712.6,428.2L710.2,434.2L708.6,440.2L709.2,445.2L712.2,449.2L713.2,450.2L713.2,450.2L708.2,451.2L703.1,453.2L699.1,456.2L698.1,459.2L698.1,459.2L696.1,460.2L693.1,463.2L688.1,465.8L682.1,467.2L676.1,467.2L670.1,468.2L664.1,469.2L657.6,471.3L657.6,471.3L658.2,467L657,463.2L653.9,460.1L650.1,458.2L650.1,458.2L650.7,456.3L651.4,452.6L653.2,448.8L654.5,445.1L652.6,441.3L650.1,437.5L648.2,433.8L648.9,430ZM648.9,430L650.1,429.2L654.1,431.2L660.1,431.8L666.1,431.2L672.1,431.2L678.1,431.2L684.1,430.2L690.1,427.2L696.1,424.2L702.1,422.2L708.2,421.8L714.2,423.2L712.6,428.2L710.2,434.2L708.6,440.2L709.2,445.2L712.2,449.2L713.2,450.2L713.2,450.2L708.2,451.2L703.1,453.2L699.1,456.2L698.1,459.2L698.1,459.2L696.1,460.2L693.1,463.2L688.1,465.8L682.1,467.2L676.1,467.2L670.1,468.2L664.1,469.2L657.6,471.3L657.6,471.3L658.2,467L657,463.2L653.9,460.1L650.1,458.2L650.1,458.2L650.7,456.3L651.4,452.6L653.2,448.8L654.5,445.1L652.6,441.3L650.1,437.5L648.2,433.8L648.9,430Z"/>
<path fill="#dba507" d="M641.1,370.1L646.1,372.1L652.1,371.1L658.1,370.1L660,370L663.3,371.7L666.7,369.2L670,367.5L673.3,365.9L675.8,363.4L676.7,361.3L679.2,360L680.9,359.6L680.9,359.6L684.2,362.9L687.5,367.1L690.9,370.4L694.2,373.8L697.5,377.5L700,381.3L701.3,385.9L702.5,390.5L703.8,394.6L705,397.1L705,397.1L706.7,399.2L710.1,399.6L713.4,398.4L716.7,396.7L719.2,397.1L719.2,397.1L720.1,400.5L718.4,403.4L715.1,403.8L713.4,407.6L713.4,411.7L713.8,416.2L714.2,423.2L714.2,423.2L708.2,421.8L702.1,422.2L696.1,424.2L690.1,427.2L684.1,430.2L678.1,431.2L672.1,431.2L666.1,431.2L660.1,431.8L654.1,431.2L650.1,429.2L648.9,430L648.9,430L649.5,427.5L647,423.8L643.9,424.4L640.1,422.8L637,420L633.8,416.9L630.1,413.8L626.3,410L623.2,406.3L623.2,406.3L627.1,400.1L630.1,395.1L633.1,388.1L636.1,381.1L639.1,375.1L641.1,370.1ZM641.1,370.1L646.1,372.1L652.1,371.1L658.1,370.1L660,370L663.3,371.7L666.7,369.2L670,367.5L673.3,365.9L675.8,363.4L676.7,361.3L679.2,360L680.9,359.6L680.9,359.6L684.2,362.9L687.5,367.1L690.9,370.4L694.2,373.8L697.5,377.5L700,381.3L701.3,385.9L702.5,390.5L703.8,394.6L705,397.1L705,397.1L706.7,399.2L710.1,399.6L713.4,398.4L716.7,396.7L719.2,397.1L719.2,397.1L720.1,400.5L718.4,403.4L715.1,403.8L713.4,407.6L713.4,411.7L713.8,416.2L714.2,423.2L714.2,423.2L708.2,421.8L702.1,422.2L696.1,424.2L690.1,427.2L684.1,430.2L678.1,431.2L672.1,431.2L666.1,431.2L660.1,431.8L654.1,431.2L650.1,429.2L648.9,430L648.9,430L649.5,427.5L647,423.8L643.9,424.4L640.1,422.8L637,420L633.8,416.9L630.1,413.8L626.3,410L623.2,406.3L623.2,406.3L627.1,400.1L630.1,395.1L633.1,388.1L636.1,381.1L639.1,375.1L641.1,370.1Z"/>
<path fill="#8e1360" d="M680.9,359.6L684.2,357.1L687.5,355.4L691.3,356.3L695,357.9L698.8,357.5L702.5,358.8L705.5,360.4L706.3,363.8L708.8,365.9L711.3,367.5L713.4,370.9L715.5,373.8L718.4,375.9L719.6,378.8L717.6,379.6L714.2,380L710.9,381.3L709.2,383.8L710.1,387.1L709.2,390.9L707.5,394.2L706.3,397.1L705,397.1L705,397.1L703.8,394.6L702.5,390.5L701.3,385.9L700,381.3L697.5,377.5L694.2,373.8L690.9,370.4L687.5,367.1L684.2,362.9L680.9,359.6ZM680.9,359.6L684.2,357.1L687.5,355.4L691.3,356.3L695,357.9L698.8,357.5L702.5,358.8L705.5,360.4L706.3,363.8L708.8,365.9L711.3,367.5L713.4,370.9L715.5,373.8L718.4,375.9L719.6,378.8L717.6,379.6L714.2,380L710.9,381.3L709.2,383.8L710.1,387.1L709.2,390.9L707.5,394.2L706.3,397.1L705,397.1L705,397.1L703.8,394.6L702.5,390.5L701.3,385.9L700,381.3L697.5,377.5L694.2,373.8L690.9,370.4L687.5,367.1L684.2,362.9L680.9,359.6Z"/>
<path fill="#00838f" d="M649.8,192.4L642.2,193L634.2,194L628.1,195.6L622.1,199.1L618.1,202.5L618.1,208.1L621.1,213.1L626.1,215.1L629.1,219.7L629.1,219.7L634.2,217.7L640.2,219.1L646.2,221.1L652.2,220.5L654.2,220.1L654.2,220.1L653.2,214.1L651.2,208.1L649.2,200.1L649.8,192.4ZM606.9,206.9L613.2,204.7L617.9,207.9L615.7,211.9L608.5,212.6ZM605.4,215.7L611.6,212.6L618.8,211.9L621,215.7L616.3,220.4L610,223.5L606.3,221.3ZM649.8,192.4L642.2,193L634.2,194L628.1,195.6L622.1,199.1L618.1,202.5L618.1,208.1L621.1,213.1L626.1,215.1L629.1,219.7L629.1,219.7L634.2,217.7L640.2,219.1L646.2,221.1L652.2,220.5L654.2,220.1L654.2,220.1L653.2,214.1L651.2,208.1L649.2,200.1L649.8,192.4ZM606.9,206.9L613.2,204.7L617.9,207.9L615.7,211.9L608.5,212.6ZM605.4,215.7L611.6,212.6L618.8,211.9L621,215.7L616.3,220.4L610,223.5L606.3,221.3Z"/>
<path fill="#ffcf44" d="M629.1,219.7L634.2,217.7L640.2,219.1L646.2,221.1L652.2,220.5L654.2,220.1L654.2,220.1L658.2,226.1L661.8,232.1L664.2,238.1L664.6,240.5L664.6,240.5L660.2,244.1L656.2,248.1L654.6,249.1L654.6,249.1L652.2,249.7L646.2,247.1L639.2,244.5L635.2,242.5L628.1,245.1L620.1,246.1L612.1,247.7L605.7,250.1L605.1,249.1L604.1,242.1L605.7,236.1L608.1,230.1L611.1,227.1L616.1,228.1L621.1,232.1L626.1,235.1L629.1,232.1L630.1,226.1ZM629.1,219.7L634.2,217.7L640.2,219.1L646.2,221.1L652.2,220.5L654.2,220.1L654.2,220.1L658.2,226.1L661.8,232.1L664.2,238.1L664.6,240.5L664.6,240.5L660.2,244.1L656.2,248.1L654.6,249.1L654.6,249.1L652.2,249.7L646.2,247.1L639.2,244.5L635.2,242.5L628.1,245.1L620.1,246.1L612.1,247.7L605.7,250.1L605.1,249.1L604.1,242.1L605.7,236.1L608.1,230.1L611.1,227.1L616.1,228.1L621.1,232.1L626.1,235.1L629.1,232.1L630.1,226.1Z"/>
<path fill="#ffcf44" d="M605.7,250.1L612.1,247.7L620.1,246.1L628.1,245.1L635.2,242.5L639.2,244.5L646.2,247.1L652.2,249.7L654.6,249.1L654.6,249.1L653.2,254.1L655.2,259.1L652.2,264.1L649.2,269.1L650.2,274.1L645.2,278.1L639.2,281.1L633.1,282.5L633.1,282.5L631.1,280.1L628.1,278.1L623.1,277.1L623.1,277.1L623.7,275.1L622.5,268.1L616.1,266.5L609.7,266.1L609.1,265.1L607.1,258.1ZM605.7,250.1L612.1,247.7L620.1,246.1L628.1,245.1L635.2,242.5L639.2,244.5L646.2,247.1L652.2,249.7L654.6,249.1L654.6,249.1L653.2,254.1L655.2,259.1L652.2,264.1L649.2,269.1L650.2,274.1L645.2,278.1L639.2,281.1L633.1,282.5L633.1,282.5L631.1,280.1L628.1,278.1L623.1,277.1L623.1,277.1L623.7,275.1L622.5,268.1L616.1,266.5L609.7,266.1L609.1,265.1L607.1,258.1Z"/>
<path fill="#ffcf44" d="M609.7,266.1L616.1,266.5L622.5,268.1L623.7,275.1L623.1,277.1L623.1,277.1L610.1,278.1L598.1,279.1L599.7,272.5L606.1,271.1ZM609.7,266.1L616.1,266.5L622.5,268.1L623.7,275.1L623.1,277.1L623.1,277.1L610.1,278.1L598.1,279.1L599.7,272.5L606.1,271.1Z"/>
<path fill="#ffcf44" d="M523.4,216.8L520,214.2L517.8,211.6L516.6,209.9L514.4,213.8L511.4,215.9L508,218.5L504.5,221.9L501.1,225.4L497.7,228L494.2,229.7L489.9,230.1L485.6,228.8L482.2,226.2L478.7,222.8L477,219.4L477,215.9L479.2,213.8L479.6,210.8L477,211.6L474,210.8L473.6,207.3L474.5,203L474.9,198.7L473.6,195.3L474,191.9L475.3,188.4L474.5,185L473.6,181.6L475.3,178.1L476.2,175.5L474.9,172.5L475.7,169.5L477.9,166.5L480.5,164.4L483.9,162.2L486.5,160.1L489.1,158.4L491.6,155.8L494.2,154.1L497.7,152.8L500.2,149.8L502.8,147.2L505.4,146.3L508,145.9L509.7,142.9L513.1,138.6L516.6,134.3L520,130L520.1,130.1L523.1,125.1L526.1,120.1L529.1,113.1L531.1,106.1L534.1,100.1L538.1,93.1L541.1,86.1L544.1,80.1L548.1,76.1L552.1,71.1L550.1,66.1L551.1,60.1L554.1,55.1L559.1,50.1L565.1,45L570.1,41L575.1,36L580.1,32L586.1,28L592.1,25L599.2,21.6L606.2,22.4L612.2,24L618.2,26L619.2,30L616.2,33L620.2,36L619.8,37L619.8,37L616.2,39L613.2,40L613.2,40L610.2,37L604.2,37L599.2,40L597.2,45L598.2,51.1L595.8,56.1L590.1,59.1L584.1,60.1L579.1,60.1L574.1,57.1L570.1,61.1L570.1,61.1L566.1,65.1L561.1,69.1L557.1,74.1L553.1,79.1L550.1,84.1L549.1,91.1L546.1,98.1L544.1,104.1L541.1,109.1L540.1,116.1L539.1,124.1L538.1,130.1L539.1,136.1L535.1,139.1L530.1,141.1L528.1,146.2L527.1,152.2L527.1,160.2L528.5,168.2L530.1,175.2L531.7,181.2L530.1,187.2L530.5,194.2L528.5,200.2L527.1,207.2L526.1,213.2L524.5,216.2L523.7,216.2ZM529.2,79.8L533.3,75.2L536.5,73L538.4,73.9L535.1,77.5L530.6,81.2ZM540.2,68.8L543.9,64.2L548,60.1L549.8,61.5L545.7,66.1L542,70.2ZM559.5,44L563.6,41.8L568.6,40.8L569.3,43.1L564.7,45L560.8,45.9ZM552.1,53.2L555.6,50.9L557.9,52.3L554.4,55.1ZM523.4,216.8L520,214.2L517.8,211.6L516.6,209.9L514.4,213.8L511.4,215.9L508,218.5L504.5,221.9L501.1,225.4L497.7,228L494.2,229.7L489.9,230.1L485.6,228.8L482.2,226.2L478.7,222.8L477,219.4L477,215.9L479.2,213.8L479.6,210.8L477,211.6L474,210.8L473.6,207.3L474.5,203L474.9,198.7L473.6,195.3L474,191.9L475.3,188.4L474.5,185L473.6,181.6L475.3,178.1L476.2,175.5L474.9,172.5L475.7,169.5L477.9,166.5L480.5,164.4L483.9,162.2L486.5,160.1L489.1,158.4L491.6,155.8L494.2,154.1L497.7,152.8L500.2,149.8L502.8,147.2L505.4,146.3L508,145.9L509.7,142.9L513.1,138.6L516.6,134.3L520,130L520.1,130.1L523.1,125.1L526.1,120.1L529.1,113.1L531.1,106.1L534.1,100.1L538.1,93.1L541.1,86.1L544.1,80.1L548.1,76.1L552.1,71.1L550.1,66.1L551.1,60.1L554.1,55.1L559.1,50.1L565.1,45L570.1,41L575.1,36L580.1,32L586.1,28L592.1,25L599.2,21.6L606.2,22.4L612.2,24L618.2,26L619.2,30L616.2,33L620.2,36L619.8,37L619.8,37L616.2,39L613.2,40L613.2,40L610.2,37L604.2,37L599.2,40L597.2,45L598.2,51.1L595.8,56.1L590.1,59.1L584.1,60.1L579.1,60.1L574.1,57.1L570.1,61.1L570.1,61.1L566.1,65.1L561.1,69.1L557.1,74.1L553.1,79.1L550.1,84.1L549.1,91.1L546.1,98.1L544.1,104.1L541.1,109.1L540.1,116.1L539.1,124.1L538.1,130.1L539.1,136.1L535.1,139.1L530.1,141.1L528.1,146.2L527.1,152.2L527.1,160.2L528.5,168.2L530.1,175.2L531.7,181.2L530.1,187.2L530.5,194.2L528.5,200.2L527.1,207.2L526.1,213.2L524.5,216.2L523.7,216.2ZM529.2,79.8L533.3,75.2L536.5,73L538.4,73.9L535.1,77.5L530.6,81.2ZM540.2,68.8L543.9,64.2L548,60.1L549.8,61.5L545.7,66.1L542,70.2ZM559.5,44L563.6,41.8L568.6,40.8L569.3,43.1L564.7,45L560.8,45.9ZM552.1,53.2L555.6,50.9L557.9,52.3L554.4,55.1Z"/>
<path fill="#d01c8b" d="M524.5,216.2L526.1,213.2L527.1,207.2L528.5,200.2L530.5,194.2L530.1,187.2L531.7,181.2L530.1,175.2L528.5,168.2L527.1,160.2L527.1,152.2L528.1,146.2L530.1,141.1L535.1,139.1L539.1,136.1L538.1,130.1L539.1,124.1L540.1,116.1L541.1,109.1L544.1,104.1L546.1,98.1L549.1,91.1L550.1,84.1L553.1,79.1L557.1,74.1L561.1,69.1L566.1,65.1L570.1,61.1L570.1,61.1L575.1,64.1L580.1,67.1L586.1,70.1L589.1,75.1L592.1,82.1L593.1,89.1L595.2,96.1L598.2,102.1L597.2,104.5L596.2,105.1L596.2,105.1L591.1,106.1L588.1,109.1L586.1,114.1L585.1,120.1L587.7,125.1L586.1,131.1L583.1,136.1L579.1,141.1L575.1,146.2L571.1,150.2L568.1,155.2L567.1,160.2L564.5,165.2L565.1,172.2L564.5,178.2L566.1,184.2L568.1,188.2L572.1,190.2L576.1,193.2L579.1,197.2L580.1,200.2L577.1,205.2L575.1,210.2L571.1,215.2L567.1,218.2L563.1,220.2L564.1,220.1L566.1,226.1L565.1,234.1L566.1,242.1L565.1,249.1L563.1,254.1L558.1,257.1L552.1,259.1L550.1,264.1L548.1,268.1L544.1,270.1L538.1,270.1L536.4,266.1L536.4,262.1L535,256.1L533,250.1L530,243.3L527,236.1L524,229.3L522,222.1L523.6,216.3ZM579.1,233.1L582.1,229.1L586.1,227.1L585.1,232.1L583.1,238.1L580.5,242.5L579.1,239.1ZM569.1,239.1L570.5,244.1L568.1,250.1L566.1,255.1L567.1,249.1L568.1,243.1ZM524.5,216.2L526.1,213.2L527.1,207.2L528.5,200.2L530.5,194.2L530.1,187.2L531.7,181.2L530.1,175.2L528.5,168.2L527.1,160.2L527.1,152.2L528.1,146.2L530.1,141.1L535.1,139.1L539.1,136.1L538.1,130.1L539.1,124.1L540.1,116.1L541.1,109.1L544.1,104.1L546.1,98.1L549.1,91.1L550.1,84.1L553.1,79.1L557.1,74.1L561.1,69.1L566.1,65.1L570.1,61.1L570.1,61.1L575.1,64.1L580.1,67.1L586.1,70.1L589.1,75.1L592.1,82.1L593.1,89.1L595.2,96.1L598.2,102.1L597.2,104.5L596.2,105.1L596.2,105.1L591.1,106.1L588.1,109.1L586.1,114.1L585.1,120.1L587.7,125.1L586.1,131.1L583.1,136.1L579.1,141.1L575.1,146.2L571.1,150.2L568.1,155.2L567.1,160.2L564.5,165.2L565.1,172.2L564.5,178.2L566.1,184.2L568.1,188.2L572.1,190.2L576.1,193.2L579.1,197.2L580.1,200.2L577.1,205.2L575.1,210.2L571.1,215.2L567.1,218.2L563.1,220.2L564.1,220.1L566.1,226.1L565.1,234.1L566.1,242.1L565.1,249.1L563.1,254.1L558.1,257.1L552.1,259.1L550.1,264.1L548.1,268.1L544.1,270.1L538.1,270.1L536.4,266.1L536.4,262.1L535,256.1L533,250.1L530,243.3L527,236.1L524,229.3L522,222.1L523.6,216.3ZM579.1,233.1L582.1,229.1L586.1,227.1L585.1,232.1L583.1,238.1L580.5,242.5L579.1,239.1ZM569.1,239.1L570.5,244.1L568.1,250.1L566.1,255.1L567.1,249.1L568.1,243.1Z"/>
<path fill="#ffcf44" d="M570.1,61.1L574.1,57.1L579.1,60.1L584.1,60.1L590.1,59.1L595.8,56.1L598.2,51.1L597.2,45L599.2,40L604.2,37L610.2,37L613.2,40L613.2,40L616,45L614.4,51.1L617,57.1L622,62.1L626,69.1L628,77.1L631,84.1L635,92.1L637,100.1L639,108.1L643,114.1L647,120.1L653,126.1L658.1,131.1L660.1,136.1L659.1,143.1L657,150.2L655,158.2L652,165.2L649,170.2L648,173.8L648,173.8L642,177.2L636,180.2L630,183.2L624,186.2L618,189.2L613,192.2L610.2,193.2L606.2,190.2L601.2,187.2L597.2,184.2L595.8,178.2L594.6,170.2L592.1,162.2L590.1,155.2L591.1,149.2L593.1,143.1L596.2,138.1L599.2,133.1L602.2,128.1L605.2,122.1L608.2,116.1L610.2,111.1L607.2,106.1L602.2,104.1L596.2,105.1L596.2,105.1L597.2,104.5L598.2,102.1L595.2,96.1L593.1,89.1L592.1,82.1L589.1,75.1L586.1,70.1L580.1,67.1L575.1,64.1L570.1,61.1ZM570.1,61.1L574.1,57.1L579.1,60.1L584.1,60.1L590.1,59.1L595.8,56.1L598.2,51.1L597.2,45L599.2,40L604.2,37L610.2,37L613.2,40L613.2,40L616,45L614.4,51.1L617,57.1L622,62.1L626,69.1L628,77.1L631,84.1L635,92.1L637,100.1L639,108.1L643,114.1L647,120.1L653,126.1L658.1,131.1L660.1,136.1L659.1,143.1L657,150.2L655,158.2L652,165.2L649,170.2L648,173.8L648,173.8L642,177.2L636,180.2L630,183.2L624,186.2L618,189.2L613,192.2L610.2,193.2L606.2,190.2L601.2,187.2L597.2,184.2L595.8,178.2L594.6,170.2L592.1,162.2L590.1,155.2L591.1,149.2L593.1,143.1L596.2,138.1L599.2,133.1L602.2,128.1L605.2,122.1L608.2,116.1L610.2,111.1L607.2,106.1L602.2,104.1L596.2,105.1L596.2,105.1L597.2,104.5L598.2,102.1L595.2,96.1L593.1,89.1L592.1,82.1L589.1,75.1L586.1,70.1L580.1,67.1L575.1,64.1L570.1,61.1Z"/>
<path fill="#d01c8b" d="M514.5,235.9L515.8,238.4L514.9,242.5L513.7,246.7L514.1,250L515.8,253.4L518.3,255L517.4,257.1L515.4,258.4L514.1,260.5L513.7,263.4L512,265.9L510.8,268.4L509.5,270.5L508.3,273.4L507.4,276.7L507,278.4L507,278.4L503.7,278.2L500.3,277.1L497.8,273.4L496.2,269.2L495.3,265.1L495.3,260L495.8,255L496.6,250.9L498.7,247.5L502,245L506.2,242.5L510.4,239.2L512.9,237.1ZM511.2,268.8L513.7,267.4L517,268.4L518.3,270.9L517.9,273.8L515.4,275.5L512.4,275.1L511,273ZM520.4,265.9L522.9,264.2L525.8,262.5L528.7,260L531.6,259.6L532.9,262.5L532.5,265.9L533.3,268.4L531.2,270.5L530.4,273.4L528.7,276.3L527,277.6L525.4,275.1L523.3,273.4L521.6,270.9L520.8,268.4ZM520.4,278.8L523.7,279.2L526.6,280.9L525.8,282.2L522.9,281.7L520.8,280.5ZM551.7,271.7L554.6,271.6L555.8,273.4L554.2,274.6L552.1,273.8ZM514.5,235.9L515.8,238.4L514.9,242.5L513.7,246.7L514.1,250L515.8,253.4L518.3,255L517.4,257.1L515.4,258.4L514.1,260.5L513.7,263.4L512,265.9L510.8,268.4L509.5,270.5L508.3,273.4L507.4,276.7L507,278.4L507,278.4L503.7,278.2L500.3,277.1L497.8,273.4L496.2,269.2L495.3,265.1L495.3,260L495.8,255L496.6,250.9L498.7,247.5L502,245L506.2,242.5L510.4,239.2L512.9,237.1ZM511.2,268.8L513.7,267.4L517,268.4L518.3,270.9L517.9,273.8L515.4,275.5L512.4,275.1L511,273ZM520.4,265.9L522.9,264.2L525.8,262.5L528.7,260L531.6,259.6L532.9,262.5L532.5,265.9L533.3,268.4L531.2,270.5L530.4,273.4L528.7,276.3L527,277.6L525.4,275.1L523.3,273.4L521.6,270.9L520.8,268.4ZM520.4,278.8L523.7,279.2L526.6,280.9L525.8,282.2L522.9,281.7L520.8,280.5ZM551.7,271.7L554.6,271.6L555.8,273.4L554.2,274.6L552.1,273.8Z"/>
<path fill="#ffcf44" d="M452,328.1L453,325.1L456,322.5L460,317L463,310L465.6,305L469.1,301.6L475.1,299.6L482.1,299L485.1,300L485.1,300L486.1,305L484.5,310L483.1,315L480.1,318.1L481.1,322.1L477.1,325.1L474.1,329.1L473.7,334.1L471.7,337.1L471.7,337.1L472.5,334.1L471.1,331.1L467,329.7L462,328.1L457,329.1L452,328.1ZM452,328.1L453,325.1L456,322.5L460,317L463,310L465.6,305L469.1,301.6L475.1,299.6L482.1,299L485.1,300L485.1,300L486.1,305L484.5,310L483.1,315L480.1,318.1L481.1,322.1L477.1,325.1L474.1,329.1L473.7,334.1L471.7,337.1L471.7,337.1L472.5,334.1L471.1,331.1L467,329.7L462,328.1L457,329.1L452,328.1Z"/>
<path fill="#ffcf44" d="M440,333.7L445,331.1L450,329.1L452,328.1L452,328.1L457,329.1L462,328.1L467,329.7L471.1,331.1L472.5,334.1L471.7,337.1L471.7,337.1L474.1,341.1L473.7,345.1L475.1,349.1L475.1,349.1L472.5,352.1L471.1,355.1L471.1,355.1L469.1,356.1L466,354.1L462,351.7L459,349.1L456,349.7L453,347.1L450,343.7L447,340.1L443.6,337.1L440,333.7ZM440,333.7L445,331.1L450,329.1L452,328.1L452,328.1L457,329.1L462,328.1L467,329.7L471.1,331.1L472.5,334.1L471.7,337.1L471.7,337.1L474.1,341.1L473.7,345.1L475.1,349.1L475.1,349.1L472.5,352.1L471.1,355.1L471.1,355.1L469.1,356.1L466,354.1L462,351.7L459,349.1L456,349.7L453,347.1L450,343.7L447,340.1L443.6,337.1L440,333.7Z"/>
<path fill="#d01c8b" d="M475.1,349.1L477.1,352.1L476.5,356.1L475.7,358.5L475.7,358.5L472.5,358.1L471.1,355.1L471.1,355.1L472.5,352.1L475.1,349.1ZM475.1,349.1L477.1,352.1L476.5,356.1L475.7,358.5L475.7,358.5L472.5,358.1L471.1,355.1L471.1,355.1L472.5,352.1L475.1,349.1Z"/>
<path fill="#ffcf44" d="M393,210.2L396.9,210.8L401.5,211.3L405.4,211.1L408.3,211.9L406.6,215.3L403.7,218.1L400.3,221L398.6,224.4L400.3,226.1L404.9,226.6L409.4,227.2L413.9,228.3L415.6,230.6L413.9,234L411.7,238L409.4,240.8L406.6,243.6L403.7,245.3L400.3,247L398.1,249.3L401.5,251L404.9,252.1L407.7,255L410,258.9L411.1,263.5L412.2,268L413.9,272.5L416.8,277.1L419.6,281L421.9,285L422.4,289.5L421.9,292.9L423,297.5L422.4,301.4L425.3,302.6L429.8,303.1L433.8,305.4L435.5,308.8L434.9,313.4L432.1,317.9L428.7,321.3L425.8,323.6L423,324.7L426.4,326.4L430.4,327.5L429.8,329.8L426.4,332.1L421.9,333.8L417.3,334.9L412.8,334.3L408.3,333.8L403.7,334.3L399.2,333.2L394.7,332.6L390.1,333.2L385.6,334.3L381.1,335.5L376.5,336L372,335.5L367.5,336L362.9,336L360.1,334.9L363.5,332.6L367.5,330.4L370.9,327.5L373.7,324.7L377.1,322.4L381.6,321.9L386.2,321.9L390.1,320.2L393.5,317.9L390.1,318.5L386.2,319.6L382.8,317.9L379.4,316.2L375.4,314.5L371.4,312.8L369.2,310.5L370.9,308.8L375.4,307.7L379.4,306.5L382.2,304.3L383.3,300.9L382.8,296.9L382.2,292.9L381.6,289.5L383.9,289.5L387.9,290.7L392.4,291.2L395.2,289.5L396.9,286.1L397.5,282.2L395.8,279.3L393.5,277.1L392.4,274.2L394.1,270.3L395.2,267.4L392.4,268L388.4,268L384.5,267.4L381.6,266.3L380.5,264L382.8,261.2L385,257.8L386.7,254.4L385.6,251L383.9,247.6L385,245.3L382.8,242.5L381.6,239.1L383.3,236.3L383.9,232.9L383.3,229.5L382.8,226.1L384.5,222.7L386.7,219.8L389,217L390.7,213.6ZM375.1,212.1L380.1,209.7L384.1,209.1L382.5,213.1L379.1,217.1L375.7,216.5ZM376.1,222.1L380.1,221.1L382.5,225.1L381.1,229.1L378.1,227.1ZM372.1,249.2L377.1,247.2L379.1,250.2L377.7,255.2L374.1,252.2ZM393,210.2L396.9,210.8L401.5,211.3L405.4,211.1L408.3,211.9L406.6,215.3L403.7,218.1L400.3,221L398.6,224.4L400.3,226.1L404.9,226.6L409.4,227.2L413.9,228.3L415.6,230.6L413.9,234L411.7,238L409.4,240.8L406.6,243.6L403.7,245.3L400.3,247L398.1,249.3L401.5,251L404.9,252.1L407.7,255L410,258.9L411.1,263.5L412.2,268L413.9,272.5L416.8,277.1L419.6,281L421.9,285L422.4,289.5L421.9,292.9L423,297.5L422.4,301.4L425.3,302.6L429.8,303.1L433.8,305.4L435.5,308.8L434.9,313.4L432.1,317.9L428.7,321.3L425.8,323.6L423,324.7L426.4,326.4L430.4,327.5L429.8,329.8L426.4,332.1L421.9,333.8L417.3,334.9L412.8,334.3L408.3,333.8L403.7,334.3L399.2,333.2L394.7,332.6L390.1,333.2L385.6,334.3L381.1,335.5L376.5,336L372,335.5L367.5,336L362.9,336L360.1,334.9L363.5,332.6L367.5,330.4L370.9,327.5L373.7,324.7L377.1,322.4L381.6,321.9L386.2,321.9L390.1,320.2L393.5,317.9L390.1,318.5L386.2,319.6L382.8,317.9L379.4,316.2L375.4,314.5L371.4,312.8L369.2,310.5L370.9,308.8L375.4,307.7L379.4,306.5L382.2,304.3L383.3,300.9L382.8,296.9L382.2,292.9L381.6,289.5L383.9,289.5L387.9,290.7L392.4,291.2L395.2,289.5L396.9,286.1L397.5,282.2L395.8,279.3L393.5,277.1L392.4,274.2L394.1,270.3L395.2,267.4L392.4,268L388.4,268L384.5,267.4L381.6,266.3L380.5,264L382.8,261.2L385,257.8L386.7,254.4L385.6,251L383.9,247.6L385,245.3L382.8,242.5L381.6,239.1L383.3,236.3L383.9,232.9L383.3,229.5L382.8,226.1L384.5,222.7L386.7,219.8L389,217L390.7,213.6ZM375.1,212.1L380.1,209.7L384.1,209.1L382.5,213.1L379.1,217.1L375.7,216.5ZM376.1,222.1L380.1,221.1L382.5,225.1L381.1,229.1L378.1,227.1ZM372.1,249.2L377.1,247.2L379.1,250.2L377.7,255.2L374.1,252.2Z"/>
<path fill="#ffcf44" d="M348.6,260.3L350.8,257.8L353.7,255.2L357.3,254.1L361,254.5L363.2,253.4L365.4,255.2L367.6,257L370.8,257.4L373.4,259.2L374.5,262.5L374.9,266.2L375.9,269.1L374.5,272L372.7,273.8L369.7,274.9L367.2,275.3L366.5,277.8L367.2,281.5L366.8,285.9L366.1,290.3L364.6,294.6L362.4,298.3L360.6,301.2L358.1,301.6L355.1,300.8L351.5,301.6L347.8,302.7L344.2,303.8L340.5,305.2L336.9,305.9L332.5,305.9L328.1,305.6L325.9,304.5L327,302.7L324.5,301.9L325.2,300.1L322.7,299L323.8,296.8L325.9,295.7L324.1,293.9L325.9,292.4L328.9,291.7L331.1,289.5L333.2,288.1L336.2,287L339.1,285.9L340.5,283.3L339.1,281.5L336.9,281.1L334.7,280L332.5,277.5L331.8,274.9L333.6,273.1L335.8,272L336.2,270.2L333.6,267.6L335.4,265.8L335.8,263.6L339.1,264.3L342.7,265.4L345.7,266.5L347.8,265.8L350.8,264.7L351.9,262.9L350,261.4ZM348.6,260.3L350.8,257.8L353.7,255.2L357.3,254.1L361,254.5L363.2,253.4L365.4,255.2L367.6,257L370.8,257.4L373.4,259.2L374.5,262.5L374.9,266.2L375.9,269.1L374.5,272L372.7,273.8L369.7,274.9L367.2,275.3L366.5,277.8L367.2,281.5L366.8,285.9L366.1,290.3L364.6,294.6L362.4,298.3L360.6,301.2L358.1,301.6L355.1,300.8L351.5,301.6L347.8,302.7L344.2,303.8L340.5,305.2L336.9,305.9L332.5,305.9L328.1,305.6L325.9,304.5L327,302.7L324.5,301.9L325.2,300.1L322.7,299L323.8,296.8L325.9,295.7L324.1,293.9L325.9,292.4L328.9,291.7L331.1,289.5L333.2,288.1L336.2,287L339.1,285.9L340.5,283.3L339.1,281.5L336.9,281.1L334.7,280L332.5,277.5L331.8,274.9L333.6,273.1L335.8,272L336.2,270.2L333.6,267.6L335.4,265.8L335.8,263.6L339.1,264.3L342.7,265.4L345.7,266.5L347.8,265.8L350.8,264.7L351.9,262.9L350,261.4Z"/>
<path fill="#dba507" d="M302.7,63.8L306,61.9L309.7,59.1L313.5,57.7L316.3,56.3L320,56.1L321.9,58.1L323.3,61.9L322.8,66.1L321.4,69.4L320,72.2L321.9,73.2L324.7,72.2L327.5,69.9L329.9,68L331.8,69.4L332.7,71.7L335,70.3L337.9,70.2L339.7,72.2L341.1,75L342.6,72.7L344.4,73.2L346.3,75L349.1,74.6L351.9,74.1L353.8,71.7L356.6,71.7L358,74.1L357.6,76.4L361.3,76.9L364.1,77.4L361.3,78.8L359.9,81.1L361.3,83.5L361.8,86.8L364.1,90L365.1,91.9L363.7,94.7L362.3,97.6L360.4,99.9L357.6,101.3L354.8,103.7L351,105.1L347.2,105.5L343.5,106.5L339.7,107.4L336,107.7L332.2,107.4L328.5,108.8L325.7,109.8L321.9,109.3L319.1,107.9L316.7,106L314.9,103.7L313,101.3L312.1,98.5L311.1,96.1L308.8,94.7L306,93.8L303.1,92.9L300.3,91.5L300.8,89.1L302.7,89.1L305,90L307.8,88.6L310.2,87.2L308.8,85.4L309.7,83L308.8,80.7L309.7,78.8L307.8,77.4L305,76.4L302.2,76L299.9,75L300.8,73.6L304.1,74.1L307.4,75L310.6,75L313.5,76L315.3,75L317.2,72.7L315.8,70.8L313.5,69.4L311.1,68.5L308.8,67.5L306,67.1L304.1,65.6ZM302.7,63.8L306,61.9L309.7,59.1L313.5,57.7L316.3,56.3L320,56.1L321.9,58.1L323.3,61.9L322.8,66.1L321.4,69.4L320,72.2L321.9,73.2L324.7,72.2L327.5,69.9L329.9,68L331.8,69.4L332.7,71.7L335,70.3L337.9,70.2L339.7,72.2L341.1,75L342.6,72.7L344.4,73.2L346.3,75L349.1,74.6L351.9,74.1L353.8,71.7L356.6,71.7L358,74.1L357.6,76.4L361.3,76.9L364.1,77.4L361.3,78.8L359.9,81.1L361.3,83.5L361.8,86.8L364.1,90L365.1,91.9L363.7,94.7L362.3,97.6L360.4,99.9L357.6,101.3L354.8,103.7L351,105.1L347.2,105.5L343.5,106.5L339.7,107.4L336,107.7L332.2,107.4L328.5,108.8L325.7,109.8L321.9,109.3L319.1,107.9L316.7,106L314.9,103.7L313,101.3L312.1,98.5L311.1,96.1L308.8,94.7L306,93.8L303.1,92.9L300.3,91.5L300.8,89.1L302.7,89.1L305,90L307.8,88.6L310.2,87.2L308.8,85.4L309.7,83L308.8,80.7L309.7,78.8L307.8,77.4L305,76.4L302.2,76L299.9,75L300.8,73.6L304.1,74.1L307.4,75L310.6,75L313.5,76L315.3,75L317.2,72.7L315.8,70.8L313.5,69.4L311.1,68.5L308.8,67.5L306,67.1L304.1,65.6Z"/>
<path fill="#a09d98" d="M368.1,227.1L370.5,223.1L372.1,220.1L373.1,222.5L371.1,226.5L369.1,229.1ZM376.1,238.1L380.1,236.1L381.7,239.1L378.5,241.1ZM381.1,275.2L384.1,273.2L385.1,276.2L382.1,278.2ZM406.5,205.7L410.1,203.7L413.7,204.5L412.1,208.1L408.1,209.7ZM424.2,188.1L428.2,184.1L431.8,182.1L430.6,187.1L427.8,192.1L425.8,195.1L424.6,191.1ZM378.5,295.2L381.1,293.8L381.7,296.2ZM400.1,333.8L403.1,333.2L402.5,335.2ZM374.1,232.1L376.5,231.1L376.1,234.5ZM379.7,255.2L381.3,254.6L381.7,258.2L380.1,258.2ZM388.5,153.1L392.1,151.1L395.7,152.1L394.5,156.1L392.1,158.5L390.5,164.1L389.3,160.1L390.1,156.5ZM416.1,22.4L420.1,20L423.7,19.6L422.5,21.6L418.1,23.6ZM584,190.5L588,189L591,191L589,194L585,193.5ZM594,191.5L596.5,191L596.5,193.2L594.5,193.5ZM601,191L603,190.5L603,192.5L601,192.5ZM564,562.3L566.3,563L568.8,565.5L567.5,566.3L565,564.6ZM535,551.7L536.9,551.7L536.9,553.6L535.3,553.6ZM387.1,349L389.7,349.6L389.1,352L387.3,351.6ZM390.1,354L393.1,354.4L392.5,357L390.5,356.4ZM518.5,241L520,241L520,242.4L518.5,242.4ZM515.2,262.1L516.4,262.1L516.4,264.2L515.2,264.2ZM368.1,227.1L370.5,223.1L372.1,220.1L373.1,222.5L371.1,226.5L369.1,229.1ZM376.1,238.1L380.1,236.1L381.7,239.1L378.5,241.1ZM381.1,275.2L384.1,273.2L385.1,276.2L382.1,278.2ZM406.5,205.7L410.1,203.7L413.7,204.5L412.1,208.1L408.1,209.7ZM424.2,188.1L428.2,184.1L431.8,182.1L430.6,187.1L427.8,192.1L425.8,195.1L424.6,191.1ZM378.5,295.2L381.1,293.8L381.7,296.2ZM400.1,333.8L403.1,333.2L402.5,335.2ZM374.1,232.1L376.5,231.1L376.1,234.5ZM379.7,255.2L381.3,254.6L381.7,258.2L380.1,258.2ZM388.5,153.1L392.1,151.1L395.7,152.1L394.5,156.1L392.1,158.5L390.5,164.1L389.3,160.1L390.1,156.5ZM416.1,22.4L420.1,20L423.7,19.6L422.5,21.6L418.1,23.6ZM584,190.5L588,189L591,191L589,194L585,193.5ZM594,191.5L596.5,191L596.5,193.2L594.5,193.5ZM601,191L603,190.5L603,192.5L601,192.5ZM564,562.3L566.3,563L568.8,565.5L567.5,566.3L565,564.6ZM535,551.7L536.9,551.7L536.9,553.6L535.3,553.6ZM387.1,349L389.7,349.6L389.1,352L387.3,351.6ZM390.1,354L393.1,354.4L392.5,357L390.5,356.4ZM518.5,241L520,241L520,242.4L518.5,242.4ZM515.2,262.1L516.4,262.1L516.4,264.2L515.2,264.2Z"/>
<path fill="#d01c8b" d="M835.1,385.9L841.2,383.2L848,381.9L854.8,380.5L861.5,378.5L868.3,377.8L875.1,378.5L878.5,379.1L881.9,376.4L885.9,374.4L891.4,373L896.8,373L898.8,375.1L900.8,377.1L904.9,377.8L907.6,377.8L907.6,377.8L906.9,379.1L908.3,381.9L912.4,382.5L915.8,383.9L915.1,386.6L910.3,388L902.9,388.6L899.5,390.7L899.5,390.7L898.1,392L894.1,395.4L889.3,399.5L884.6,403.1L884.6,403.1L883.2,403.5L879.2,402.2L875.1,400.8L871,400.8L867,402.9L862.6,405.3L862.6,405.3L861.5,402.2L859.5,397.4L856.1,393.4L852,390.7L846.6,389.3L839.8,388L835.1,385.9ZM835.1,385.9L841.2,383.2L848,381.9L854.8,380.5L861.5,378.5L868.3,377.8L875.1,378.5L878.5,379.1L881.9,376.4L885.9,374.4L891.4,373L896.8,373L898.8,375.1L900.8,377.1L904.9,377.8L907.6,377.8L907.6,377.8L906.9,379.1L908.3,381.9L912.4,382.5L915.8,383.9L915.1,386.6L910.3,388L902.9,388.6L899.5,390.7L899.5,390.7L898.1,392L894.1,395.4L889.3,399.5L884.6,403.1L884.6,403.1L883.2,403.5L879.2,402.2L875.1,400.8L871,400.8L867,402.9L862.6,405.3L862.6,405.3L861.5,402.2L859.5,397.4L856.1,393.4L852,390.7L846.6,389.3L839.8,388L835.1,385.9Z"/>
<path fill="#00838f" d="M884.6,403.1L889.3,399.5L894.1,395.4L898.1,392L899.5,390.7L899.5,390.7L898.1,394.1L902.2,395.4L906.9,397.4L909,400.8L913,402.9L915.1,406.9L918.5,409L923.9,409.6L926.6,413L928.6,416.4L928.6,416.4L927.3,419.1L923.9,420.5L923.9,420.5L922.5,417.8L919.8,415.1L915.8,413L910.3,414.4L906.3,416.4L902.9,416.2L902.9,416.2L900.8,415.1L895.4,415.7L891.4,415.1L888.6,411L886.6,406.9L884.6,403.1ZM884.6,403.1L889.3,399.5L894.1,395.4L898.1,392L899.5,390.7L899.5,390.7L898.1,394.1L902.2,395.4L906.9,397.4L909,400.8L913,402.9L915.1,406.9L918.5,409L923.9,409.6L926.6,413L928.6,416.4L928.6,416.4L927.3,419.1L923.9,420.5L923.9,420.5L922.5,417.8L919.8,415.1L915.8,413L910.3,414.4L906.3,416.4L902.9,416.2L902.9,416.2L900.8,415.1L895.4,415.7L891.4,415.1L888.6,411L886.6,406.9L884.6,403.1Z"/>
<path fill="#0cdcf6" d="M907.6,377.8L913,379.1L918.5,379.8L923.9,379.1L927.3,376.4L928.6,372.4L929.3,367.6L930,366.3L934.1,369L938.8,371.7L944.2,374.4L949.6,375.8L955.1,375.1L957.1,376.4L953.7,378.5L951.7,381.9L951,386.6L952.4,392L953.7,397.4L954.4,400.8L955.3,406.9L955.7,411L955.7,411L953,411.7L948.3,410.3L944.9,409L946.3,405.6L944.2,403.5L942.2,400.2L938.8,399.5L936.1,402.2L933.4,406.9L930.7,412.4L928.6,416.4L928.6,416.4L926.6,413L923.9,409.6L918.5,409L915.1,406.9L913,402.9L909,400.8L906.9,397.4L902.2,395.4L898.1,394.1L899.5,390.7L899.5,390.7L902.9,388.6L910.3,388L915.1,386.6L915.8,383.9L912.4,382.5L908.3,381.9L906.9,379.1L907.6,377.8ZM902.9,416.2L906.3,416.4L910.3,414.4L915.8,413L919.8,415.1L922.5,417.8L923.9,420.5L923.9,420.5L919.8,421.8L915.8,421.2L911.7,419.8L907.6,418.5L903.3,417.8ZM907.6,377.8L913,379.1L918.5,379.8L923.9,379.1L927.3,376.4L928.6,372.4L929.3,367.6L930,366.3L934.1,369L938.8,371.7L944.2,374.4L949.6,375.8L955.1,375.1L957.1,376.4L953.7,378.5L951.7,381.9L951,386.6L952.4,392L953.7,397.4L954.4,400.8L955.3,406.9L955.7,411L955.7,411L953,411.7L948.3,410.3L944.9,409L946.3,405.6L944.2,403.5L942.2,400.2L938.8,399.5L936.1,402.2L933.4,406.9L930.7,412.4L928.6,416.4L928.6,416.4L926.6,413L923.9,409.6L918.5,409L915.1,406.9L913,402.9L909,400.8L906.9,397.4L902.2,395.4L898.1,394.1L899.5,390.7L899.5,390.7L902.9,388.6L910.3,388L915.1,386.6L915.8,383.9L912.4,382.5L908.3,381.9L906.9,379.1L907.6,377.8ZM902.9,416.2L906.3,416.4L910.3,414.4L915.8,413L919.8,415.1L922.5,417.8L923.9,420.5L923.9,420.5L919.8,421.8L915.8,421.2L911.7,419.8L907.6,418.5L903.3,417.8Z"/>
<path fill="#dba507" d="M728.8,458.8L733.8,457.7L738,457.2L746,455.2L753.1,451.2L758.1,446.2L764.1,441.2L770.1,436.2L777.1,432.2L784.1,430.2L790.1,428.2L793.1,429.2L798.1,430.2L804.1,429.2L809.1,431.2L816.1,430.2L824.1,429.2L832.1,427.2L840.1,424.2L847.2,421.2L852.2,418.2L857.2,413.1L861.2,408.1L862.6,405.3L862.6,405.3L867,402.9L871,400.8L875.1,400.8L879.2,402.2L883.2,403.5L884.6,403.1L884.6,403.1L886.6,406.9L888.6,411L891.4,415.1L895.4,415.7L900.8,415.1L902.9,416.2L903.3,417.8L901.5,423.2L904.9,429.3L908.1,434L910.1,440L914.2,444L918.2,448.1L920.2,452.1L920.2,452.1L918.2,454.5L913.2,455.1L907.1,457.1L901.1,458.1L896.1,460.1L893.1,465.1L893.1,465.1L887.1,469.1L879.1,473.1L871.1,478.1L863.1,483.1L855.1,487.1L847.1,490.1L839.1,494.1L834.3,496.5L833.7,502.1L832.9,508.1L829.7,511.7L829.7,511.7L826.9,507.1L825.5,502.1L826.1,497.7L823.1,501.1L818.1,506.1L812,510.1L807,513.1L803,517.1L797,520.1L791,522.5L785,521.7L777,517.1L767.5,517.1L762.7,521.2L758.1,527.9L751.3,530.6L745,527L742.6,526.3L738.9,527L735.1,526.3L732.6,525.1L730.1,526.3L726.4,525.1L723.2,523.2L720.7,520.1L718.8,516.3L718.2,513.2L715.1,511.9L711.3,510.7L707.6,509.4L706.3,506.3L707.6,504.4L711.3,503.8L712.6,501.3L710.7,498.8L708.8,495.7L710.1,492.6L708.8,490.1L705.1,491.9L701.3,491.3L700.7,487.5L700.1,482.5L700.7,478.2L702.7,477.7L706.9,476.3L712.4,475.7L715,476L717.1,474.4L720.2,473.4L723.4,472.3L727,471.3L730.1,470.8L731.7,468.7L733.3,466.6L735.9,465L739,463.5L733.8,463.6L730.1,463.1L728.8,458.8ZM698.2,470.7L698.8,466.9L699.8,463.8L700.1,460.6L698.2,458.8L695.1,459.4L699.1,456.2L703.1,453.2L708.2,451.2L713.2,450.2L713.5,449.9L715.5,453.6L719.2,456.2L723.4,457.7L728.6,458.8L730.1,463.1L726.5,463.5L722.3,464.5L718.2,466.1L715,468.2L712.4,470.8L710.9,473.4L706.7,475.7L702.5,477.2L700.4,480.1L699.4,480.5L699.9,477.5L701.5,475.1L697.8,474.9L697.3,472.8ZM728.8,458.8L733.8,457.7L738,457.2L746,455.2L753.1,451.2L758.1,446.2L764.1,441.2L770.1,436.2L777.1,432.2L784.1,430.2L790.1,428.2L793.1,429.2L798.1,430.2L804.1,429.2L809.1,431.2L816.1,430.2L824.1,429.2L832.1,427.2L840.1,424.2L847.2,421.2L852.2,418.2L857.2,413.1L861.2,408.1L862.6,405.3L862.6,405.3L867,402.9L871,400.8L875.1,400.8L879.2,402.2L883.2,403.5L884.6,403.1L884.6,403.1L886.6,406.9L888.6,411L891.4,415.1L895.4,415.7L900.8,415.1L902.9,416.2L903.3,417.8L901.5,423.2L904.9,429.3L908.1,434L910.1,440L914.2,444L918.2,448.1L920.2,452.1L920.2,452.1L918.2,454.5L913.2,455.1L907.1,457.1L901.1,458.1L896.1,460.1L893.1,465.1L893.1,465.1L887.1,469.1L879.1,473.1L871.1,478.1L863.1,483.1L855.1,487.1L847.1,490.1L839.1,494.1L834.3,496.5L833.7,502.1L832.9,508.1L829.7,511.7L829.7,511.7L826.9,507.1L825.5,502.1L826.1,497.7L823.1,501.1L818.1,506.1L812,510.1L807,513.1L803,517.1L797,520.1L791,522.5L785,521.7L777,517.1L767.5,517.1L762.7,521.2L758.1,527.9L751.3,530.6L745,527L742.6,526.3L738.9,527L735.1,526.3L732.6,525.1L730.1,526.3L726.4,525.1L723.2,523.2L720.7,520.1L718.8,516.3L718.2,513.2L715.1,511.9L711.3,510.7L707.6,509.4L706.3,506.3L707.6,504.4L711.3,503.8L712.6,501.3L710.7,498.8L708.8,495.7L710.1,492.6L708.8,490.1L705.1,491.9L701.3,491.3L700.7,487.5L700.1,482.5L700.7,478.2L702.7,477.7L706.9,476.3L712.4,475.7L715,476L717.1,474.4L720.2,473.4L723.4,472.3L727,471.3L730.1,470.8L731.7,468.7L733.3,466.6L735.9,465L739,463.5L733.8,463.6L730.1,463.1L728.8,458.8ZM698.2,470.7L698.8,466.9L699.8,463.8L700.1,460.6L698.2,458.8L695.1,459.4L699.1,456.2L703.1,453.2L708.2,451.2L713.2,450.2L713.5,449.9L715.5,453.6L719.2,456.2L723.4,457.7L728.6,458.8L730.1,463.1L726.5,463.5L722.3,464.5L718.2,466.1L715,468.2L712.4,470.8L710.9,473.4L706.7,475.7L702.5,477.2L700.4,480.1L699.4,480.5L699.9,477.5L701.5,475.1L697.8,474.9L697.3,472.8Z"/>
<path fill="#0cdcf6" d="M787.9,538.8L790,536.7L792.1,535.4L794.2,535L794.8,533.4L794.6,531.7L796.7,530.8L799.2,530L802.1,529L805,527.9L807.1,526.7L809.2,524.6L811.3,522.5L811.9,522.7L810.7,525L809.2,527.1L807.9,528.8L807.9,530.4L808.8,531.7L809.8,532.5L809.2,533.6L807.5,534.2L806.3,535.4L805,537.1L803.4,538.8L801.3,540.4L799.2,542.1L798.4,543.4L796.7,543.6L794.2,543.4L792.1,542.7L790,541.7L788.6,540.2ZM787.9,538.8L790,536.7L792.1,535.4L794.2,535L794.8,533.4L794.6,531.7L796.7,530.8L799.2,530L802.1,529L805,527.9L807.1,526.7L809.2,524.6L811.3,522.5L811.9,522.7L810.7,525L809.2,527.1L807.9,528.8L807.9,530.4L808.8,531.7L809.8,532.5L809.2,533.6L807.5,534.2L806.3,535.4L805,537.1L803.4,538.8L801.3,540.4L799.2,542.1L798.4,543.4L796.7,543.6L794.2,543.4L792.1,542.7L790,541.7L788.6,540.2Z"/>
<path class="ln" fill="none" d="M920.2,452.1L924.3,456L928.5,459.3L932.6,462.6L937.6,465.1L944.2,463.5L946.7,467.6L945.9,472.6L945.1,477.6L945.9,482.5L946.7,489.2L949.2,492.5L954.2,495L961.7,498.3"/>
<path class="ln" fill="none" d="M897.8,459.3L896.2,462.6L893.7,467.6L890.4,474.2L887,478.4L887.9,482.5L890.4,489.2L892,495.8L894.5,504.1L893.7,511.5L886.2,520.7L879.6,529L873,537.2"/>
<path class="ln" fill="none" d="M873,537.2L866.3,545.5L859.7,553.8L853.9,560.5L846.4,560.8L840.6,559.6"/>
<path class="ln" fill="none" d="M873,537.2L876.3,542.2L880.4,548L883.7,551.3"/>
<path class="ln" fill="none" d="M883.7,551.3L877.9,556.3L871.3,561.3L864.7,566.3L859.7,570.4L863.8,573.7L868,577"/>
<path class="ln" fill="none" d="M883.7,551.3L891.2,549.7L899.5,548.8L907.8,549.7L916.1,551.3L926,553.8L937.6,556.3L949.2,559.6L961.7,562.9"/>
<path class="ln" fill="none" d="M834,529.8L837.3,528.1L840.6,529L842.8,533.1L841.4,538.1L839.8,542.2L839,546.4L837.3,550.5L830.7,551.3"/>
<path class="ln" fill="none" d="M837.3,550.5L839.8,553.8L839.5,559.6L840.6,562.1L839.8,568.7L839,577"/>
<path class="ln" fill="none" d="M839.5,564.6L834,564.6L832.8,570.4L834,575.4L839,574.5"/>
<path class="ln" fill="none" d="M365.4,255.2L362.4,257L359.5,258.5L357,260.3L354.8,263.2L354.4,266.2L355.9,269.1L358.1,270.9L361,269.8L363.9,270.2L366.1,272L367.6,274.9"/>
<path class="ln" fill="none" d="M473.6,182L482.2,182.6L490.8,181.7L493.8,179.8"/>
<path class="ln" fill="none" d="M474,203L479.6,197.9L484.8,193.6L489.1,192.7"/>
<path class="ln" fill="none" d="M476.2,171.2L482.2,172.1L487.3,171.7"/>
</svg>
<div class="t h1" style="top:111px">Preferred alcoholic<br>beverage in 1990*</div>
<div class="t sub" style="top:203px">Based on recorded alcohol<br>consumption per capita (WHO)</div>
<div class="t note" style="top:295px">Strongly preferred = the<br>beverage accounts for at least<br>50 % of the pure alcohol<br>consumed per capita</div>
<div class="t foot" style="top:501px">* Czechia’s data from 1991<br>and Moldova’s &amp; Macedonia’s<br>data from 1992</div>
<div class="legend">
 <div class="sw" style="left:11px;top:11px;background:#ffcf44"></div><div class="sw" style="left:11px;top:62px;background:#dba507"></div>
 <div class="lb" style="left:69.5px;top:25px">Beer preferred</div><div class="lb" style="left:69.5px;top:76px">Beer strongly preferred</div>
 <div class="sw" style="left:321px;top:11px;background:#d01c8b"></div><div class="sw" style="left:321px;top:62px;background:#8e1360"></div>
 <div class="lb" style="left:379.5px;top:25px">Wine preferred</div><div class="lb" style="left:379.5px;top:76px">Wine strongly preferred</div>
 <div class="sw" style="left:630px;top:11px;background:#0cdcf6"></div><div class="sw" style="left:630px;top:62px;background:#00838f"></div>
 <div class="lb" style="left:688.5px;top:25px">Spirits preferred</div><div class="lb" style="left:688.5px;top:76px">Spirits strongly preferred</div>
</div>
<div class="t h1" style="top:829px">Preferred alcoholic<br>beverage in 2015</div>
<div class="t" style="top:1248px;font-weight:bold;font-size:18.7px;line-height:22px;letter-spacing:0.55px;color:#333">@NaytaData</div>
</body></html>
